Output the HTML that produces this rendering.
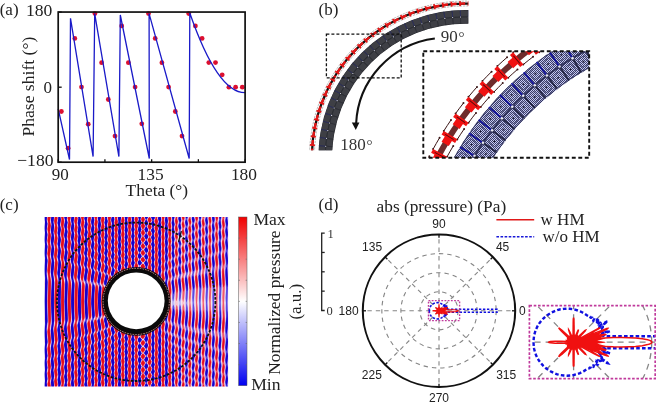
<!DOCTYPE html>
<html><head><meta charset="utf-8"><title>fig</title>
<style>html,body{margin:0;padding:0;background:#fff;overflow:hidden;width:656px;height:403px}svg{display:block;filter:blur(0.35px)}</style>
</head><body>
<svg width="656" height="403" viewBox="0 0 656 403">
<rect width="656" height="403" fill="#fff"/>
<g id="pa">
<circle cx="61.4" cy="111.5" r="2.4" fill="#dc1030"/>
<circle cx="68.1" cy="148.2" r="2.4" fill="#dc1030"/>
<circle cx="74.8" cy="38.4" r="2.4" fill="#dc1030"/>
<circle cx="81.5" cy="87.1" r="2.4" fill="#dc1030"/>
<circle cx="88.2" cy="124.2" r="2.4" fill="#dc1030"/>
<circle cx="94.9" cy="13.6" r="2.4" fill="#dc1030"/>
<circle cx="101.6" cy="62.7" r="2.4" fill="#dc1030"/>
<circle cx="108.3" cy="99.5" r="2.4" fill="#dc1030"/>
<circle cx="115" cy="136.1" r="2.4" fill="#dc1030"/>
<circle cx="121.7" cy="25.9" r="2.4" fill="#dc1030"/>
<circle cx="128.4" cy="62.7" r="2.4" fill="#dc1030"/>
<circle cx="135.1" cy="87.1" r="2.4" fill="#dc1030"/>
<circle cx="141.8" cy="123.8" r="2.4" fill="#dc1030"/>
<circle cx="148.5" cy="13.6" r="2.4" fill="#dc1030"/>
<circle cx="155.2" cy="38.4" r="2.4" fill="#dc1030"/>
<circle cx="161.9" cy="62.7" r="2.4" fill="#dc1030"/>
<circle cx="168.6" cy="87.1" r="2.4" fill="#dc1030"/>
<circle cx="175.3" cy="111.5" r="2.4" fill="#dc1030"/>
<circle cx="182" cy="136.1" r="2.4" fill="#dc1030"/>
<circle cx="188.7" cy="13.6" r="2.4" fill="#dc1030"/>
<circle cx="195.4" cy="25.9" r="2.4" fill="#dc1030"/>
<circle cx="202.1" cy="38.4" r="2.4" fill="#dc1030"/>
<circle cx="208.8" cy="62.6" r="2.4" fill="#dc1030"/>
<circle cx="215.5" cy="62.6" r="2.4" fill="#dc1030"/>
<circle cx="222.2" cy="74.8" r="2.4" fill="#dc1030"/>
<circle cx="228.9" cy="87.2" r="2.4" fill="#dc1030"/>
<circle cx="235.6" cy="87.2" r="2.4" fill="#dc1030"/>
<circle cx="242.3" cy="87.2" r="2.4" fill="#dc1030"/>
<path d="M58.2,108.9 L69.5,159.5 L70.5,18.3 L93.1,156.6 L94.7,13.6 L118.9,156.6 L120.3,15 L149.3,158.5 L149.1,13.6 L189.2,158.5 L189.8,13 Q217.4,92.7 245,92.7" fill="none" stroke="#1a1ac8" stroke-width="1.3" stroke-linejoin="miter"/>
<rect x="58.2" y="12.05" width="186.9" height="150.15" fill="none" stroke="#111" stroke-width="1.7"/>
<line x1="58.2" y1="12.05" x2="61.7" y2="12.05" stroke="#111" stroke-width="1.3"/>
<line x1="58.2" y1="87.2" x2="61.7" y2="87.2" stroke="#111" stroke-width="1.3"/>
<line x1="58.2" y1="162.2" x2="61.7" y2="162.2" stroke="#111" stroke-width="1.3"/>
<line x1="58.2" y1="162.2" x2="58.2" y2="159.2" stroke="#111" stroke-width="1.3"/>
<line x1="104.92" y1="162.2" x2="104.92" y2="159.2" stroke="#111" stroke-width="1.3"/>
<line x1="151.65" y1="162.2" x2="151.65" y2="159.2" stroke="#111" stroke-width="1.3"/>
<line x1="198.38" y1="162.2" x2="198.38" y2="159.2" stroke="#111" stroke-width="1.3"/>
<line x1="245.1" y1="162.2" x2="245.1" y2="159.2" stroke="#111" stroke-width="1.3"/>
<g font-family="Liberation Serif, serif" font-size="17" fill="#222">
<text x="-0.3" y="14.6">(a)</text>
<text x="25.9" y="16.1" font-size="17.6">180</text>
<text x="43.6" y="92.8">0</text>
<text x="17.2" y="165.6" font-size="17.6">&#8722;180</text>
<text x="51.8" y="180.3">90</text>
<text x="137.6" y="180.3" font-size="17.4">135</text>
<text x="230.9" y="180.3" font-size="17.4">180</text>
<text x="125.6" y="196.2" font-size="17.4">Theta (&#176;)</text>
<text transform="translate(34.1,136.6) rotate(-90)" font-size="17.6">Phase shift (&#176;)</text>
</g></g>
<defs>
<clipPath id="clipMainRing"><rect x="300" y="-5" width="168.3" height="155.3"/></clipPath>
<clipPath id="clipInset"><rect x="423.3" y="51.2" width="165.9" height="106.6"/></clipPath>
<pattern id="mesh" width="2" height="2" patternUnits="userSpaceOnUse"><rect width="2" height="2" fill="#c8ccf2"/><rect width="1" height="1" fill="#3c3e6c"/><rect x="1" y="1" width="1" height="1" fill="#3c3e6c"/></pattern>
</defs>
<g clip-path="url(#clipMainRing)">
<path d="M318.49,162.13 A147,147 0 0 1 470.53,10.09 L470.05,23.88 A133.2,133.2 0 0 0 332.28,161.65 Z" fill="#2a2b30"/>
<rect x="-3.43" y="-3.05" width="6.87" height="6.1" fill="#3e3f45" rx="1.2" transform="translate(328.75,157.94) rotate(269.61)"/>
<rect x="-3.63" y="-3.05" width="7.25" height="6.1" fill="#3e3f45" rx="1.2" transform="translate(321.85,157.98) rotate(269.61)"/>
<rect x="-3.43" y="-3.05" width="6.87" height="6.1" fill="#3e3f45" rx="1.2" transform="translate(328.92,150.27) rotate(272.82)"/>
<rect x="-3.63" y="-3.05" width="7.25" height="6.1" fill="#3e3f45" rx="1.2" transform="translate(322.02,149.94) rotate(272.82)"/>
<rect x="-3.43" y="-3.05" width="6.87" height="6.1" fill="#3e3f45" rx="1.2" transform="translate(329.51,142.63) rotate(276.03)"/>
<rect x="-3.63" y="-3.05" width="7.25" height="6.1" fill="#3e3f45" rx="1.2" transform="translate(322.65,141.91) rotate(276.03)"/>
<rect x="-3.43" y="-3.05" width="6.87" height="6.1" fill="#3e3f45" rx="1.2" transform="translate(330.53,135.04) rotate(279.25)"/>
<rect x="-3.63" y="-3.05" width="7.25" height="6.1" fill="#3e3f45" rx="1.2" transform="translate(323.72,133.93) rotate(279.25)"/>
<rect x="-3.43" y="-3.05" width="6.87" height="6.1" fill="#3e3f45" rx="1.2" transform="translate(331.97,127.51) rotate(282.46)"/>
<rect x="-3.63" y="-3.05" width="7.25" height="6.1" fill="#3e3f45" rx="1.2" transform="translate(325.23,126.02) rotate(282.46)"/>
<rect x="-3.43" y="-3.05" width="6.87" height="6.1" fill="#3e3f45" rx="1.2" transform="translate(333.83,120.08) rotate(285.68)"/>
<rect x="-3.63" y="-3.05" width="7.25" height="6.1" fill="#3e3f45" rx="1.2" transform="translate(327.19,118.21) rotate(285.68)"/>
<rect x="-3.43" y="-3.05" width="6.87" height="6.1" fill="#3e3f45" rx="1.2" transform="translate(336.11,112.76) rotate(288.89)"/>
<rect x="-3.63" y="-3.05" width="7.25" height="6.1" fill="#3e3f45" rx="1.2" transform="translate(329.58,110.52) rotate(288.89)"/>
<rect x="-3.43" y="-3.05" width="6.87" height="6.1" fill="#3e3f45" rx="1.2" transform="translate(338.79,105.58) rotate(292.11)"/>
<rect x="-3.63" y="-3.05" width="7.25" height="6.1" fill="#3e3f45" rx="1.2" transform="translate(332.4,102.98) rotate(292.11)"/>
<rect x="-3.43" y="-3.05" width="6.87" height="6.1" fill="#3e3f45" rx="1.2" transform="translate(341.88,98.56) rotate(295.32)"/>
<rect x="-3.63" y="-3.05" width="7.25" height="6.1" fill="#3e3f45" rx="1.2" transform="translate(335.64,95.61) rotate(295.32)"/>
<rect x="-3.43" y="-3.05" width="6.87" height="6.1" fill="#3e3f45" rx="1.2" transform="translate(345.35,91.73) rotate(298.53)"/>
<rect x="-3.63" y="-3.05" width="7.25" height="6.1" fill="#3e3f45" rx="1.2" transform="translate(339.29,88.43) rotate(298.53)"/>
<rect x="-3.43" y="-3.05" width="6.87" height="6.1" fill="#3e3f45" rx="1.2" transform="translate(349.2,85.1) rotate(301.75)"/>
<rect x="-3.63" y="-3.05" width="7.25" height="6.1" fill="#3e3f45" rx="1.2" transform="translate(343.33,81.47) rotate(301.75)"/>
<rect x="-3.43" y="-3.05" width="6.87" height="6.1" fill="#3e3f45" rx="1.2" transform="translate(353.41,78.7) rotate(304.96)"/>
<rect x="-3.63" y="-3.05" width="7.25" height="6.1" fill="#3e3f45" rx="1.2" transform="translate(347.75,74.74) rotate(304.96)"/>
<rect x="-3.43" y="-3.05" width="6.87" height="6.1" fill="#3e3f45" rx="1.2" transform="translate(357.98,72.54) rotate(308.18)"/>
<rect x="-3.63" y="-3.05" width="7.25" height="6.1" fill="#3e3f45" rx="1.2" transform="translate(352.55,68.28) rotate(308.18)"/>
<rect x="-3.43" y="-3.05" width="6.87" height="6.1" fill="#3e3f45" rx="1.2" transform="translate(362.88,66.65) rotate(311.39)"/>
<rect x="-3.63" y="-3.05" width="7.25" height="6.1" fill="#3e3f45" rx="1.2" transform="translate(357.7,62.09) rotate(311.39)"/>
<rect x="-3.43" y="-3.05" width="6.87" height="6.1" fill="#3e3f45" rx="1.2" transform="translate(368.11,61.05) rotate(314.6)"/>
<rect x="-3.63" y="-3.05" width="7.25" height="6.1" fill="#3e3f45" rx="1.2" transform="translate(363.19,56.2) rotate(314.6)"/>
<rect x="-3.43" y="-3.05" width="6.87" height="6.1" fill="#3e3f45" rx="1.2" transform="translate(373.64,55.74) rotate(317.82)"/>
<rect x="-3.63" y="-3.05" width="7.25" height="6.1" fill="#3e3f45" rx="1.2" transform="translate(369.01,50.63) rotate(317.82)"/>
<rect x="-3.43" y="-3.05" width="6.87" height="6.1" fill="#3e3f45" rx="1.2" transform="translate(379.46,50.76) rotate(321.03)"/>
<rect x="-3.63" y="-3.05" width="7.25" height="6.1" fill="#3e3f45" rx="1.2" transform="translate(375.12,45.39) rotate(321.03)"/>
<rect x="-3.43" y="-3.05" width="6.87" height="6.1" fill="#3e3f45" rx="1.2" transform="translate(385.55,46.11) rotate(324.25)"/>
<rect x="-3.63" y="-3.05" width="7.25" height="6.1" fill="#3e3f45" rx="1.2" transform="translate(381.52,40.51) rotate(324.25)"/>
<rect x="-3.43" y="-3.05" width="6.87" height="6.1" fill="#3e3f45" rx="1.2" transform="translate(391.9,41.8) rotate(327.46)"/>
<rect x="-3.63" y="-3.05" width="7.25" height="6.1" fill="#3e3f45" rx="1.2" transform="translate(388.18,35.99) rotate(327.46)"/>
<rect x="-3.43" y="-3.05" width="6.87" height="6.1" fill="#3e3f45" rx="1.2" transform="translate(398.47,37.86) rotate(330.67)"/>
<rect x="-3.63" y="-3.05" width="7.25" height="6.1" fill="#3e3f45" rx="1.2" transform="translate(395.09,31.85) rotate(330.67)"/>
<rect x="-3.43" y="-3.05" width="6.87" height="6.1" fill="#3e3f45" rx="1.2" transform="translate(405.25,34.3) rotate(333.89)"/>
<rect x="-3.63" y="-3.05" width="7.25" height="6.1" fill="#3e3f45" rx="1.2" transform="translate(402.22,28.1) rotate(333.89)"/>
<rect x="-3.43" y="-3.05" width="6.87" height="6.1" fill="#3e3f45" rx="1.2" transform="translate(412.23,31.12) rotate(337.1)"/>
<rect x="-3.63" y="-3.05" width="7.25" height="6.1" fill="#3e3f45" rx="1.2" transform="translate(409.54,24.76) rotate(337.1)"/>
<rect x="-3.43" y="-3.05" width="6.87" height="6.1" fill="#3e3f45" rx="1.2" transform="translate(419.37,28.34) rotate(340.31)"/>
<rect x="-3.63" y="-3.05" width="7.25" height="6.1" fill="#3e3f45" rx="1.2" transform="translate(417.05,21.84) rotate(340.31)"/>
<rect x="-3.43" y="-3.05" width="6.87" height="6.1" fill="#3e3f45" rx="1.2" transform="translate(426.66,25.96) rotate(343.53)"/>
<rect x="-3.63" y="-3.05" width="7.25" height="6.1" fill="#3e3f45" rx="1.2" transform="translate(424.7,19.34) rotate(343.53)"/>
<rect x="-3.43" y="-3.05" width="6.87" height="6.1" fill="#3e3f45" rx="1.2" transform="translate(434.06,23.99) rotate(346.74)"/>
<rect x="-3.63" y="-3.05" width="7.25" height="6.1" fill="#3e3f45" rx="1.2" transform="translate(432.48,17.28) rotate(346.74)"/>
<rect x="-3.43" y="-3.05" width="6.87" height="6.1" fill="#3e3f45" rx="1.2" transform="translate(441.57,22.44) rotate(349.96)"/>
<rect x="-3.63" y="-3.05" width="7.25" height="6.1" fill="#3e3f45" rx="1.2" transform="translate(440.37,15.65) rotate(349.96)"/>
<rect x="-3.43" y="-3.05" width="6.87" height="6.1" fill="#3e3f45" rx="1.2" transform="translate(449.15,21.32) rotate(353.17)"/>
<rect x="-3.63" y="-3.05" width="7.25" height="6.1" fill="#3e3f45" rx="1.2" transform="translate(448.33,14.47) rotate(353.17)"/>
<rect x="-3.43" y="-3.05" width="6.87" height="6.1" fill="#3e3f45" rx="1.2" transform="translate(456.78,20.62) rotate(356.38)"/>
<rect x="-3.63" y="-3.05" width="7.25" height="6.1" fill="#3e3f45" rx="1.2" transform="translate(456.35,13.74) rotate(356.38)"/>
<rect x="-3.43" y="-3.05" width="6.87" height="6.1" fill="#3e3f45" rx="1.2" transform="translate(464.44,20.35) rotate(359.6)"/>
<rect x="-3.63" y="-3.05" width="7.25" height="6.1" fill="#3e3f45" rx="1.2" transform="translate(464.4,13.45) rotate(359.6)"/>
<rect x="-3.43" y="-3.05" width="6.87" height="6.1" fill="#3e3f45" rx="1.2" transform="translate(472.11,20.51) rotate(362.81)"/>
<rect x="-3.63" y="-3.05" width="7.25" height="6.1" fill="#3e3f45" rx="1.2" transform="translate(472.44,13.62) rotate(362.81)"/>
<rect x="-3.43" y="-3.05" width="6.87" height="6.1" fill="#3e3f45" rx="1.2" transform="translate(479.75,21.11) rotate(366.03)"/>
<rect x="-3.63" y="-3.05" width="7.25" height="6.1" fill="#3e3f45" rx="1.2" transform="translate(480.47,14.24) rotate(366.03)"/>
<path d="M325.39,161.89 A140.1,140.1 0 0 1 470.29,16.99" fill="none" stroke="#2e3038" stroke-width="0.6"/>
<line x1="318.49" y1="162.13" x2="325.39" y2="161.89" stroke="#2c3070" stroke-width="0.7"/>
<line x1="325.39" y1="161.89" x2="332.28" y2="161.65" stroke="#30323a" stroke-width="0.6"/>
<circle cx="325.39" cy="161.89" r="0.55" fill="#e8e8f0"/>
<line x1="318.43" y1="153.89" x2="325.33" y2="154.03" stroke="#2c3070" stroke-width="0.7"/>
<line x1="325.33" y1="154.03" x2="332.23" y2="154.18" stroke="#30323a" stroke-width="0.6"/>
<circle cx="325.33" cy="154.03" r="0.55" fill="#e8e8f0"/>
<line x1="318.84" y1="145.65" x2="325.72" y2="146.18" stroke="#2c3070" stroke-width="0.7"/>
<line x1="325.72" y1="146.18" x2="332.6" y2="146.72" stroke="#30323a" stroke-width="0.6"/>
<circle cx="325.72" cy="146.18" r="0.55" fill="#e8e8f0"/>
<line x1="319.71" y1="137.45" x2="326.54" y2="138.37" stroke="#2c3070" stroke-width="0.7"/>
<line x1="326.54" y1="138.37" x2="333.38" y2="139.29" stroke="#30323a" stroke-width="0.6"/>
<circle cx="326.54" cy="138.37" r="0.55" fill="#e8e8f0"/>
<line x1="321.03" y1="129.31" x2="327.81" y2="130.61" stroke="#2c3070" stroke-width="0.7"/>
<line x1="327.81" y1="130.61" x2="334.58" y2="131.91" stroke="#30323a" stroke-width="0.6"/>
<circle cx="327.81" cy="130.61" r="0.55" fill="#e8e8f0"/>
<line x1="322.81" y1="121.26" x2="329.5" y2="122.94" stroke="#2c3070" stroke-width="0.7"/>
<line x1="329.5" y1="122.94" x2="336.2" y2="124.62" stroke="#30323a" stroke-width="0.6"/>
<circle cx="329.5" cy="122.94" r="0.55" fill="#e8e8f0"/>
<line x1="325.04" y1="113.33" x2="331.63" y2="115.38" stroke="#2c3070" stroke-width="0.7"/>
<line x1="331.63" y1="115.38" x2="338.21" y2="117.43" stroke="#30323a" stroke-width="0.6"/>
<circle cx="331.63" cy="115.38" r="0.55" fill="#e8e8f0"/>
<line x1="327.71" y1="105.52" x2="334.17" y2="107.94" stroke="#2c3070" stroke-width="0.7"/>
<line x1="334.17" y1="107.94" x2="340.63" y2="110.36" stroke="#30323a" stroke-width="0.6"/>
<circle cx="334.17" cy="107.94" r="0.55" fill="#e8e8f0"/>
<line x1="330.81" y1="97.89" x2="337.13" y2="100.66" stroke="#2c3070" stroke-width="0.7"/>
<line x1="337.13" y1="100.66" x2="343.44" y2="103.44" stroke="#30323a" stroke-width="0.6"/>
<circle cx="337.13" cy="100.66" r="0.55" fill="#e8e8f0"/>
<line x1="334.34" y1="90.43" x2="340.49" y2="93.56" stroke="#2c3070" stroke-width="0.7"/>
<line x1="340.49" y1="93.56" x2="346.64" y2="96.68" stroke="#30323a" stroke-width="0.6"/>
<circle cx="340.49" cy="93.56" r="0.55" fill="#e8e8f0"/>
<line x1="338.27" y1="83.19" x2="344.24" y2="86.65" stroke="#2c3070" stroke-width="0.7"/>
<line x1="344.24" y1="86.65" x2="350.21" y2="90.12" stroke="#30323a" stroke-width="0.6"/>
<circle cx="344.24" cy="86.65" r="0.55" fill="#e8e8f0"/>
<line x1="342.61" y1="76.18" x2="348.38" y2="79.97" stroke="#2c3070" stroke-width="0.7"/>
<line x1="348.38" y1="79.97" x2="354.14" y2="83.77" stroke="#30323a" stroke-width="0.6"/>
<circle cx="348.38" cy="79.97" r="0.55" fill="#e8e8f0"/>
<line x1="347.34" y1="69.42" x2="352.88" y2="73.53" stroke="#2c3070" stroke-width="0.7"/>
<line x1="352.88" y1="73.53" x2="358.42" y2="77.64" stroke="#30323a" stroke-width="0.6"/>
<circle cx="352.88" cy="73.53" r="0.55" fill="#e8e8f0"/>
<line x1="352.43" y1="62.94" x2="357.74" y2="67.35" stroke="#2c3070" stroke-width="0.7"/>
<line x1="357.74" y1="67.35" x2="363.04" y2="71.77" stroke="#30323a" stroke-width="0.6"/>
<circle cx="357.74" cy="67.35" r="0.55" fill="#e8e8f0"/>
<line x1="357.88" y1="56.75" x2="362.93" y2="61.46" stroke="#2c3070" stroke-width="0.7"/>
<line x1="362.93" y1="61.46" x2="367.98" y2="66.16" stroke="#30323a" stroke-width="0.6"/>
<circle cx="362.93" cy="61.46" r="0.55" fill="#e8e8f0"/>
<line x1="363.67" y1="50.88" x2="368.45" y2="55.86" stroke="#2c3070" stroke-width="0.7"/>
<line x1="368.45" y1="55.86" x2="373.22" y2="60.85" stroke="#30323a" stroke-width="0.6"/>
<circle cx="368.45" cy="55.86" r="0.55" fill="#e8e8f0"/>
<line x1="369.78" y1="45.35" x2="374.27" y2="50.59" stroke="#2c3070" stroke-width="0.7"/>
<line x1="374.27" y1="50.59" x2="378.76" y2="55.83" stroke="#30323a" stroke-width="0.6"/>
<circle cx="374.27" cy="50.59" r="0.55" fill="#e8e8f0"/>
<line x1="376.19" y1="40.16" x2="380.38" y2="45.65" stroke="#2c3070" stroke-width="0.7"/>
<line x1="380.38" y1="45.65" x2="384.57" y2="51.13" stroke="#30323a" stroke-width="0.6"/>
<circle cx="380.38" cy="45.65" r="0.55" fill="#e8e8f0"/>
<line x1="382.88" y1="35.34" x2="386.76" y2="41.05" stroke="#2c3070" stroke-width="0.7"/>
<line x1="386.76" y1="41.05" x2="390.63" y2="46.76" stroke="#30323a" stroke-width="0.6"/>
<circle cx="386.76" cy="41.05" r="0.55" fill="#e8e8f0"/>
<line x1="389.83" y1="30.91" x2="393.38" y2="36.83" stroke="#2c3070" stroke-width="0.7"/>
<line x1="393.38" y1="36.83" x2="396.93" y2="42.75" stroke="#30323a" stroke-width="0.6"/>
<circle cx="393.38" cy="36.83" r="0.55" fill="#e8e8f0"/>
<line x1="397.02" y1="26.87" x2="400.23" y2="32.98" stroke="#2c3070" stroke-width="0.7"/>
<line x1="400.23" y1="32.98" x2="403.44" y2="39.09" stroke="#30323a" stroke-width="0.6"/>
<circle cx="400.23" cy="32.98" r="0.55" fill="#e8e8f0"/>
<line x1="404.43" y1="23.24" x2="407.29" y2="29.52" stroke="#2c3070" stroke-width="0.7"/>
<line x1="407.29" y1="29.52" x2="410.15" y2="35.8" stroke="#30323a" stroke-width="0.6"/>
<circle cx="407.29" cy="29.52" r="0.55" fill="#e8e8f0"/>
<line x1="412.02" y1="20.03" x2="414.53" y2="26.46" stroke="#2c3070" stroke-width="0.7"/>
<line x1="414.53" y1="26.46" x2="417.03" y2="32.89" stroke="#30323a" stroke-width="0.6"/>
<circle cx="414.53" cy="26.46" r="0.55" fill="#e8e8f0"/>
<line x1="419.78" y1="17.26" x2="421.93" y2="23.82" stroke="#2c3070" stroke-width="0.7"/>
<line x1="421.93" y1="23.82" x2="424.07" y2="30.38" stroke="#30323a" stroke-width="0.6"/>
<circle cx="421.93" cy="23.82" r="0.55" fill="#e8e8f0"/>
<line x1="427.69" y1="14.92" x2="429.46" y2="21.59" stroke="#2c3070" stroke-width="0.7"/>
<line x1="429.46" y1="21.59" x2="431.23" y2="28.26" stroke="#30323a" stroke-width="0.6"/>
<circle cx="429.46" cy="21.59" r="0.55" fill="#e8e8f0"/>
<line x1="435.72" y1="13.03" x2="437.11" y2="19.79" stroke="#2c3070" stroke-width="0.7"/>
<line x1="437.11" y1="19.79" x2="438.5" y2="26.54" stroke="#30323a" stroke-width="0.6"/>
<circle cx="437.11" cy="19.79" r="0.55" fill="#e8e8f0"/>
<line x1="443.83" y1="11.59" x2="444.85" y2="18.42" stroke="#2c3070" stroke-width="0.7"/>
<line x1="444.85" y1="18.42" x2="445.86" y2="25.24" stroke="#30323a" stroke-width="0.6"/>
<circle cx="444.85" cy="18.42" r="0.55" fill="#e8e8f0"/>
<line x1="452.02" y1="10.61" x2="452.65" y2="17.48" stroke="#2c3070" stroke-width="0.7"/>
<line x1="452.65" y1="17.48" x2="453.28" y2="24.35" stroke="#30323a" stroke-width="0.6"/>
<circle cx="452.65" cy="17.48" r="0.55" fill="#e8e8f0"/>
<line x1="460.25" y1="10.09" x2="460.49" y2="16.99" stroke="#2c3070" stroke-width="0.7"/>
<line x1="460.49" y1="16.99" x2="460.73" y2="23.88" stroke="#30323a" stroke-width="0.6"/>
<circle cx="460.49" cy="16.99" r="0.55" fill="#e8e8f0"/>
<line x1="468.49" y1="10.03" x2="468.35" y2="16.93" stroke="#2c3070" stroke-width="0.7"/>
<line x1="468.35" y1="16.93" x2="468.2" y2="23.83" stroke="#30323a" stroke-width="0.6"/>
<circle cx="468.35" cy="16.93" r="0.55" fill="#e8e8f0"/>
<line x1="476.73" y1="10.44" x2="476.2" y2="17.32" stroke="#2c3070" stroke-width="0.7"/>
<line x1="476.2" y1="17.32" x2="475.67" y2="24.2" stroke="#30323a" stroke-width="0.6"/>
<circle cx="476.2" cy="17.32" r="0.55" fill="#e8e8f0"/>
<path d="M309.59,162.44 A155.9,155.9 0 0 1 470.84,1.19" fill="none" stroke="#9a9a9a" stroke-width="0.7" stroke-dasharray="2.2 1"/>
<path d="M314.49,162.27 A151,151 0 0 1 470.67,6.09" fill="none" stroke="#9a9a9a" stroke-width="0.7" stroke-dasharray="2.2 1"/>
<path d="M312.04,162.36 A153.45,153.45 0 0 1 470.76,3.64" fill="none" stroke="#141010" stroke-width="2.3"/>
<path d="M312.04,162.36 A153.45,153.45 0 0 1 311.95,157.19" fill="none" stroke="#e41616" stroke-width="2.4"/>
<rect x="-0.9" y="-2.5" width="1.8" height="5" fill="#e41616"  transform="translate(312.04,162.36) rotate(268)"/>
<path d="M311.98,153.75 A153.45,153.45 0 0 1 312.18,148.59" fill="none" stroke="#e41616" stroke-width="2.4"/>
<rect x="-0.9" y="-2.5" width="1.8" height="5" fill="#e41616"  transform="translate(311.98,153.75) rotate(271.21)"/>
<path d="M312.41,145.15 A153.45,153.45 0 0 1 312.89,140.01" fill="none" stroke="#e41616" stroke-width="2.4"/>
<rect x="-0.9" y="-2.5" width="1.8" height="5" fill="#e41616"  transform="translate(312.41,145.15) rotate(274.43)"/>
<path d="M313.31,136.59 A153.45,153.45 0 0 1 314.09,131.49" fill="none" stroke="#e41616" stroke-width="2.4"/>
<rect x="-0.9" y="-2.5" width="1.8" height="5" fill="#e41616"  transform="translate(313.31,136.59) rotate(277.64)"/>
<path d="M314.7,128.1 A153.45,153.45 0 0 1 315.75,123.04" fill="none" stroke="#e41616" stroke-width="2.4"/>
<rect x="-0.9" y="-2.5" width="1.8" height="5" fill="#e41616"  transform="translate(314.7,128.1) rotate(280.86)"/>
<path d="M316.55,119.7 A153.45,153.45 0 0 1 317.89,114.71" fill="none" stroke="#e41616" stroke-width="2.4"/>
<rect x="-0.9" y="-2.5" width="1.8" height="5" fill="#e41616"  transform="translate(316.55,119.7) rotate(284.07)"/>
<path d="M318.88,111.41 A153.45,153.45 0 0 1 320.5,106.5" fill="none" stroke="#e41616" stroke-width="2.4"/>
<rect x="-0.9" y="-2.5" width="1.8" height="5" fill="#e41616"  transform="translate(318.88,111.41) rotate(287.28)"/>
<path d="M321.67,103.27 A153.45,153.45 0 0 1 323.56,98.46" fill="none" stroke="#e41616" stroke-width="2.4"/>
<rect x="-0.9" y="-2.5" width="1.8" height="5" fill="#e41616"  transform="translate(321.67,103.27) rotate(290.5)"/>
<path d="M324.9,95.29 A153.45,153.45 0 0 1 327.06,90.6" fill="none" stroke="#e41616" stroke-width="2.4"/>
<rect x="-0.9" y="-2.5" width="1.8" height="5" fill="#e41616"  transform="translate(324.9,95.29) rotate(293.71)"/>
<path d="M328.59,87.51 A153.45,153.45 0 0 1 331,82.95" fill="none" stroke="#e41616" stroke-width="2.4"/>
<rect x="-0.9" y="-2.5" width="1.8" height="5" fill="#e41616"  transform="translate(328.59,87.51) rotate(296.93)"/>
<path d="M332.7,79.95 A153.45,153.45 0 0 1 335.36,75.53" fill="none" stroke="#e41616" stroke-width="2.4"/>
<rect x="-0.9" y="-2.5" width="1.8" height="5" fill="#e41616"  transform="translate(332.7,79.95) rotate(300.14)"/>
<path d="M337.22,72.63 A153.45,153.45 0 0 1 340.14,68.37" fill="none" stroke="#e41616" stroke-width="2.4"/>
<rect x="-0.9" y="-2.5" width="1.8" height="5" fill="#e41616"  transform="translate(337.22,72.63) rotate(303.35)"/>
<path d="M342.16,65.58 A153.45,153.45 0 0 1 345.3,61.48" fill="none" stroke="#e41616" stroke-width="2.4"/>
<rect x="-0.9" y="-2.5" width="1.8" height="5" fill="#e41616"  transform="translate(342.16,65.58) rotate(306.57)"/>
<path d="M347.48,58.81 A153.45,153.45 0 0 1 350.85,54.9" fill="none" stroke="#e41616" stroke-width="2.4"/>
<rect x="-0.9" y="-2.5" width="1.8" height="5" fill="#e41616"  transform="translate(347.48,58.81) rotate(309.78)"/>
<path d="M353.17,52.36 A153.45,153.45 0 0 1 356.75,48.64" fill="none" stroke="#e41616" stroke-width="2.4"/>
<rect x="-0.9" y="-2.5" width="1.8" height="5" fill="#e41616"  transform="translate(353.17,52.36) rotate(313)"/>
<path d="M359.21,46.23 A153.45,153.45 0 0 1 363,42.72" fill="none" stroke="#e41616" stroke-width="2.4"/>
<rect x="-0.9" y="-2.5" width="1.8" height="5" fill="#e41616"  transform="translate(359.21,46.23) rotate(316.21)"/>
<path d="M365.59,40.45 A153.45,153.45 0 0 1 369.57,37.16" fill="none" stroke="#e41616" stroke-width="2.4"/>
<rect x="-0.9" y="-2.5" width="1.8" height="5" fill="#e41616"  transform="translate(365.59,40.45) rotate(319.42)"/>
<path d="M372.28,35.04 A153.45,153.45 0 0 1 376.44,31.97" fill="none" stroke="#e41616" stroke-width="2.4"/>
<rect x="-0.9" y="-2.5" width="1.8" height="5" fill="#e41616"  transform="translate(372.28,35.04) rotate(322.64)"/>
<path d="M379.26,30.01 A153.45,153.45 0 0 1 383.59,27.18" fill="none" stroke="#e41616" stroke-width="2.4"/>
<rect x="-0.9" y="-2.5" width="1.8" height="5" fill="#e41616"  transform="translate(379.26,30.01) rotate(325.85)"/>
<path d="M386.52,25.38 A153.45,153.45 0 0 1 390.99,22.8" fill="none" stroke="#e41616" stroke-width="2.4"/>
<rect x="-0.9" y="-2.5" width="1.8" height="5" fill="#e41616"  transform="translate(386.52,25.38) rotate(329.07)"/>
<path d="M394.02,21.16 A153.45,153.45 0 0 1 398.63,18.84" fill="none" stroke="#e41616" stroke-width="2.4"/>
<rect x="-0.9" y="-2.5" width="1.8" height="5" fill="#e41616"  transform="translate(394.02,21.16) rotate(332.28)"/>
<path d="M401.75,17.37 A153.45,153.45 0 0 1 406.49,15.31" fill="none" stroke="#e41616" stroke-width="2.4"/>
<rect x="-0.9" y="-2.5" width="1.8" height="5" fill="#e41616"  transform="translate(401.75,17.37) rotate(335.49)"/>
<path d="M409.68,14.02 A153.45,153.45 0 0 1 414.52,12.23" fill="none" stroke="#e41616" stroke-width="2.4"/>
<rect x="-0.9" y="-2.5" width="1.8" height="5" fill="#e41616"  transform="translate(409.68,14.02) rotate(338.71)"/>
<path d="M417.78,11.13 A153.45,153.45 0 0 1 422.72,9.61" fill="none" stroke="#e41616" stroke-width="2.4"/>
<rect x="-0.9" y="-2.5" width="1.8" height="5" fill="#e41616"  transform="translate(417.78,11.13) rotate(341.92)"/>
<path d="M426.04,8.68 A153.45,153.45 0 0 1 431.05,7.44" fill="none" stroke="#e41616" stroke-width="2.4"/>
<rect x="-0.9" y="-2.5" width="1.8" height="5" fill="#e41616"  transform="translate(426.04,8.68) rotate(345.14)"/>
<path d="M434.41,6.71 A153.45,153.45 0 0 1 439.49,5.75" fill="none" stroke="#e41616" stroke-width="2.4"/>
<rect x="-0.9" y="-2.5" width="1.8" height="5" fill="#e41616"  transform="translate(434.41,6.71) rotate(348.35)"/>
<path d="M442.89,5.21 A153.45,153.45 0 0 1 448.01,4.54" fill="none" stroke="#e41616" stroke-width="2.4"/>
<rect x="-0.9" y="-2.5" width="1.8" height="5" fill="#e41616"  transform="translate(442.89,5.21) rotate(351.56)"/>
<path d="M451.43,4.19 A153.45,153.45 0 0 1 456.58,3.8" fill="none" stroke="#e41616" stroke-width="2.4"/>
<rect x="-0.9" y="-2.5" width="1.8" height="5" fill="#e41616"  transform="translate(451.43,4.19) rotate(354.78)"/>
<path d="M460.02,3.64 A153.45,153.45 0 0 1 465.19,3.55" fill="none" stroke="#e41616" stroke-width="2.4"/>
<rect x="-0.9" y="-2.5" width="1.8" height="5" fill="#e41616"  transform="translate(460.02,3.64) rotate(357.99)"/>
<path d="M468.63,3.58 A153.45,153.45 0 0 1 473.79,3.78" fill="none" stroke="#e41616" stroke-width="2.4"/>
<rect x="-0.9" y="-2.5" width="1.8" height="5" fill="#e41616"  transform="translate(468.63,3.58) rotate(361.21)"/>
<path d="M477.23,4.01 A153.45,153.45 0 0 1 482.37,4.49" fill="none" stroke="#e41616" stroke-width="2.4"/>
<rect x="-0.9" y="-2.5" width="1.8" height="5" fill="#e41616"  transform="translate(477.23,4.01) rotate(364.42)"/>
</g>
<rect x="326.4" y="34.2" width="74.8" height="43.7" fill="none" stroke="#111" stroke-width="1.3" stroke-dasharray="3 2"/>
<g clip-path="url(#clipInset)">
<path d="M419.59,253.99 A308.7,308.7 0 0 1 669.99,3.59 L675.92,37.17 A274.6,274.6 0 0 0 453.17,259.92 Z" fill="url(#mesh)"/>
<rect x="-6.94" y="-7.92" width="13.87" height="15.85" fill="none" rx="2.5" stroke="#30325a" stroke-width="0.9" transform="translate(446.18,251.03) rotate(281.52)"/>
<rect x="-4.14" y="-4.69" width="8.29" height="9.38" fill="none" rx="2" stroke="#3a3c66" stroke-width="0.7" transform="translate(446.18,251.03) rotate(281.52)"/>
<rect x="-0.8" y="-0.8" width="1.6" height="1.6" fill="#1a1a30"  transform="translate(446.18,251.03) rotate(281.52)"/>
<rect x="-7.39" y="-7.92" width="14.78" height="15.85" fill="none" rx="2.5" stroke="#30325a" stroke-width="0.9" transform="translate(429.48,247.63) rotate(281.52)"/>
<rect x="-4.39" y="-4.69" width="8.79" height="9.38" fill="none" rx="2" stroke="#3a3c66" stroke-width="0.7" transform="translate(429.48,247.63) rotate(281.52)"/>
<rect x="-0.8" y="-0.8" width="1.6" height="1.6" fill="#1a1a30"  transform="translate(429.48,247.63) rotate(281.52)"/>
<rect x="-6.94" y="-7.92" width="13.87" height="15.85" fill="none" rx="2.5" stroke="#30325a" stroke-width="0.9" transform="translate(449.59,236.35) rotate(284.57)"/>
<rect x="-4.14" y="-4.69" width="8.29" height="9.38" fill="none" rx="2" stroke="#3a3c66" stroke-width="0.7" transform="translate(449.59,236.35) rotate(284.57)"/>
<rect x="-0.8" y="-0.8" width="1.6" height="1.6" fill="#1a1a30"  transform="translate(449.59,236.35) rotate(284.57)"/>
<rect x="-7.39" y="-7.92" width="14.78" height="15.85" fill="none" rx="2.5" stroke="#30325a" stroke-width="0.9" transform="translate(433.08,232.06) rotate(284.57)"/>
<rect x="-4.39" y="-4.69" width="8.79" height="9.38" fill="none" rx="2" stroke="#3a3c66" stroke-width="0.7" transform="translate(433.08,232.06) rotate(284.57)"/>
<rect x="-0.8" y="-0.8" width="1.6" height="1.6" fill="#1a1a30"  transform="translate(433.08,232.06) rotate(284.57)"/>
<rect x="-6.94" y="-7.92" width="13.87" height="15.85" fill="none" rx="2.5" stroke="#30325a" stroke-width="0.9" transform="translate(453.77,221.87) rotate(287.62)"/>
<rect x="-4.14" y="-4.69" width="8.29" height="9.38" fill="none" rx="2" stroke="#3a3c66" stroke-width="0.7" transform="translate(453.77,221.87) rotate(287.62)"/>
<rect x="-0.8" y="-0.8" width="1.6" height="1.6" fill="#1a1a30"  transform="translate(453.77,221.87) rotate(287.62)"/>
<rect x="-7.39" y="-7.92" width="14.78" height="15.85" fill="none" rx="2.5" stroke="#30325a" stroke-width="0.9" transform="translate(437.52,216.71) rotate(287.62)"/>
<rect x="-4.39" y="-4.69" width="8.79" height="9.38" fill="none" rx="2" stroke="#3a3c66" stroke-width="0.7" transform="translate(437.52,216.71) rotate(287.62)"/>
<rect x="-0.8" y="-0.8" width="1.6" height="1.6" fill="#1a1a30"  transform="translate(437.52,216.71) rotate(287.62)"/>
<rect x="-6.94" y="-7.92" width="13.87" height="15.85" fill="none" rx="2.5" stroke="#30325a" stroke-width="0.9" transform="translate(458.71,207.64) rotate(290.68)"/>
<rect x="-4.14" y="-4.69" width="8.29" height="9.38" fill="none" rx="2" stroke="#3a3c66" stroke-width="0.7" transform="translate(458.71,207.64) rotate(290.68)"/>
<rect x="-0.8" y="-0.8" width="1.6" height="1.6" fill="#1a1a30"  transform="translate(458.71,207.64) rotate(290.68)"/>
<rect x="-7.39" y="-7.92" width="14.78" height="15.85" fill="none" rx="2.5" stroke="#30325a" stroke-width="0.9" transform="translate(442.76,201.62) rotate(290.68)"/>
<rect x="-4.39" y="-4.69" width="8.79" height="9.38" fill="none" rx="2" stroke="#3a3c66" stroke-width="0.7" transform="translate(442.76,201.62) rotate(290.68)"/>
<rect x="-0.8" y="-0.8" width="1.6" height="1.6" fill="#1a1a30"  transform="translate(442.76,201.62) rotate(290.68)"/>
<rect x="-6.94" y="-7.92" width="13.87" height="15.85" fill="none" rx="2.5" stroke="#30325a" stroke-width="0.9" transform="translate(464.4,193.69) rotate(293.73)"/>
<rect x="-4.14" y="-4.69" width="8.29" height="9.38" fill="none" rx="2" stroke="#3a3c66" stroke-width="0.7" transform="translate(464.4,193.69) rotate(293.73)"/>
<rect x="-0.8" y="-0.8" width="1.6" height="1.6" fill="#1a1a30"  transform="translate(464.4,193.69) rotate(293.73)"/>
<rect x="-7.39" y="-7.92" width="14.78" height="15.85" fill="none" rx="2.5" stroke="#30325a" stroke-width="0.9" transform="translate(448.79,186.83) rotate(293.73)"/>
<rect x="-4.39" y="-4.69" width="8.79" height="9.38" fill="none" rx="2" stroke="#3a3c66" stroke-width="0.7" transform="translate(448.79,186.83) rotate(293.73)"/>
<rect x="-0.8" y="-0.8" width="1.6" height="1.6" fill="#1a1a30"  transform="translate(448.79,186.83) rotate(293.73)"/>
<rect x="-6.94" y="-7.92" width="13.87" height="15.85" fill="none" rx="2.5" stroke="#30325a" stroke-width="0.9" transform="translate(470.83,180.06) rotate(296.77)"/>
<rect x="-4.14" y="-4.69" width="8.29" height="9.38" fill="none" rx="2" stroke="#3a3c66" stroke-width="0.7" transform="translate(470.83,180.06) rotate(296.77)"/>
<rect x="-0.8" y="-0.8" width="1.6" height="1.6" fill="#1a1a30"  transform="translate(470.83,180.06) rotate(296.77)"/>
<rect x="-7.39" y="-7.92" width="14.78" height="15.85" fill="none" rx="2.5" stroke="#30325a" stroke-width="0.9" transform="translate(455.61,172.37) rotate(296.77)"/>
<rect x="-4.39" y="-4.69" width="8.79" height="9.38" fill="none" rx="2" stroke="#3a3c66" stroke-width="0.7" transform="translate(455.61,172.37) rotate(296.77)"/>
<rect x="-0.8" y="-0.8" width="1.6" height="1.6" fill="#1a1a30"  transform="translate(455.61,172.37) rotate(296.77)"/>
<rect x="-6.94" y="-7.92" width="13.87" height="15.85" fill="none" rx="2.5" stroke="#30325a" stroke-width="0.9" transform="translate(477.98,166.79) rotate(299.82)"/>
<rect x="-4.14" y="-4.69" width="8.29" height="9.38" fill="none" rx="2" stroke="#3a3c66" stroke-width="0.7" transform="translate(477.98,166.79) rotate(299.82)"/>
<rect x="-0.8" y="-0.8" width="1.6" height="1.6" fill="#1a1a30"  transform="translate(477.98,166.79) rotate(299.82)"/>
<rect x="-7.39" y="-7.92" width="14.78" height="15.85" fill="none" rx="2.5" stroke="#30325a" stroke-width="0.9" transform="translate(463.18,158.31) rotate(299.82)"/>
<rect x="-4.39" y="-4.69" width="8.79" height="9.38" fill="none" rx="2" stroke="#3a3c66" stroke-width="0.7" transform="translate(463.18,158.31) rotate(299.82)"/>
<rect x="-0.8" y="-0.8" width="1.6" height="1.6" fill="#1a1a30"  transform="translate(463.18,158.31) rotate(299.82)"/>
<rect x="-6.94" y="-7.92" width="13.87" height="15.85" fill="none" rx="2.5" stroke="#30325a" stroke-width="0.9" transform="translate(485.82,153.92) rotate(302.88)"/>
<rect x="-4.14" y="-4.69" width="8.29" height="9.38" fill="none" rx="2" stroke="#3a3c66" stroke-width="0.7" transform="translate(485.82,153.92) rotate(302.88)"/>
<rect x="-0.8" y="-0.8" width="1.6" height="1.6" fill="#1a1a30"  transform="translate(485.82,153.92) rotate(302.88)"/>
<rect x="-7.39" y="-7.92" width="14.78" height="15.85" fill="none" rx="2.5" stroke="#30325a" stroke-width="0.9" transform="translate(471.5,144.66) rotate(302.88)"/>
<rect x="-4.39" y="-4.69" width="8.79" height="9.38" fill="none" rx="2" stroke="#3a3c66" stroke-width="0.7" transform="translate(471.5,144.66) rotate(302.88)"/>
<rect x="-0.8" y="-0.8" width="1.6" height="1.6" fill="#1a1a30"  transform="translate(471.5,144.66) rotate(302.88)"/>
<rect x="-6.94" y="-7.92" width="13.87" height="15.85" fill="none" rx="2.5" stroke="#30325a" stroke-width="0.9" transform="translate(494.33,141.48) rotate(305.93)"/>
<rect x="-4.14" y="-4.69" width="8.29" height="9.38" fill="none" rx="2" stroke="#3a3c66" stroke-width="0.7" transform="translate(494.33,141.48) rotate(305.93)"/>
<rect x="-0.8" y="-0.8" width="1.6" height="1.6" fill="#1a1a30"  transform="translate(494.33,141.48) rotate(305.93)"/>
<rect x="-7.39" y="-7.92" width="14.78" height="15.85" fill="none" rx="2.5" stroke="#30325a" stroke-width="0.9" transform="translate(480.52,131.48) rotate(305.93)"/>
<rect x="-4.39" y="-4.69" width="8.79" height="9.38" fill="none" rx="2" stroke="#3a3c66" stroke-width="0.7" transform="translate(480.52,131.48) rotate(305.93)"/>
<rect x="-0.8" y="-0.8" width="1.6" height="1.6" fill="#1a1a30"  transform="translate(480.52,131.48) rotate(305.93)"/>
<rect x="-6.94" y="-7.92" width="13.87" height="15.85" fill="none" rx="2.5" stroke="#30325a" stroke-width="0.9" transform="translate(503.49,129.52) rotate(308.98)"/>
<rect x="-4.14" y="-4.69" width="8.29" height="9.38" fill="none" rx="2" stroke="#3a3c66" stroke-width="0.7" transform="translate(503.49,129.52) rotate(308.98)"/>
<rect x="-0.8" y="-0.8" width="1.6" height="1.6" fill="#1a1a30"  transform="translate(503.49,129.52) rotate(308.98)"/>
<rect x="-7.39" y="-7.92" width="14.78" height="15.85" fill="none" rx="2.5" stroke="#30325a" stroke-width="0.9" transform="translate(490.24,118.8) rotate(308.98)"/>
<rect x="-4.39" y="-4.69" width="8.79" height="9.38" fill="none" rx="2" stroke="#3a3c66" stroke-width="0.7" transform="translate(490.24,118.8) rotate(308.98)"/>
<rect x="-0.8" y="-0.8" width="1.6" height="1.6" fill="#1a1a30"  transform="translate(490.24,118.8) rotate(308.98)"/>
<rect x="-6.94" y="-7.92" width="13.87" height="15.85" fill="none" rx="2.5" stroke="#30325a" stroke-width="0.9" transform="translate(513.28,118.06) rotate(312.02)"/>
<rect x="-4.14" y="-4.69" width="8.29" height="9.38" fill="none" rx="2" stroke="#3a3c66" stroke-width="0.7" transform="translate(513.28,118.06) rotate(312.02)"/>
<rect x="-0.8" y="-0.8" width="1.6" height="1.6" fill="#1a1a30"  transform="translate(513.28,118.06) rotate(312.02)"/>
<rect x="-7.39" y="-7.92" width="14.78" height="15.85" fill="none" rx="2.5" stroke="#30325a" stroke-width="0.9" transform="translate(500.61,106.65) rotate(312.02)"/>
<rect x="-4.39" y="-4.69" width="8.79" height="9.38" fill="none" rx="2" stroke="#3a3c66" stroke-width="0.7" transform="translate(500.61,106.65) rotate(312.02)"/>
<rect x="-0.8" y="-0.8" width="1.6" height="1.6" fill="#1a1a30"  transform="translate(500.61,106.65) rotate(312.02)"/>
<rect x="-6.94" y="-7.92" width="13.87" height="15.85" fill="none" rx="2.5" stroke="#30325a" stroke-width="0.9" transform="translate(523.66,107.14) rotate(315.07)"/>
<rect x="-4.14" y="-4.69" width="8.29" height="9.38" fill="none" rx="2" stroke="#3a3c66" stroke-width="0.7" transform="translate(523.66,107.14) rotate(315.07)"/>
<rect x="-0.8" y="-0.8" width="1.6" height="1.6" fill="#1a1a30"  transform="translate(523.66,107.14) rotate(315.07)"/>
<rect x="-7.39" y="-7.92" width="14.78" height="15.85" fill="none" rx="2.5" stroke="#30325a" stroke-width="0.9" transform="translate(511.62,95.07) rotate(315.07)"/>
<rect x="-4.39" y="-4.69" width="8.79" height="9.38" fill="none" rx="2" stroke="#3a3c66" stroke-width="0.7" transform="translate(511.62,95.07) rotate(315.07)"/>
<rect x="-0.8" y="-0.8" width="1.6" height="1.6" fill="#1a1a30"  transform="translate(511.62,95.07) rotate(315.07)"/>
<rect x="-6.94" y="-7.92" width="13.87" height="15.85" fill="none" rx="2.5" stroke="#30325a" stroke-width="0.9" transform="translate(534.61,96.78) rotate(318.12)"/>
<rect x="-4.14" y="-4.69" width="8.29" height="9.38" fill="none" rx="2" stroke="#3a3c66" stroke-width="0.7" transform="translate(534.61,96.78) rotate(318.12)"/>
<rect x="-0.8" y="-0.8" width="1.6" height="1.6" fill="#1a1a30"  transform="translate(534.61,96.78) rotate(318.12)"/>
<rect x="-7.39" y="-7.92" width="14.78" height="15.85" fill="none" rx="2.5" stroke="#30325a" stroke-width="0.9" transform="translate(523.23,84.09) rotate(318.12)"/>
<rect x="-4.39" y="-4.69" width="8.79" height="9.38" fill="none" rx="2" stroke="#3a3c66" stroke-width="0.7" transform="translate(523.23,84.09) rotate(318.12)"/>
<rect x="-0.8" y="-0.8" width="1.6" height="1.6" fill="#1a1a30"  transform="translate(523.23,84.09) rotate(318.12)"/>
<rect x="-6.94" y="-7.92" width="13.87" height="15.85" fill="none" rx="2.5" stroke="#30325a" stroke-width="0.9" transform="translate(546.1,87.03) rotate(321.18)"/>
<rect x="-4.14" y="-4.69" width="8.29" height="9.38" fill="none" rx="2" stroke="#3a3c66" stroke-width="0.7" transform="translate(546.1,87.03) rotate(321.18)"/>
<rect x="-0.8" y="-0.8" width="1.6" height="1.6" fill="#1a1a30"  transform="translate(546.1,87.03) rotate(321.18)"/>
<rect x="-7.39" y="-7.92" width="14.78" height="15.85" fill="none" rx="2.5" stroke="#30325a" stroke-width="0.9" transform="translate(535.41,73.74) rotate(321.18)"/>
<rect x="-4.39" y="-4.69" width="8.79" height="9.38" fill="none" rx="2" stroke="#3a3c66" stroke-width="0.7" transform="translate(535.41,73.74) rotate(321.18)"/>
<rect x="-0.8" y="-0.8" width="1.6" height="1.6" fill="#1a1a30"  transform="translate(535.41,73.74) rotate(321.18)"/>
<rect x="-6.94" y="-7.92" width="13.87" height="15.85" fill="none" rx="2.5" stroke="#30325a" stroke-width="0.9" transform="translate(558.08,77.9) rotate(324.23)"/>
<rect x="-4.14" y="-4.69" width="8.29" height="9.38" fill="none" rx="2" stroke="#3a3c66" stroke-width="0.7" transform="translate(558.08,77.9) rotate(324.23)"/>
<rect x="-0.8" y="-0.8" width="1.6" height="1.6" fill="#1a1a30"  transform="translate(558.08,77.9) rotate(324.23)"/>
<rect x="-7.39" y="-7.92" width="14.78" height="15.85" fill="none" rx="2.5" stroke="#30325a" stroke-width="0.9" transform="translate(548.12,64.06) rotate(324.23)"/>
<rect x="-4.39" y="-4.69" width="8.79" height="9.38" fill="none" rx="2" stroke="#3a3c66" stroke-width="0.7" transform="translate(548.12,64.06) rotate(324.23)"/>
<rect x="-0.8" y="-0.8" width="1.6" height="1.6" fill="#1a1a30"  transform="translate(548.12,64.06) rotate(324.23)"/>
<rect x="-6.94" y="-7.92" width="13.87" height="15.85" fill="none" rx="2.5" stroke="#30325a" stroke-width="0.9" transform="translate(570.54,69.41) rotate(327.27)"/>
<rect x="-4.14" y="-4.69" width="8.29" height="9.38" fill="none" rx="2" stroke="#3a3c66" stroke-width="0.7" transform="translate(570.54,69.41) rotate(327.27)"/>
<rect x="-0.8" y="-0.8" width="1.6" height="1.6" fill="#1a1a30"  transform="translate(570.54,69.41) rotate(327.27)"/>
<rect x="-7.39" y="-7.92" width="14.78" height="15.85" fill="none" rx="2.5" stroke="#30325a" stroke-width="0.9" transform="translate(561.32,55.07) rotate(327.27)"/>
<rect x="-4.39" y="-4.69" width="8.79" height="9.38" fill="none" rx="2" stroke="#3a3c66" stroke-width="0.7" transform="translate(561.32,55.07) rotate(327.27)"/>
<rect x="-0.8" y="-0.8" width="1.6" height="1.6" fill="#1a1a30"  transform="translate(561.32,55.07) rotate(327.27)"/>
<rect x="-6.94" y="-7.92" width="13.87" height="15.85" fill="none" rx="2.5" stroke="#30325a" stroke-width="0.9" transform="translate(583.43,61.61) rotate(330.32)"/>
<rect x="-4.14" y="-4.69" width="8.29" height="9.38" fill="none" rx="2" stroke="#3a3c66" stroke-width="0.7" transform="translate(583.43,61.61) rotate(330.32)"/>
<rect x="-0.8" y="-0.8" width="1.6" height="1.6" fill="#1a1a30"  transform="translate(583.43,61.61) rotate(330.32)"/>
<rect x="-7.39" y="-7.92" width="14.78" height="15.85" fill="none" rx="2.5" stroke="#30325a" stroke-width="0.9" transform="translate(574.99,46.79) rotate(330.32)"/>
<rect x="-4.39" y="-4.69" width="8.79" height="9.38" fill="none" rx="2" stroke="#3a3c66" stroke-width="0.7" transform="translate(574.99,46.79) rotate(330.32)"/>
<rect x="-0.8" y="-0.8" width="1.6" height="1.6" fill="#1a1a30"  transform="translate(574.99,46.79) rotate(330.32)"/>
<rect x="-6.94" y="-7.92" width="13.87" height="15.85" fill="none" rx="2.5" stroke="#30325a" stroke-width="0.9" transform="translate(596.72,54.5) rotate(333.38)"/>
<rect x="-4.14" y="-4.69" width="8.29" height="9.38" fill="none" rx="2" stroke="#3a3c66" stroke-width="0.7" transform="translate(596.72,54.5) rotate(333.38)"/>
<rect x="-0.8" y="-0.8" width="1.6" height="1.6" fill="#1a1a30"  transform="translate(596.72,54.5) rotate(333.38)"/>
<rect x="-7.39" y="-7.92" width="14.78" height="15.85" fill="none" rx="2.5" stroke="#30325a" stroke-width="0.9" transform="translate(589.08,39.26) rotate(333.38)"/>
<rect x="-4.39" y="-4.69" width="8.79" height="9.38" fill="none" rx="2" stroke="#3a3c66" stroke-width="0.7" transform="translate(589.08,39.26) rotate(333.38)"/>
<rect x="-0.8" y="-0.8" width="1.6" height="1.6" fill="#1a1a30"  transform="translate(589.08,39.26) rotate(333.38)"/>
<rect x="-6.94" y="-7.92" width="13.87" height="15.85" fill="none" rx="2.5" stroke="#30325a" stroke-width="0.9" transform="translate(610.36,48.11) rotate(336.43)"/>
<rect x="-4.14" y="-4.69" width="8.29" height="9.38" fill="none" rx="2" stroke="#3a3c66" stroke-width="0.7" transform="translate(610.36,48.11) rotate(336.43)"/>
<rect x="-0.8" y="-0.8" width="1.6" height="1.6" fill="#1a1a30"  transform="translate(610.36,48.11) rotate(336.43)"/>
<rect x="-7.39" y="-7.92" width="14.78" height="15.85" fill="none" rx="2.5" stroke="#30325a" stroke-width="0.9" transform="translate(603.55,32.48) rotate(336.43)"/>
<rect x="-4.39" y="-4.69" width="8.79" height="9.38" fill="none" rx="2" stroke="#3a3c66" stroke-width="0.7" transform="translate(603.55,32.48) rotate(336.43)"/>
<rect x="-0.8" y="-0.8" width="1.6" height="1.6" fill="#1a1a30"  transform="translate(603.55,32.48) rotate(336.43)"/>
<rect x="-6.94" y="-7.92" width="13.87" height="15.85" fill="none" rx="2.5" stroke="#30325a" stroke-width="0.9" transform="translate(624.33,42.45) rotate(339.48)"/>
<rect x="-4.14" y="-4.69" width="8.29" height="9.38" fill="none" rx="2" stroke="#3a3c66" stroke-width="0.7" transform="translate(624.33,42.45) rotate(339.48)"/>
<rect x="-0.8" y="-0.8" width="1.6" height="1.6" fill="#1a1a30"  transform="translate(624.33,42.45) rotate(339.48)"/>
<rect x="-7.39" y="-7.92" width="14.78" height="15.85" fill="none" rx="2.5" stroke="#30325a" stroke-width="0.9" transform="translate(618.35,26.48) rotate(339.48)"/>
<rect x="-4.39" y="-4.69" width="8.79" height="9.38" fill="none" rx="2" stroke="#3a3c66" stroke-width="0.7" transform="translate(618.35,26.48) rotate(339.48)"/>
<rect x="-0.8" y="-0.8" width="1.6" height="1.6" fill="#1a1a30"  transform="translate(618.35,26.48) rotate(339.48)"/>
<rect x="-6.94" y="-7.92" width="13.87" height="15.85" fill="none" rx="2.5" stroke="#30325a" stroke-width="0.9" transform="translate(638.58,37.54) rotate(342.52)"/>
<rect x="-4.14" y="-4.69" width="8.29" height="9.38" fill="none" rx="2" stroke="#3a3c66" stroke-width="0.7" transform="translate(638.58,37.54) rotate(342.52)"/>
<rect x="-0.8" y="-0.8" width="1.6" height="1.6" fill="#1a1a30"  transform="translate(638.58,37.54) rotate(342.52)"/>
<rect x="-7.39" y="-7.92" width="14.78" height="15.85" fill="none" rx="2.5" stroke="#30325a" stroke-width="0.9" transform="translate(633.46,21.28) rotate(342.52)"/>
<rect x="-4.39" y="-4.69" width="8.79" height="9.38" fill="none" rx="2" stroke="#3a3c66" stroke-width="0.7" transform="translate(633.46,21.28) rotate(342.52)"/>
<rect x="-0.8" y="-0.8" width="1.6" height="1.6" fill="#1a1a30"  transform="translate(633.46,21.28) rotate(342.52)"/>
<rect x="-6.94" y="-7.92" width="13.87" height="15.85" fill="none" rx="2.5" stroke="#30325a" stroke-width="0.9" transform="translate(653.07,33.4) rotate(345.57)"/>
<rect x="-4.14" y="-4.69" width="8.29" height="9.38" fill="none" rx="2" stroke="#3a3c66" stroke-width="0.7" transform="translate(653.07,33.4) rotate(345.57)"/>
<rect x="-0.8" y="-0.8" width="1.6" height="1.6" fill="#1a1a30"  transform="translate(653.07,33.4) rotate(345.57)"/>
<rect x="-7.39" y="-7.92" width="14.78" height="15.85" fill="none" rx="2.5" stroke="#30325a" stroke-width="0.9" transform="translate(648.82,16.89) rotate(345.57)"/>
<rect x="-4.39" y="-4.69" width="8.79" height="9.38" fill="none" rx="2" stroke="#3a3c66" stroke-width="0.7" transform="translate(648.82,16.89) rotate(345.57)"/>
<rect x="-0.8" y="-0.8" width="1.6" height="1.6" fill="#1a1a30"  transform="translate(648.82,16.89) rotate(345.57)"/>
<rect x="-6.94" y="-7.92" width="13.87" height="15.85" fill="none" rx="2.5" stroke="#30325a" stroke-width="0.9" transform="translate(667.76,30.04) rotate(348.62)"/>
<rect x="-4.14" y="-4.69" width="8.29" height="9.38" fill="none" rx="2" stroke="#3a3c66" stroke-width="0.7" transform="translate(667.76,30.04) rotate(348.62)"/>
<rect x="-0.8" y="-0.8" width="1.6" height="1.6" fill="#1a1a30"  transform="translate(667.76,30.04) rotate(348.62)"/>
<rect x="-7.39" y="-7.92" width="14.78" height="15.85" fill="none" rx="2.5" stroke="#30325a" stroke-width="0.9" transform="translate(664.4,13.32) rotate(348.62)"/>
<rect x="-4.39" y="-4.69" width="8.79" height="9.38" fill="none" rx="2" stroke="#3a3c66" stroke-width="0.7" transform="translate(664.4,13.32) rotate(348.62)"/>
<rect x="-0.8" y="-0.8" width="1.6" height="1.6" fill="#1a1a30"  transform="translate(664.4,13.32) rotate(348.62)"/>
<rect x="-6.94" y="-7.92" width="13.87" height="15.85" fill="none" rx="2.5" stroke="#30325a" stroke-width="0.9" transform="translate(682.61,27.46) rotate(351.68)"/>
<rect x="-4.14" y="-4.69" width="8.29" height="9.38" fill="none" rx="2" stroke="#3a3c66" stroke-width="0.7" transform="translate(682.61,27.46) rotate(351.68)"/>
<rect x="-0.8" y="-0.8" width="1.6" height="1.6" fill="#1a1a30"  transform="translate(682.61,27.46) rotate(351.68)"/>
<rect x="-7.39" y="-7.92" width="14.78" height="15.85" fill="none" rx="2.5" stroke="#30325a" stroke-width="0.9" transform="translate(680.14,10.59) rotate(351.68)"/>
<rect x="-4.39" y="-4.69" width="8.79" height="9.38" fill="none" rx="2" stroke="#3a3c66" stroke-width="0.7" transform="translate(680.14,10.59) rotate(351.68)"/>
<rect x="-0.8" y="-0.8" width="1.6" height="1.6" fill="#1a1a30"  transform="translate(680.14,10.59) rotate(351.68)"/>
<path d="M436.38,256.96 A291.65,291.65 0 0 1 672.96,20.38" fill="none" stroke="#30325a" stroke-width="1.38"/>
<line x1="419.59" y1="253.99" x2="436.38" y2="256.96" stroke="#1212a0" stroke-width="1.6"/>
<line x1="436.38" y1="256.96" x2="453.17" y2="259.92" stroke="#222440" stroke-width="1.38"/>
<circle cx="436.38" cy="256.96" r="1.26" fill="#e8e8f0"/>
<line x1="422.87" y1="237.9" x2="439.48" y2="241.75" stroke="#1212a0" stroke-width="1.6"/>
<line x1="439.48" y1="241.75" x2="456.09" y2="245.59" stroke="#222440" stroke-width="1.38"/>
<circle cx="439.48" cy="241.75" r="1.26" fill="#e8e8f0"/>
<line x1="427.01" y1="221.99" x2="443.39" y2="226.72" stroke="#1212a0" stroke-width="1.6"/>
<line x1="443.39" y1="226.72" x2="459.77" y2="231.45" stroke="#222440" stroke-width="1.38"/>
<circle cx="443.39" cy="226.72" r="1.26" fill="#e8e8f0"/>
<line x1="431.98" y1="206.33" x2="448.09" y2="211.93" stroke="#1212a0" stroke-width="1.6"/>
<line x1="448.09" y1="211.93" x2="464.2" y2="217.52" stroke="#222440" stroke-width="1.38"/>
<circle cx="448.09" cy="211.93" r="1.26" fill="#e8e8f0"/>
<line x1="437.78" y1="190.96" x2="453.57" y2="197.4" stroke="#1212a0" stroke-width="1.6"/>
<line x1="453.57" y1="197.4" x2="469.36" y2="203.84" stroke="#222440" stroke-width="1.38"/>
<circle cx="453.57" cy="197.4" r="1.26" fill="#e8e8f0"/>
<line x1="444.39" y1="175.92" x2="459.82" y2="183.19" stroke="#1212a0" stroke-width="1.6"/>
<line x1="459.82" y1="183.19" x2="475.24" y2="190.46" stroke="#222440" stroke-width="1.38"/>
<circle cx="459.82" cy="183.19" r="1.26" fill="#e8e8f0"/>
<line x1="451.8" y1="161.25" x2="466.81" y2="169.33" stroke="#1212a0" stroke-width="1.6"/>
<line x1="466.81" y1="169.33" x2="481.82" y2="177.42" stroke="#222440" stroke-width="1.38"/>
<circle cx="466.81" cy="169.33" r="1.26" fill="#e8e8f0"/>
<line x1="459.97" y1="146.99" x2="474.53" y2="155.86" stroke="#1212a0" stroke-width="1.6"/>
<line x1="474.53" y1="155.86" x2="489.09" y2="164.74" stroke="#222440" stroke-width="1.38"/>
<circle cx="474.53" cy="155.86" r="1.26" fill="#e8e8f0"/>
<line x1="468.89" y1="133.19" x2="482.96" y2="142.83" stroke="#1212a0" stroke-width="1.6"/>
<line x1="482.96" y1="142.83" x2="497.02" y2="152.46" stroke="#222440" stroke-width="1.38"/>
<circle cx="482.96" cy="142.83" r="1.26" fill="#e8e8f0"/>
<line x1="478.53" y1="119.89" x2="492.06" y2="130.26" stroke="#1212a0" stroke-width="1.6"/>
<line x1="492.06" y1="130.26" x2="505.6" y2="140.62" stroke="#222440" stroke-width="1.38"/>
<circle cx="492.06" cy="130.26" r="1.26" fill="#e8e8f0"/>
<line x1="488.86" y1="107.12" x2="501.83" y2="118.19" stroke="#1212a0" stroke-width="1.6"/>
<line x1="501.83" y1="118.19" x2="514.79" y2="129.26" stroke="#222440" stroke-width="1.38"/>
<circle cx="501.83" cy="118.19" r="1.26" fill="#e8e8f0"/>
<line x1="499.86" y1="94.91" x2="512.22" y2="106.66" stroke="#1212a0" stroke-width="1.6"/>
<line x1="512.22" y1="106.66" x2="524.58" y2="118.4" stroke="#222440" stroke-width="1.38"/>
<circle cx="512.22" cy="106.66" r="1.26" fill="#e8e8f0"/>
<line x1="511.5" y1="83.31" x2="523.21" y2="95.69" stroke="#1212a0" stroke-width="1.6"/>
<line x1="523.21" y1="95.69" x2="534.93" y2="108.08" stroke="#222440" stroke-width="1.38"/>
<circle cx="523.21" cy="95.69" r="1.26" fill="#e8e8f0"/>
<line x1="523.73" y1="72.34" x2="534.77" y2="85.33" stroke="#1212a0" stroke-width="1.6"/>
<line x1="534.77" y1="85.33" x2="545.81" y2="98.33" stroke="#222440" stroke-width="1.38"/>
<circle cx="534.77" cy="85.33" r="1.26" fill="#e8e8f0"/>
<line x1="536.53" y1="62.04" x2="546.86" y2="75.6" stroke="#1212a0" stroke-width="1.6"/>
<line x1="546.86" y1="75.6" x2="557.2" y2="89.16" stroke="#222440" stroke-width="1.38"/>
<circle cx="546.86" cy="75.6" r="1.26" fill="#e8e8f0"/>
<line x1="549.86" y1="52.43" x2="559.46" y2="66.53" stroke="#1212a0" stroke-width="1.6"/>
<line x1="559.46" y1="66.53" x2="569.05" y2="80.62" stroke="#222440" stroke-width="1.38"/>
<circle cx="559.46" cy="66.53" r="1.26" fill="#e8e8f0"/>
<line x1="563.69" y1="43.55" x2="572.52" y2="58.13" stroke="#1212a0" stroke-width="1.6"/>
<line x1="572.52" y1="58.13" x2="581.35" y2="72.72" stroke="#222440" stroke-width="1.38"/>
<circle cx="572.52" cy="58.13" r="1.26" fill="#e8e8f0"/>
<line x1="577.96" y1="35.41" x2="586" y2="50.45" stroke="#1212a0" stroke-width="1.6"/>
<line x1="586" y1="50.45" x2="594.05" y2="65.48" stroke="#222440" stroke-width="1.38"/>
<circle cx="586" cy="50.45" r="1.26" fill="#e8e8f0"/>
<line x1="592.65" y1="28.05" x2="599.88" y2="43.49" stroke="#1212a0" stroke-width="1.6"/>
<line x1="599.88" y1="43.49" x2="607.11" y2="58.93" stroke="#222440" stroke-width="1.38"/>
<circle cx="599.88" cy="43.49" r="1.26" fill="#e8e8f0"/>
<line x1="607.71" y1="21.48" x2="614.11" y2="37.28" stroke="#1212a0" stroke-width="1.6"/>
<line x1="614.11" y1="37.28" x2="620.51" y2="53.09" stroke="#222440" stroke-width="1.38"/>
<circle cx="614.11" cy="37.28" r="1.26" fill="#e8e8f0"/>
<line x1="623.1" y1="15.72" x2="628.65" y2="31.84" stroke="#1212a0" stroke-width="1.6"/>
<line x1="628.65" y1="31.84" x2="634.2" y2="47.96" stroke="#222440" stroke-width="1.38"/>
<circle cx="628.65" cy="31.84" r="1.26" fill="#e8e8f0"/>
<line x1="638.77" y1="10.78" x2="643.46" y2="27.18" stroke="#1212a0" stroke-width="1.6"/>
<line x1="643.46" y1="27.18" x2="648.14" y2="43.57" stroke="#222440" stroke-width="1.38"/>
<circle cx="643.46" cy="27.18" r="1.26" fill="#e8e8f0"/>
<line x1="654.68" y1="6.69" x2="658.49" y2="23.31" stroke="#1212a0" stroke-width="1.6"/>
<line x1="658.49" y1="23.31" x2="662.3" y2="39.93" stroke="#222440" stroke-width="1.38"/>
<circle cx="658.49" cy="23.31" r="1.26" fill="#e8e8f0"/>
<line x1="670.79" y1="3.45" x2="673.71" y2="20.25" stroke="#1212a0" stroke-width="1.6"/>
<line x1="673.71" y1="20.25" x2="676.62" y2="37.05" stroke="#222440" stroke-width="1.38"/>
<circle cx="673.71" cy="20.25" r="1.26" fill="#e8e8f0"/>
<path d="M398.09,248.06 A330.91,330.91 0 0 1 400.69,235.26" fill="none" stroke="#3a1414" stroke-width="1"/>
<circle cx="398.09" cy="248.06" r="1" fill="#3a1414"/>
<circle cx="400.69" cy="235.26" r="1" fill="#3a1414"/>
<path d="M413.75,250.93 A314.99,314.99 0 0 1 416.23,238.74" fill="none" stroke="#3a1414" stroke-width="1"/>
<circle cx="413.75" cy="250.93" r="1" fill="#3a1414"/>
<circle cx="416.23" cy="238.74" r="1" fill="#3a1414"/>
<path d="M404.23,259.64 A322.95,322.95 0 0 1 405.56,251.52" fill="none" stroke="#f01212" stroke-width="8.36"/>
<path d="M405.56,251.52 A322.95,322.95 0 0 1 408.37,237.4" fill="none" stroke="#6e2c2c" stroke-width="5.97"/>
<rect x="-2.1" y="-7.96" width="4.2" height="15.92" fill="#f01212"  transform="translate(405.56,251.52) rotate(280)"/>
<rect x="-0.45" y="-4.97" width="0.9" height="9.95" fill="#5a0a0a"  transform="translate(405.56,251.52) rotate(280)"/>
<path d="M402.54,227.46 A330.91,330.91 0 0 1 405.96,214.85" fill="none" stroke="#3a1414" stroke-width="1"/>
<circle cx="402.54" cy="227.46" r="1" fill="#3a1414"/>
<circle cx="405.96" cy="214.85" r="1" fill="#3a1414"/>
<path d="M417.99,231.32 A314.99,314.99 0 0 1 421.24,219.31" fill="none" stroke="#3a1414" stroke-width="1"/>
<circle cx="417.99" cy="231.32" r="1" fill="#3a1414"/>
<circle cx="421.24" cy="219.31" r="1" fill="#3a1414"/>
<path d="M407.93,239.41 A322.95,322.95 0 0 1 409.77,231.39" fill="none" stroke="#f01212" stroke-width="8.36"/>
<path d="M409.77,231.39 A322.95,322.95 0 0 1 413.48,217.47" fill="none" stroke="#6e2c2c" stroke-width="5.97"/>
<rect x="-2.1" y="-7.96" width="4.2" height="15.92" fill="#f01212"  transform="translate(409.77,231.39) rotate(283.65)"/>
<rect x="-0.45" y="-4.97" width="0.9" height="9.95" fill="#5a0a0a"  transform="translate(409.77,231.39) rotate(283.65)"/>
<path d="M408.29,207.19 A330.91,330.91 0 0 1 412.5,194.81" fill="none" stroke="#3a1414" stroke-width="1"/>
<circle cx="408.29" cy="207.19" r="1" fill="#3a1414"/>
<circle cx="412.5" cy="194.81" r="1" fill="#3a1414"/>
<path d="M423.46,212.02 A314.99,314.99 0 0 1 427.47,200.24" fill="none" stroke="#3a1414" stroke-width="1"/>
<circle cx="423.46" cy="212.02" r="1" fill="#3a1414"/>
<circle cx="427.47" cy="200.24" r="1" fill="#3a1414"/>
<path d="M412.91,219.45 A322.95,322.95 0 0 1 415.26,211.56" fill="none" stroke="#f01212" stroke-width="8.36"/>
<path d="M415.26,211.56 A322.95,322.95 0 0 1 419.85,197.91" fill="none" stroke="#6e2c2c" stroke-width="5.97"/>
<rect x="-2.1" y="-7.96" width="4.2" height="15.92" fill="#f01212"  transform="translate(415.26,211.56) rotate(287.3)"/>
<rect x="-0.45" y="-4.97" width="0.9" height="9.95" fill="#5a0a0a"  transform="translate(415.26,211.56) rotate(287.3)"/>
<path d="M415.33,187.32 A330.91,330.91 0 0 1 420.32,175.24" fill="none" stroke="#3a1414" stroke-width="1"/>
<circle cx="415.33" cy="187.32" r="1" fill="#3a1414"/>
<circle cx="420.32" cy="175.24" r="1" fill="#3a1414"/>
<path d="M430.16,193.1 A314.99,314.99 0 0 1 434.91,181.6" fill="none" stroke="#3a1414" stroke-width="1"/>
<circle cx="430.16" cy="193.1" r="1" fill="#3a1414"/>
<circle cx="434.91" cy="181.6" r="1" fill="#3a1414"/>
<path d="M419.16,199.85 A322.95,322.95 0 0 1 422,192.13" fill="none" stroke="#f01212" stroke-width="8.36"/>
<path d="M422,192.13 A322.95,322.95 0 0 1 427.45,178.8" fill="none" stroke="#6e2c2c" stroke-width="5.97"/>
<rect x="-2.1" y="-7.96" width="4.2" height="15.92" fill="#f01212"  transform="translate(422,192.13) rotate(290.95)"/>
<rect x="-0.45" y="-4.97" width="0.9" height="9.95" fill="#5a0a0a"  transform="translate(422,192.13) rotate(290.95)"/>
<path d="M423.61,167.93 A330.91,330.91 0 0 1 429.36,156.2" fill="none" stroke="#3a1414" stroke-width="1"/>
<circle cx="423.61" cy="167.93" r="1" fill="#3a1414"/>
<circle cx="429.36" cy="156.2" r="1" fill="#3a1414"/>
<path d="M438.04,174.65 A314.99,314.99 0 0 1 443.51,163.48" fill="none" stroke="#3a1414" stroke-width="1"/>
<circle cx="438.04" cy="174.65" r="1" fill="#3a1414"/>
<circle cx="443.51" cy="163.48" r="1" fill="#3a1414"/>
<path d="M426.63,180.69 A322.95,322.95 0 0 1 429.96,173.16" fill="none" stroke="#f01212" stroke-width="8.36"/>
<path d="M429.96,173.16 A322.95,322.95 0 0 1 436.25,160.21" fill="none" stroke="#6e2c2c" stroke-width="5.97"/>
<rect x="-2.1" y="-7.96" width="4.2" height="15.92" fill="#f01212"  transform="translate(429.96,173.16) rotate(294.6)"/>
<rect x="-0.45" y="-4.97" width="0.9" height="9.95" fill="#5a0a0a"  transform="translate(429.96,173.16) rotate(294.6)"/>
<path d="M433.11,149.12 A330.91,330.91 0 0 1 439.59,137.77" fill="none" stroke="#3a1414" stroke-width="1"/>
<circle cx="433.11" cy="149.12" r="1" fill="#3a1414"/>
<circle cx="439.59" cy="137.77" r="1" fill="#3a1414"/>
<path d="M447.08,156.74 A314.99,314.99 0 0 1 453.26,145.94" fill="none" stroke="#3a1414" stroke-width="1"/>
<circle cx="447.08" cy="156.74" r="1" fill="#3a1414"/>
<circle cx="453.26" cy="145.94" r="1" fill="#3a1414"/>
<path d="M435.31,162.04 A322.95,322.95 0 0 1 439.12,154.74" fill="none" stroke="#f01212" stroke-width="8.36"/>
<path d="M439.12,154.74 A322.95,322.95 0 0 1 446.21,142.21" fill="none" stroke="#6e2c2c" stroke-width="5.97"/>
<rect x="-2.1" y="-7.96" width="4.2" height="15.92" fill="#f01212"  transform="translate(439.12,154.74) rotate(298.25)"/>
<rect x="-0.45" y="-4.97" width="0.9" height="9.95" fill="#5a0a0a"  transform="translate(439.12,154.74) rotate(298.25)"/>
<path d="M443.79,130.95 A330.91,330.91 0 0 1 450.98,120.04" fill="none" stroke="#3a1414" stroke-width="1"/>
<circle cx="443.79" cy="130.95" r="1" fill="#3a1414"/>
<circle cx="450.98" cy="120.04" r="1" fill="#3a1414"/>
<path d="M457.25,139.45 A314.99,314.99 0 0 1 464.1,129.06" fill="none" stroke="#3a1414" stroke-width="1"/>
<circle cx="457.25" cy="139.45" r="1" fill="#3a1414"/>
<circle cx="464.1" cy="129.06" r="1" fill="#3a1414"/>
<path d="M445.17,143.98 A322.95,322.95 0 0 1 449.42,136.94" fill="none" stroke="#f01212" stroke-width="8.36"/>
<path d="M449.42,136.94 A322.95,322.95 0 0 1 457.3,124.89" fill="none" stroke="#6e2c2c" stroke-width="5.97"/>
<rect x="-2.1" y="-7.96" width="4.2" height="15.92" fill="#f01212"  transform="translate(449.42,136.94) rotate(301.9)"/>
<rect x="-0.45" y="-4.97" width="0.9" height="9.95" fill="#5a0a0a"  transform="translate(449.42,136.94) rotate(301.9)"/>
<path d="M455.6,113.49 A330.91,330.91 0 0 1 463.47,103.06" fill="none" stroke="#3a1414" stroke-width="1"/>
<circle cx="455.6" cy="113.49" r="1" fill="#3a1414"/>
<circle cx="463.47" cy="103.06" r="1" fill="#3a1414"/>
<path d="M468.49,122.83 A314.99,314.99 0 0 1 475.99,112.9" fill="none" stroke="#3a1414" stroke-width="1"/>
<circle cx="468.49" cy="122.83" r="1" fill="#3a1414"/>
<circle cx="475.99" cy="112.9" r="1" fill="#3a1414"/>
<path d="M456.15,126.59 A322.95,322.95 0 0 1 460.85,119.83" fill="none" stroke="#f01212" stroke-width="8.36"/>
<path d="M460.85,119.83 A322.95,322.95 0 0 1 469.48,108.31" fill="none" stroke="#6e2c2c" stroke-width="5.97"/>
<rect x="-2.1" y="-7.96" width="4.2" height="15.92" fill="#f01212"  transform="translate(460.85,119.83) rotate(305.55)"/>
<rect x="-0.45" y="-4.97" width="0.9" height="9.95" fill="#5a0a0a"  transform="translate(460.85,119.83) rotate(305.55)"/>
<path d="M468.5,96.83 A330.91,330.91 0 0 1 477.02,86.92" fill="none" stroke="#3a1414" stroke-width="1"/>
<circle cx="468.5" cy="96.83" r="1" fill="#3a1414"/>
<circle cx="477.02" cy="86.92" r="1" fill="#3a1414"/>
<path d="M480.77,106.97 A314.99,314.99 0 0 1 488.89,97.53" fill="none" stroke="#3a1414" stroke-width="1"/>
<circle cx="480.77" cy="106.97" r="1" fill="#3a1414"/>
<circle cx="488.89" cy="97.53" r="1" fill="#3a1414"/>
<path d="M468.21,109.93 A322.95,322.95 0 0 1 473.33,103.49" fill="none" stroke="#f01212" stroke-width="8.36"/>
<path d="M473.33,103.49 A322.95,322.95 0 0 1 482.68,92.53" fill="none" stroke="#6e2c2c" stroke-width="5.97"/>
<rect x="-2.1" y="-7.96" width="4.2" height="15.92" fill="#f01212"  transform="translate(473.33,103.49) rotate(309.2)"/>
<rect x="-0.45" y="-4.97" width="0.9" height="9.95" fill="#5a0a0a"  transform="translate(473.33,103.49) rotate(309.2)"/>
<path d="M482.44,81.01 A330.91,330.91 0 0 1 491.57,71.67" fill="none" stroke="#3a1414" stroke-width="1"/>
<circle cx="482.44" cy="81.01" r="1" fill="#3a1414"/>
<circle cx="491.57" cy="71.67" r="1" fill="#3a1414"/>
<path d="M494.04,91.91 A314.99,314.99 0 0 1 502.73,83.02" fill="none" stroke="#3a1414" stroke-width="1"/>
<circle cx="494.04" cy="91.91" r="1" fill="#3a1414"/>
<circle cx="502.73" cy="83.02" r="1" fill="#3a1414"/>
<path d="M481.31,94.07 A322.95,322.95 0 0 1 486.83,87.97" fill="none" stroke="#f01212" stroke-width="8.36"/>
<path d="M486.83,87.97 A322.95,322.95 0 0 1 496.86,77.63" fill="none" stroke="#6e2c2c" stroke-width="5.97"/>
<rect x="-2.1" y="-7.96" width="4.2" height="15.92" fill="#f01212"  transform="translate(486.83,87.97) rotate(312.85)"/>
<rect x="-0.45" y="-4.97" width="0.9" height="9.95" fill="#5a0a0a"  transform="translate(486.83,87.97) rotate(312.85)"/>
<path d="M497.35,66.12 A330.91,330.91 0 0 1 507.06,57.37" fill="none" stroke="#3a1414" stroke-width="1"/>
<circle cx="497.35" cy="66.12" r="1" fill="#3a1414"/>
<circle cx="507.06" cy="57.37" r="1" fill="#3a1414"/>
<path d="M508.24,77.74 A314.99,314.99 0 0 1 517.48,69.41" fill="none" stroke="#3a1414" stroke-width="1"/>
<circle cx="508.24" cy="77.74" r="1" fill="#3a1414"/>
<circle cx="517.48" cy="69.41" r="1" fill="#3a1414"/>
<path d="M495.4,79.08 A322.95,322.95 0 0 1 501.3,73.34" fill="none" stroke="#f01212" stroke-width="8.36"/>
<path d="M501.3,73.34 A322.95,322.95 0 0 1 511.96,63.66" fill="none" stroke="#6e2c2c" stroke-width="5.97"/>
<rect x="-2.1" y="-7.96" width="4.2" height="15.92" fill="#f01212"  transform="translate(501.3,73.34) rotate(316.5)"/>
<rect x="-0.45" y="-4.97" width="0.9" height="9.95" fill="#5a0a0a"  transform="translate(501.3,73.34) rotate(316.5)"/>
<path d="M513.18,52.21 A330.91,330.91 0 0 1 523.43,44.1" fill="none" stroke="#3a1414" stroke-width="1"/>
<circle cx="513.18" cy="52.21" r="1" fill="#3a1414"/>
<circle cx="523.43" cy="44.1" r="1" fill="#3a1414"/>
<path d="M523.31,64.49 A314.99,314.99 0 0 1 533.06,56.77" fill="none" stroke="#3a1414" stroke-width="1"/>
<circle cx="523.31" cy="64.49" r="1" fill="#3a1414"/>
<circle cx="533.06" cy="56.77" r="1" fill="#3a1414"/>
<path d="M510.41,65.02 A322.95,322.95 0 0 1 516.66,59.66" fill="none" stroke="#f01212" stroke-width="8.36"/>
<path d="M516.66,59.66 A322.95,322.95 0 0 1 527.92,50.68" fill="none" stroke="#6e2c2c" stroke-width="5.97"/>
<rect x="-2.1" y="-7.96" width="4.2" height="15.92" fill="#f01212"  transform="translate(516.66,59.66) rotate(320.15)"/>
<rect x="-0.45" y="-4.97" width="0.9" height="9.95" fill="#5a0a0a"  transform="translate(516.66,59.66) rotate(320.15)"/>
<path d="M529.87,39.33 A330.91,330.91 0 0 1 540.61,31.89" fill="none" stroke="#3a1414" stroke-width="1"/>
<circle cx="529.87" cy="39.33" r="1" fill="#3a1414"/>
<circle cx="540.61" cy="31.89" r="1" fill="#3a1414"/>
<path d="M539.19,52.24 A314.99,314.99 0 0 1 549.42,45.15" fill="none" stroke="#3a1414" stroke-width="1"/>
<circle cx="539.19" cy="52.24" r="1" fill="#3a1414"/>
<circle cx="549.42" cy="45.15" r="1" fill="#3a1414"/>
<path d="M526.29,51.94 A322.95,322.95 0 0 1 532.86,46.99" fill="none" stroke="#f01212" stroke-width="8.36"/>
<path d="M532.86,46.99 A322.95,322.95 0 0 1 544.67,38.75" fill="none" stroke="#6e2c2c" stroke-width="5.97"/>
<rect x="-2.1" y="-7.96" width="4.2" height="15.92" fill="#f01212"  transform="translate(532.86,46.99) rotate(323.8)"/>
<rect x="-0.45" y="-4.97" width="0.9" height="9.95" fill="#5a0a0a"  transform="translate(532.86,46.99) rotate(323.8)"/>
<path d="M547.34,27.54 A330.91,330.91 0 0 1 558.54,20.8" fill="none" stroke="#3a1414" stroke-width="1"/>
<circle cx="547.34" cy="27.54" r="1" fill="#3a1414"/>
<circle cx="558.54" cy="20.8" r="1" fill="#3a1414"/>
<path d="M555.82,41.01 A314.99,314.99 0 0 1 566.48,34.6" fill="none" stroke="#3a1414" stroke-width="1"/>
<circle cx="555.82" cy="41.01" r="1" fill="#3a1414"/>
<circle cx="566.48" cy="34.6" r="1" fill="#3a1414"/>
<path d="M542.96,39.89 A322.95,322.95 0 0 1 549.84,35.38" fill="none" stroke="#f01212" stroke-width="8.36"/>
<path d="M549.84,35.38 A322.95,322.95 0 0 1 562.15,27.9" fill="none" stroke="#6e2c2c" stroke-width="5.97"/>
<rect x="-2.1" y="-7.96" width="4.2" height="15.92" fill="#f01212"  transform="translate(549.84,35.38) rotate(327.45)"/>
<rect x="-0.45" y="-4.97" width="0.9" height="9.95" fill="#5a0a0a"  transform="translate(549.84,35.38) rotate(327.45)"/>
<path d="M565.53,16.89 A330.91,330.91 0 0 1 577.13,10.87" fill="none" stroke="#3a1414" stroke-width="1"/>
<circle cx="565.53" cy="16.89" r="1" fill="#3a1414"/>
<circle cx="577.13" cy="10.87" r="1" fill="#3a1414"/>
<path d="M573.13,30.87 A314.99,314.99 0 0 1 584.18,25.15" fill="none" stroke="#3a1414" stroke-width="1"/>
<circle cx="573.13" cy="30.87" r="1" fill="#3a1414"/>
<circle cx="584.18" cy="25.15" r="1" fill="#3a1414"/>
<path d="M560.37,28.94 A322.95,322.95 0 0 1 567.52,24.87" fill="none" stroke="#f01212" stroke-width="8.36"/>
<path d="M567.52,24.87 A322.95,322.95 0 0 1 580.28,18.19" fill="none" stroke="#6e2c2c" stroke-width="5.97"/>
<rect x="-2.1" y="-7.96" width="4.2" height="15.92" fill="#f01212"  transform="translate(567.52,24.87) rotate(331.1)"/>
<rect x="-0.45" y="-4.97" width="0.9" height="9.95" fill="#5a0a0a"  transform="translate(567.52,24.87) rotate(331.1)"/>
<path d="M584.35,7.41 A330.91,330.91 0 0 1 596.32,2.15" fill="none" stroke="#3a1414" stroke-width="1"/>
<circle cx="584.35" cy="7.41" r="1" fill="#3a1414"/>
<circle cx="596.32" cy="2.15" r="1" fill="#3a1414"/>
<path d="M591.05,21.86 A314.99,314.99 0 0 1 602.44,16.84" fill="none" stroke="#3a1414" stroke-width="1"/>
<circle cx="591.05" cy="21.86" r="1" fill="#3a1414"/>
<circle cx="602.44" cy="16.84" r="1" fill="#3a1414"/>
<path d="M578.44,19.11 A322.95,322.95 0 0 1 585.84,15.51" fill="none" stroke="#f01212" stroke-width="8.36"/>
<path d="M585.84,15.51 A322.95,322.95 0 0 1 599,9.66" fill="none" stroke="#6e2c2c" stroke-width="5.97"/>
<rect x="-2.1" y="-7.96" width="4.2" height="15.92" fill="#f01212"  transform="translate(585.84,15.51) rotate(334.75)"/>
<rect x="-0.45" y="-4.97" width="0.9" height="9.95" fill="#5a0a0a"  transform="translate(585.84,15.51) rotate(334.75)"/>
<path d="M603.75,-0.84 A330.91,330.91 0 0 1 616.02,-5.33" fill="none" stroke="#3a1414" stroke-width="1"/>
<circle cx="603.75" cy="-0.84" r="1" fill="#3a1414"/>
<circle cx="616.02" cy="-5.33" r="1" fill="#3a1414"/>
<path d="M609.51,14 A314.99,314.99 0 0 1 621.19,9.72" fill="none" stroke="#3a1414" stroke-width="1"/>
<circle cx="609.51" cy="14" r="1" fill="#3a1414"/>
<circle cx="621.19" cy="9.72" r="1" fill="#3a1414"/>
<path d="M597.1,10.46 A322.95,322.95 0 0 1 604.71,7.33" fill="none" stroke="#f01212" stroke-width="8.36"/>
<path d="M604.71,7.33 A322.95,322.95 0 0 1 618.22,2.33" fill="none" stroke="#6e2c2c" stroke-width="5.97"/>
<rect x="-2.1" y="-7.96" width="4.2" height="15.92" fill="#f01212"  transform="translate(604.71,7.33) rotate(338.4)"/>
<rect x="-0.45" y="-4.97" width="0.9" height="9.95" fill="#5a0a0a"  transform="translate(604.71,7.33) rotate(338.4)"/>
<path d="M623.63,-7.85 A330.91,330.91 0 0 1 636.16,-11.55" fill="none" stroke="#3a1414" stroke-width="1"/>
<circle cx="623.63" cy="-7.85" r="1" fill="#3a1414"/>
<circle cx="636.16" cy="-11.55" r="1" fill="#3a1414"/>
<path d="M628.44,7.33 A314.99,314.99 0 0 1 640.37,3.81" fill="none" stroke="#3a1414" stroke-width="1"/>
<circle cx="628.44" cy="7.33" r="1" fill="#3a1414"/>
<circle cx="640.37" cy="3.81" r="1" fill="#3a1414"/>
<path d="M616.28,3 A322.95,322.95 0 0 1 624.07,0.37" fill="none" stroke="#f01212" stroke-width="8.36"/>
<path d="M624.07,0.37 A322.95,322.95 0 0 1 637.87,-3.76" fill="none" stroke="#6e2c2c" stroke-width="5.97"/>
<rect x="-2.1" y="-7.96" width="4.2" height="15.92" fill="#f01212"  transform="translate(624.07,0.37) rotate(342.05)"/>
<rect x="-0.45" y="-4.97" width="0.9" height="9.95" fill="#5a0a0a"  transform="translate(624.07,0.37) rotate(342.05)"/>
<path d="M643.91,-13.57 A330.91,330.91 0 0 1 656.65,-16.47" fill="none" stroke="#3a1414" stroke-width="1"/>
<circle cx="643.91" cy="-13.57" r="1" fill="#3a1414"/>
<circle cx="656.65" cy="-16.47" r="1" fill="#3a1414"/>
<path d="M647.74,1.88 A314.99,314.99 0 0 1 659.87,-0.88" fill="none" stroke="#3a1414" stroke-width="1"/>
<circle cx="647.74" cy="1.88" r="1" fill="#3a1414"/>
<circle cx="659.87" cy="-0.88" r="1" fill="#3a1414"/>
<path d="M635.88,-3.21 A322.95,322.95 0 0 1 643.83,-5.34" fill="none" stroke="#f01212" stroke-width="8.36"/>
<path d="M643.83,-5.34 A322.95,322.95 0 0 1 657.86,-8.59" fill="none" stroke="#6e2c2c" stroke-width="5.97"/>
<rect x="-2.1" y="-7.96" width="4.2" height="15.92" fill="#f01212"  transform="translate(643.83,-5.34) rotate(345.7)"/>
<rect x="-0.45" y="-4.97" width="0.9" height="9.95" fill="#5a0a0a"  transform="translate(643.83,-5.34) rotate(345.7)"/>
<path d="M664.52,-17.99 A330.91,330.91 0 0 1 677.42,-20.07" fill="none" stroke="#3a1414" stroke-width="1"/>
<circle cx="664.52" cy="-17.99" r="1" fill="#3a1414"/>
<circle cx="677.42" cy="-20.07" r="1" fill="#3a1414"/>
<path d="M667.36,-2.33 A314.99,314.99 0 0 1 679.64,-4.31" fill="none" stroke="#3a1414" stroke-width="1"/>
<circle cx="667.36" cy="-2.33" r="1" fill="#3a1414"/>
<circle cx="679.64" cy="-4.31" r="1" fill="#3a1414"/>
<path d="M655.85,-8.16 A322.95,322.95 0 0 1 663.92,-9.79" fill="none" stroke="#f01212" stroke-width="8.36"/>
<path d="M663.92,-9.79 A322.95,322.95 0 0 1 678.12,-12.13" fill="none" stroke="#6e2c2c" stroke-width="5.97"/>
<rect x="-2.1" y="-7.96" width="4.2" height="15.92" fill="#f01212"  transform="translate(663.92,-9.79) rotate(349.35)"/>
<rect x="-0.45" y="-4.97" width="0.9" height="9.95" fill="#5a0a0a"  transform="translate(663.92,-9.79) rotate(349.35)"/>
<path d="M685.37,-21.09 A330.91,330.91 0 0 1 698.37,-22.35" fill="none" stroke="#3a1414" stroke-width="1"/>
<circle cx="685.37" cy="-21.09" r="1" fill="#3a1414"/>
<circle cx="698.37" cy="-22.35" r="1" fill="#3a1414"/>
<path d="M687.2,-5.28 A314.99,314.99 0 0 1 699.59,-6.47" fill="none" stroke="#3a1414" stroke-width="1"/>
<circle cx="687.2" cy="-5.28" r="1" fill="#3a1414"/>
<circle cx="699.59" cy="-6.47" r="1" fill="#3a1414"/>
<path d="M676.09,-11.84 A322.95,322.95 0 0 1 684.24,-12.94" fill="none" stroke="#f01212" stroke-width="8.36"/>
<path d="M684.24,-12.94 A322.95,322.95 0 0 1 698.57,-14.38" fill="none" stroke="#6e2c2c" stroke-width="5.97"/>
<rect x="-2.1" y="-7.96" width="4.2" height="15.92" fill="#f01212"  transform="translate(684.24,-12.94) rotate(353)"/>
<rect x="-0.45" y="-4.97" width="0.9" height="9.95" fill="#5a0a0a"  transform="translate(684.24,-12.94) rotate(353)"/>
</g>
<rect x="423.3" y="51.2" width="165.9" height="106.6" fill="none" stroke="#111" stroke-width="1.9" stroke-dasharray="3.9 2.6"/>
<path d="M434.83,38.43 A90.3,90.3 0 0 0 356.1,123.75" fill="none" stroke="#111" stroke-width="2.1"/>
<path d="M351.8,122.6 L359.4,122.6 L355.8,130 Z" fill="#111"/>
<g font-family="Liberation Serif, serif" font-size="17" fill="#333">
<text x="440.8" y="41.8">90</text><text x="458.6" y="41.8" font-size="15">&#176;</text>
<text x="340.3" y="150.3">180</text><text x="366.4" y="150.3" font-size="15">&#176;</text>
</g>
<g font-family="Liberation Serif, serif" font-size="17" fill="#222">
<text x="318.6" y="14.6">(b)</text>
</g>
<defs><clipPath id="clipField"><rect x="44.6" y="216.9" width="183.6" height="169.7"/></clipPath><filter id="fblur" x="-5%" y="-5%" width="110%" height="110%"><feGaussianBlur stdDeviation="0.45"/></filter><linearGradient id="cbar" x1="0" y1="0" x2="0" y2="1"><stop offset="0" stop-color="#f00000"/><stop offset="0.5" stop-color="#ffffff"/><stop offset="1" stop-color="#0000f0"/></linearGradient></defs>
<g clip-path="url(#clipField)"><rect x="44.6" y="216.9" width="183.6" height="169.7" fill="#fff"/><g filter="url(#fblur)"><path fill="#c4bcf6" fill-rule="evenodd" d="M44.3,215.9 47.5,215.9 47.0,219.5 47.8,223.5 47.0,229.8 47.8,234.7 47.0,241.3 47.8,246.6 47.0,254.5 47.9,260.8 46.9,272.0 47.9,280.9 47.4,301.4 47.9,322.2 46.9,330.4 47.9,342.0 47.0,347.9 47.8,356.2 47.0,361.4 47.8,368.0 47.0,372.7 47.8,378.6 47.0,383.2 47.6,387.5 44.2,387.5 43.8,384.9 44.6,380.6 43.8,374.3 44.6,369.4 43.8,362.4 44.6,357.5 43.8,349.2 44.7,343.3 43.7,331.4 44.7,322.5 44.1,301.4 44.7,279.6 43.7,271.3 44.7,259.5 43.8,253.5 44.6,245.3 43.8,240.0 44.6,233.1 43.8,228.4 44.6,222.5 43.8,218.2ZM51.2,215.9 54.4,215.9 54.5,216.2 53.7,222.2 54.5,226.5 53.7,232.1 54.5,236.7 53.7,243.3 54.5,248.2 53.6,256.2 54.6,262.1 53.6,273.3 54.6,281.9 54.1,301.4 54.6,321.5 53.6,329.4 54.6,340.6 53.6,346.3 54.5,354.5 53.7,359.1 54.5,366.1 53.7,370.3 54.5,376.3 53.7,380.6 54.4,385.5 54.3,387.5 51.3,387.5 50.5,382.2 51.3,377.9 50.5,371.7 51.3,367.0 50.5,360.4 51.3,355.5 50.4,347.6 51.4,341.6 50.4,330.4 51.4,321.8 50.8,301.4 51.4,280.3 50.4,272.3 51.4,261.1 50.4,255.2 51.3,246.9 50.5,242.0 51.3,235.4 50.5,230.8 51.3,225.1 50.5,220.5ZM57.8,215.9 60.5,215.9 61.2,219.2 60.4,224.8 61.2,228.8 60.4,235.0 61.2,239.0 60.4,245.6 61.3,250.2 60.3,258.1 61.3,263.4 60.3,274.6 61.3,282.6 60.8,301.4 61.3,320.5 60.3,328.1 61.3,339.0 60.3,344.6 61.2,352.2 60.4,357.1 61.2,363.4 60.4,368.0 61.2,373.6 60.4,377.9 61.2,383.2 60.5,387.5 57.4,387.5 58.0,384.9 57.2,379.6 58.0,375.3 57.2,369.4 58.0,364.7 57.2,358.5 58.0,353.5 57.1,345.6 58.1,340.0 57.1,329.1 58.1,321.2 57.5,301.4 58.1,281.2 57.1,273.3 58.1,262.4 57.1,256.8 58.0,248.9 57.2,244.3 58.0,237.7 57.2,233.4 58.0,227.5 57.2,223.2 57.9,218.2ZM64.1,215.9 67.5,215.9 67.2,218.9 67.9,222.2 67.1,227.5 67.9,231.7 67.1,237.0 67.9,241.6 67.1,247.6 68.0,252.2 67.0,259.8 68.0,265.1 67.0,275.6 68.1,283.2 67.5,301.4 68.1,319.9 67.0,326.8 68.0,337.7 67.0,342.6 68.0,350.2 67.1,354.8 67.9,361.1 67.1,365.4 67.9,371.0 67.1,375.0 67.9,380.2 67.1,383.9 67.7,387.5 64.1,387.5 63.9,385.9 64.7,381.9 63.9,376.3 64.7,372.7 63.9,366.7 64.7,362.8 63.9,356.2 64.8,351.9 63.8,343.9 64.8,338.7 63.8,327.8 64.9,320.2 64.2,301.4 64.9,281.9 63.8,274.6 64.8,263.8 63.8,258.8 64.8,250.9 63.9,246.6 64.7,240.0 63.9,236.0 64.7,230.1 63.9,226.1 64.7,220.9 64.0,217.6ZM71.3,215.9 74.5,215.9 74.6,216.9 73.8,221.5 74.6,225.8 73.8,230.4 74.6,234.4 73.8,240.0 74.6,244.0 73.7,249.9 74.7,254.5 73.7,261.8 74.7,266.7 73.6,277.0 74.8,283.9 74.2,301.4 74.8,319.2 73.6,325.5 74.7,336.0 73.7,341.0 74.7,348.2 73.7,352.5 74.6,358.8 73.8,362.8 74.6,368.4 73.8,372.0 74.6,377.3 73.8,380.9 74.6,385.5 74.2,387.5 71.4,387.5 70.6,382.9 71.4,378.9 70.6,373.6 71.4,369.7 70.6,364.4 71.4,360.1 70.5,353.8 71.5,349.6 70.5,342.0 71.5,337.0 70.4,326.8 71.6,319.5 70.9,301.4 71.6,282.6 70.4,276.0 71.5,265.7 70.5,260.5 71.5,253.2 70.5,248.6 71.4,242.6 70.6,238.3 71.4,232.7 70.6,228.8 71.4,223.8 70.6,219.9ZM77.6,215.9 80.6,215.9 80.6,217.2 81.3,220.2 80.5,224.8 81.3,228.8 80.5,233.4 81.3,237.4 80.5,242.6 81.4,246.6 80.4,252.5 81.4,256.5 80.4,263.8 81.5,268.4 80.3,278.3 81.5,284.9 80.9,301.4 81.5,318.2 80.3,324.1 81.5,334.4 80.4,339.0 81.4,345.9 80.4,350.2 81.4,356.2 80.5,359.8 81.3,365.4 80.5,369.0 81.3,374.0 80.5,377.6 81.3,382.2 80.6,385.5 80.7,387.5 77.3,387.5 78.1,384.2 77.3,379.3 78.1,376.0 77.3,370.7 78.1,367.0 77.3,361.4 78.1,357.8 77.2,351.5 78.2,347.2 77.2,340.0 78.2,335.4 77.1,325.1 78.3,318.5 77.6,301.4 78.3,283.6 77.1,277.3 78.2,267.1 77.2,262.4 78.2,255.2 77.2,251.2 78.1,244.9 77.3,241.0 78.1,235.7 77.3,232.1 78.1,226.8 77.3,223.5 78.1,218.5ZM84.5,215.9 88.0,215.9 87.2,220.2 88.0,224.2 87.2,228.4 88.0,232.1 87.2,236.7 88.0,240.3 87.2,245.6 88.1,249.2 87.1,254.8 88.1,259.1 87.0,265.7 88.2,270.4 87.0,279.6 88.3,285.5 87.6,301.4 88.3,317.2 87.0,322.8 88.2,332.4 87.0,336.7 88.1,343.6 87.1,347.6 88.1,353.2 87.1,357.1 88.0,362.1 87.2,366.1 88.0,370.7 87.2,374.3 88.0,378.6 87.2,382.2 87.9,386.2 87.9,387.5 84.6,387.5 84.0,384.2 84.8,380.6 84.0,376.0 84.8,372.7 84.0,367.4 84.8,364.1 84.0,358.5 84.9,354.8 83.9,348.9 84.9,344.9 83.9,338.0 85.0,333.7 83.8,323.8 85.1,317.9 84.3,301.4 85.1,284.5 83.8,278.6 85.0,269.0 83.9,264.4 84.9,257.5 83.9,253.5 84.9,247.6 84.0,244.0 84.8,238.7 84.0,235.0 84.8,230.1 84.0,226.5 84.8,222.2 84.0,218.5ZM91.1,215.9 94.0,215.9 94.7,219.9 93.9,224.2 94.7,227.8 93.9,232.1 94.7,235.7 93.9,240.0 94.7,243.6 93.8,248.6 94.8,252.2 93.8,257.8 94.8,261.4 93.7,268.0 94.9,272.0 93.6,281.2 95.0,286.5 94.3,301.4 95.0,316.2 93.6,321.2 94.9,330.4 93.7,334.7 94.8,341.3 93.8,344.9 94.8,350.5 93.8,353.8 94.7,359.1 93.9,362.4 94.7,367.0 93.9,370.7 94.7,375.0 93.9,378.3 94.7,382.6 94.0,385.9 94.1,387.5 90.8,387.5 91.4,384.9 90.7,380.2 91.5,376.9 90.7,372.3 91.5,369.0 90.7,364.4 91.5,360.8 90.6,355.5 91.6,352.2 90.6,346.3 91.6,342.6 90.5,336.0 91.7,331.7 90.4,322.5 91.8,316.9 91.0,301.4 91.8,285.5 90.4,280.3 91.7,271.0 90.5,266.7 91.6,260.1 90.6,256.2 91.6,250.6 90.6,246.9 91.5,242.0 90.7,238.3 91.5,233.7 90.7,230.1 91.5,225.8 90.7,222.2 91.4,218.2ZM98.0,215.9 101.3,215.9 101.3,216.6 100.7,220.5 101.4,224.2 100.6,228.1 101.4,231.7 100.6,235.7 101.4,239.3 100.6,243.6 101.4,247.3 100.5,251.9 101.5,255.2 100.5,260.5 101.6,264.1 100.4,270.4 101.6,274.3 100.2,282.9 100.5,284.2 101.6,286.2 101.8,287.5 101.0,301.4 101.8,315.2 101.5,316.6 100.4,318.5 100.2,319.9 101.7,328.4 100.4,332.1 101.6,338.3 100.5,342.0 101.5,347.2 100.5,350.9 101.5,355.5 100.6,359.1 101.4,363.4 100.6,366.7 101.4,371.0 100.6,374.3 101.4,378.6 100.7,381.9 101.3,385.5 101.0,387.5 98.1,387.5 97.4,384.2 98.2,380.9 97.4,376.3 98.2,373.3 97.4,368.7 98.2,365.4 97.4,360.8 98.2,357.5 97.3,352.5 98.3,348.9 97.3,343.6 98.4,340.0 97.2,333.7 98.4,329.8 97.1,320.8 97.3,319.5 98.4,317.2 98.6,315.9 97.7,301.4 98.6,286.5 98.4,285.2 97.2,282.9 97.1,281.6 98.4,273.0 97.2,269.0 98.4,262.8 97.3,259.1 98.3,253.5 97.3,249.9 98.2,245.3 97.4,241.6 98.2,237.4 97.4,233.7 98.2,229.4 97.4,226.1 98.1,222.2 97.4,218.5ZM104.3,215.9 107.7,215.9 107.4,218.2 108.0,221.2 107.3,225.1 108.0,228.8 107.3,232.4 108.1,235.7 107.3,239.7 108.1,243.3 107.3,247.3 108.2,250.9 107.2,255.2 108.2,258.8 107.1,263.8 108.3,267.1 107.0,273.0 108.3,275.6 108.4,276.6 106.9,284.5 107.0,285.5 107.9,286.9 107.8,315.9 107.1,316.9 106.9,318.2 108.4,326.1 107.0,329.8 108.3,335.4 107.1,339.0 108.2,343.9 107.2,347.2 108.2,351.9 107.3,355.2 108.1,359.5 107.3,362.8 108.1,366.7 107.3,370.3 108.1,374.0 107.3,377.6 108.0,381.2 107.4,384.5 107.9,387.5 104.2,387.5 104.2,387.2 104.8,383.9 104.2,379.6 104.9,376.6 104.1,372.3 104.9,369.0 104.1,364.7 104.9,361.8 104.1,357.1 105.0,353.8 104.0,349.2 105.0,345.9 104.0,340.6 105.1,337.3 103.9,331.1 105.2,327.4 103.7,319.2 104.0,317.9 105.1,316.2 105.4,314.9 104.5,305.3 104.5,298.1 105.4,287.5 105.2,286.5 104.0,284.8 103.7,283.6 105.2,275.0 103.9,271.3 105.1,265.4 104.0,262.1 105.0,256.8 104.0,253.5 105.0,248.9 104.1,245.3 104.9,241.0 104.1,237.7 104.9,233.4 104.1,230.1 104.9,226.1 104.1,222.8 104.8,218.9ZM111.6,215.9 114.1,215.9 114.7,218.9 114.1,222.8 114.7,226.1 114.0,229.8 114.8,233.1 114.0,236.7 114.8,240.3 114.0,244.0 114.8,247.3 113.9,251.5 114.9,254.8 113.9,259.1 114.9,262.4 113.8,267.1 115.0,270.4 113.7,275.6 114.7,277.6 114.4,278.6 114.4,324.1 114.8,324.8 113.9,326.1 113.7,327.1 115.0,332.4 113.8,335.7 114.9,340.3 113.9,343.6 114.9,347.9 113.9,351.2 114.8,355.2 114.0,358.5 114.8,362.4 114.0,365.7 114.8,369.7 114.1,372.7 114.8,376.6 114.1,379.6 114.7,383.5 114.1,387.5 111.3,387.5 111.5,385.9 110.9,382.6 111.5,379.3 110.9,375.0 111.6,372.0 110.8,368.0 111.6,364.7 110.8,360.8 111.6,357.5 110.8,353.2 111.7,349.9 110.7,345.6 111.7,342.3 110.6,337.3 111.8,334.0 110.5,328.4 111.9,325.1 110.9,320.5 111.2,320.2 111.0,281.6 111.9,277.3 110.7,275.0 110.5,274.0 111.8,268.4 110.6,265.1 111.7,260.5 110.7,257.2 111.7,252.5 110.7,249.2 111.6,245.3 110.8,241.6 111.6,238.0 110.8,234.4 111.6,230.8 110.8,227.5 111.5,223.5 110.9,219.9ZM118.2,215.9 121.1,215.9 121.4,217.2 120.8,220.9 121.4,224.5 120.8,227.8 121.4,231.4 120.7,234.7 121.5,238.0 120.7,241.6 121.5,244.9 120.7,248.6 121.5,251.9 120.6,255.8 121.6,259.1 120.6,263.1 121.6,266.4 120.5,270.7 121.6,273.0 121.1,273.7 121.1,328.8 121.5,329.4 120.5,332.1 121.6,336.4 120.6,339.3 121.6,343.6 120.6,346.6 121.5,350.5 120.7,353.8 121.5,357.8 120.7,360.8 121.5,364.7 120.7,367.7 121.4,371.3 120.8,374.6 121.4,378.3 120.8,381.6 121.4,385.2 120.9,387.5 118.2,387.5 117.6,384.5 118.2,380.9 117.6,377.3 118.2,374.0 117.5,370.3 118.3,367.0 117.5,363.4 118.3,360.1 117.5,356.2 118.3,353.2 117.4,348.9 118.4,345.9 117.4,341.6 118.4,338.3 117.3,334.0 118.5,330.7 117.5,327.1 117.9,327.1 117.9,275.6 117.5,275.6 118.5,271.7 117.3,268.7 118.4,264.1 117.4,260.8 118.4,256.8 117.4,253.5 118.3,249.6 117.5,246.3 118.3,242.6 117.5,239.3 118.3,235.4 117.5,232.1 118.2,228.4 117.6,225.1 118.2,221.5 117.6,217.9ZM124.4,215.9 128.1,215.9 128.1,216.2 127.5,219.9 128.1,223.5 127.5,226.5 128.1,230.1 127.5,233.4 128.2,236.7 127.4,240.0 128.2,243.6 127.4,246.9 128.2,250.2 127.4,253.9 128.2,257.2 127.3,260.8 128.3,264.1 127.3,267.7 128.3,270.4 127.8,271.0 127.8,331.7 128.3,332.1 127.3,335.0 128.3,338.7 127.3,342.0 128.2,345.6 127.4,348.9 128.2,352.2 127.4,355.5 128.2,359.1 127.4,362.4 128.2,366.1 127.5,369.4 128.1,372.7 127.5,376.0 128.1,379.3 127.5,382.6 128.1,385.9 127.9,387.5 124.6,387.5 124.3,385.9 124.9,382.6 124.3,378.6 124.9,375.6 124.3,372.0 124.9,368.7 124.2,365.1 125.0,362.1 124.2,358.5 125.0,355.2 124.2,351.5 125.0,348.2 124.1,344.3 125.1,341.3 124.1,337.3 125.1,334.0 124.1,330.7 124.6,330.7 124.6,272.0 124.2,271.7 125.1,268.4 124.1,265.4 125.1,261.4 124.1,258.1 125.0,254.5 124.2,251.2 125.0,247.6 124.2,244.3 125.0,240.7 124.2,237.4 124.9,233.7 124.3,230.8 124.9,227.1 124.3,223.8 124.9,220.2 124.3,217.2ZM131.0,215.9 134.8,215.9 134.2,219.2 134.8,222.8 134.2,225.8 134.9,229.4 134.1,232.7 134.9,236.0 134.1,239.3 134.9,242.6 134.1,245.9 134.9,249.6 134.1,252.9 135.0,256.2 134.0,259.5 135.0,262.8 134.0,266.4 135.0,269.4 134.5,269.7 134.5,332.7 135.0,333.1 134.0,336.4 135.0,339.7 134.1,343.0 135.0,346.6 134.1,349.9 134.9,353.2 134.1,356.5 134.9,359.8 134.1,363.1 134.9,366.7 134.1,370.0 134.9,373.3 134.2,376.6 134.9,379.9 134.2,383.2 134.8,386.2 134.8,387.5 131.1,387.5 131.0,386.5 131.6,383.2 131.0,379.6 131.6,376.6 131.0,373.0 131.6,369.7 130.9,366.4 131.7,363.1 130.9,359.5 131.7,356.2 130.9,352.9 131.7,349.6 130.9,345.9 131.7,343.0 130.8,339.3 131.8,336.0 130.8,332.7 131.3,332.4 131.3,270.4 130.8,270.0 131.8,266.7 130.8,263.4 131.7,259.8 130.9,256.5 131.7,253.2 130.9,249.9 131.7,246.3 130.9,243.0 131.7,239.7 130.9,236.4 131.6,232.7 131.0,229.8 131.6,226.1 131.0,223.2 131.6,219.5ZM137.6,215.9 141.7,215.9 140.7,219.2 141.7,222.8 140.7,225.8 141.8,229.4 140.6,232.7 141.9,236.0 140.6,239.3 141.9,243.0 140.5,245.9 142.0,249.6 140.4,252.9 142.2,256.2 140.3,259.5 142.3,263.1 140.0,266.1 142.3,269.7 141.6,270.2 141.2,270.0 141.2,332.4 142.2,332.7 142.3,333.1 140.0,336.4 142.3,339.7 140.3,343.3 142.1,346.3 140.4,349.9 142.0,353.2 140.5,356.5 141.9,359.8 140.6,363.4 141.8,366.4 140.6,370.0 141.8,373.3 140.7,376.6 141.7,379.9 140.7,383.2 141.6,386.2 141.6,387.5 137.7,387.5 137.6,386.8 138.4,383.5 137.6,379.9 138.4,376.6 137.6,373.3 138.5,370.0 137.5,366.7 138.5,363.4 137.5,359.8 138.6,356.5 137.5,353.2 138.6,349.9 137.4,346.6 138.8,343.3 137.4,340.0 137.6,339.0 138.9,336.7 137.3,333.4 137.3,333.1 138.0,332.7 138.0,269.7 137.3,269.4 139.0,266.1 137.4,262.8 138.8,259.5 137.4,256.2 138.6,252.5 137.5,249.2 138.6,245.9 137.5,242.6 138.5,239.3 137.5,236.0 138.5,232.7 137.6,229.4 138.4,225.8 137.6,222.8 138.4,219.2ZM144.2,215.9 148.5,215.9 148.6,216.6 147.2,219.9 148.6,223.5 147.2,226.5 148.6,230.1 147.1,233.1 148.6,237.0 147.1,240.0 148.6,243.6 147.1,246.6 148.5,250.2 147.2,253.5 148.4,257.2 147.3,260.5 148.4,264.1 147.4,267.4 148.3,271.0 147.9,272.0 147.9,330.4 148.3,331.4 147.4,335.4 148.3,338.7 147.3,342.3 148.4,345.3 147.2,349.2 148.5,352.2 147.1,355.8 148.6,359.1 147.1,362.8 148.6,365.7 147.1,369.4 148.6,372.7 147.2,376.3 148.6,379.3 147.2,382.9 148.5,385.9 148.1,387.5 144.3,387.5 144.1,386.5 145.4,383.2 144.1,379.6 145.4,376.3 144.0,373.0 145.5,369.7 144.0,366.4 145.5,362.8 143.9,359.8 145.6,356.2 143.8,352.9 145.6,349.2 143.7,346.3 145.5,342.6 143.8,339.3 145.4,335.7 143.9,332.7 144.1,332.1 144.7,331.7 144.7,271.0 143.9,270.0 145.4,266.7 143.7,263.1 145.5,260.1 143.7,256.5 145.6,253.2 143.8,249.6 145.6,246.6 143.9,243.0 145.5,239.7 144.0,236.4 145.5,233.1 144.0,229.4 145.4,226.1 144.1,222.8 145.4,219.5 144.2,216.6ZM151.0,215.9 154.7,215.9 155.1,217.6 154.0,220.9 155.1,224.5 154.1,227.5 155.0,231.4 154.1,234.4 155.0,238.0 154.2,241.3 155.0,244.9 154.3,248.2 154.9,251.9 154.3,255.5 154.9,259.5 154.3,262.8 154.9,266.7 154.3,270.0 155.0,274.3 154.6,276.0 154.6,326.8 155.0,328.4 154.3,332.4 154.9,336.0 154.3,340.0 154.9,343.0 154.3,347.2 154.9,350.5 154.2,354.2 155.0,357.5 154.2,361.1 155.0,364.4 154.1,368.0 155.1,371.3 154.1,375.0 155.1,378.3 154.0,381.9 155.1,385.2 154.3,387.5 151.4,387.5 150.7,385.9 152.0,382.2 150.7,378.9 152.0,375.3 150.8,372.3 152.0,368.7 150.8,365.4 151.9,361.8 150.9,358.5 151.8,354.8 150.9,351.5 151.8,347.9 151.0,344.6 151.7,341.3 151.0,337.7 151.8,333.7 151.0,330.4 151.4,328.8 151.4,273.7 151.0,272.3 151.8,269.0 151.0,265.1 151.7,261.8 151.0,257.8 151.8,254.5 150.9,250.9 151.8,247.6 150.9,244.0 151.9,241.0 150.8,237.0 152.0,234.1 150.8,230.4 152.0,227.1 150.7,223.5 152.0,220.5 150.8,217.2ZM158.4,215.9 160.9,215.9 161.7,219.2 160.9,222.5 161.6,226.1 161.0,229.4 161.6,233.1 161.0,236.7 161.6,240.0 161.0,243.6 161.6,247.9 161.0,250.9 161.6,255.2 161.0,258.5 161.6,262.8 161.0,266.4 161.7,271.0 160.9,274.6 161.7,279.9 161.3,282.2 161.3,317.5 161.3,320.5 161.7,322.5 160.9,328.1 161.7,331.7 160.9,336.4 161.6,340.0 161.0,344.3 161.6,347.6 161.0,351.5 161.6,354.8 161.0,358.8 161.6,362.4 161.0,366.1 161.6,369.4 161.0,373.0 161.6,376.6 160.9,380.2 161.6,383.5 160.9,387.5 158.5,387.5 157.6,384.5 158.5,380.9 157.7,377.6 158.5,374.0 157.7,370.7 158.4,367.0 157.8,363.7 158.4,360.1 157.8,356.5 158.4,352.5 157.8,349.2 158.4,345.3 157.8,342.0 158.4,337.7 157.7,334.4 158.5,329.8 157.7,326.5 158.1,324.1 158.1,287.8 158.1,278.6 157.7,276.3 158.5,272.7 157.8,268.4 158.4,264.7 157.8,260.5 158.4,257.2 157.8,253.2 158.4,250.2 157.8,245.9 158.4,242.6 157.8,239.0 158.4,235.7 157.7,232.1 158.5,228.8 157.7,225.1 158.5,221.8 157.6,218.2ZM168.0,215.9 167.7,217.9 168.3,221.2 167.7,224.8 168.3,228.8 167.7,232.1 168.3,236.0 167.7,239.3 168.3,243.6 167.7,246.9 168.3,251.2 167.7,254.8 168.4,259.1 167.6,262.8 168.4,268.0 167.5,271.7 168.4,277.6 167.5,282.2 168.4,291.1 167.9,301.4 168.4,310.6 167.5,320.2 168.4,324.8 167.5,331.1 168.4,334.7 167.6,339.7 168.4,343.3 167.6,347.9 168.3,351.5 167.7,355.8 168.3,359.1 167.7,363.1 168.3,366.7 167.7,370.7 168.3,374.0 167.7,377.9 168.3,380.9 167.7,384.9 168.2,387.5 164.9,387.5 165.1,385.5 164.5,382.6 165.1,378.9 164.5,375.6 165.1,371.7 164.5,368.0 165.1,364.4 164.5,361.1 165.1,357.1 164.5,353.5 165.1,349.6 164.5,345.9 165.2,341.6 164.5,338.0 165.2,333.1 164.4,329.4 165.2,323.5 164.4,319.2 164.8,314.2 164.8,288.2 164.4,283.6 165.2,278.9 164.4,273.3 165.2,269.7 164.5,264.7 165.2,261.1 164.5,256.8 165.1,253.2 164.5,249.2 165.1,245.6 164.5,241.6 165.1,238.3 164.5,234.4 165.1,230.8 164.5,227.1 165.1,223.8 164.5,220.2 165.0,215.9ZM171.3,215.9 174.9,215.9 175.0,216.9 174.4,220.2 175.0,224.5 174.4,227.8 175.0,232.1 174.3,235.4 175.1,239.3 174.3,243.0 175.0,247.3 174.3,251.2 175.0,255.8 174.2,259.5 175.1,265.1 174.3,269.7 175.2,275.6 174.2,280.3 175.2,290.8 174.5,301.7 175.1,312.9 174.2,321.8 175.1,327.1 174.1,333.4 175.1,337.3 174.3,343.0 175.1,346.6 174.3,351.5 175.0,355.2 174.3,359.5 175.0,363.1 174.3,367.4 175.0,370.7 174.4,375.0 175.0,378.3 174.4,382.2 175.0,385.5 174.7,387.5 171.2,387.5 171.8,383.5 171.2,379.9 171.8,376.0 171.2,372.7 171.8,368.7 171.2,365.1 171.8,361.1 171.2,357.5 171.9,353.2 171.2,349.6 171.9,344.9 171.1,341.3 172.0,335.7 171.1,332.1 172.0,325.8 171.0,320.8 172.0,311.6 171.7,300.4 172.1,291.8 171.1,281.9 172.0,277.0 171.1,270.7 171.9,266.7 171.1,261.4 171.9,257.8 171.2,253.2 171.9,249.6 171.2,245.3 171.8,241.6 171.2,237.4 171.8,234.1 171.2,230.1 171.8,226.5 171.2,222.8 171.8,219.2ZM178.6,215.9 181.0,215.9 181.7,220.2 181.0,223.5 181.7,228.1 180.9,231.4 181.9,236.0 180.6,239.0 181.8,244.0 181.0,247.6 181.7,252.5 181.0,256.8 181.8,262.4 181.0,266.7 181.8,273.7 180.9,278.6 181.9,290.2 181.2,302.0 181.8,313.9 180.9,323.8 181.8,329.1 180.9,335.7 181.8,340.3 181.0,345.9 181.7,349.9 181.0,354.8 181.7,358.5 181.0,363.1 181.7,366.7 181.0,371.0 181.7,374.6 181.0,378.9 181.7,382.2 181.0,386.2 181.2,387.5 178.5,387.5 177.9,384.5 178.6,380.2 177.9,376.6 178.6,372.7 177.9,369.0 178.6,364.7 177.9,361.1 178.6,356.8 177.9,352.9 178.6,348.2 177.8,344.3 178.6,338.7 177.8,334.4 178.7,327.8 177.8,322.5 178.7,313.3 178.4,299.7 178.8,290.8 177.8,279.9 178.8,275.0 177.8,268.4 178.6,263.8 177.9,258.8 178.6,254.5 177.9,249.6 178.7,245.9 177.8,241.3 178.9,238.0 177.8,233.4 178.6,230.1 177.9,225.8 178.6,222.5 177.9,217.9ZM188.4,215.9 188.4,216.2 187.7,219.9 188.4,224.5 187.7,227.8 188.4,232.4 187.7,236.0 188.4,241.0 187.7,244.6 188.4,249.9 187.7,253.9 188.4,260.1 187.7,264.4 188.5,272.0 187.6,276.6 188.5,289.2 187.9,302.0 188.5,314.9 187.6,325.5 188.5,331.1 187.7,338.3 188.4,342.6 187.7,348.6 188.4,352.5 187.7,357.8 188.4,361.8 187.7,366.7 188.4,370.0 187.7,375.0 188.4,378.3 187.7,382.9 188.4,385.9 188.3,387.5 184.7,387.5 185.3,384.2 184.6,380.6 185.3,376.3 184.6,372.7 185.3,368.4 184.6,364.7 185.3,359.8 184.6,356.2 185.3,350.9 184.6,346.9 185.3,341.3 184.5,336.7 185.4,329.8 184.5,324.1 185.4,314.2 185.1,299.4 185.5,290.2 184.5,278.3 185.4,273.3 184.5,265.7 185.3,261.4 184.6,255.5 185.3,251.2 184.6,246.3 185.4,242.6 184.5,237.7 185.4,234.4 184.6,229.8 185.3,226.5 184.6,221.8 185.2,218.9 184.9,215.9ZM191.8,215.9 194.4,215.9 195.1,220.5 194.4,224.2 195.1,229.1 194.4,233.1 195.1,237.7 194.4,242.0 195.1,247.3 194.4,251.5 195.1,257.5 194.4,262.4 195.1,269.7 194.3,275.3 195.2,288.8 194.6,302.0 195.2,315.6 194.4,326.8 195.2,332.7 194.4,340.3 195.1,344.9 194.4,351.2 195.1,355.5 194.4,360.8 195.1,364.7 194.4,369.7 195.1,373.6 194.4,377.9 195.1,381.9 194.5,385.9 194.6,387.5 191.9,387.5 191.3,384.5 192.0,380.2 191.3,376.3 192.0,371.7 191.3,367.7 192.0,363.1 191.3,359.1 192.0,353.8 191.3,349.6 192.0,343.6 191.3,339.0 192.1,331.4 191.2,325.8 192.1,314.2 191.7,299.4 192.2,289.2 191.2,276.6 192.1,271.7 191.3,263.8 192.0,259.1 191.3,252.9 192.0,248.9 191.3,243.3 192.0,239.7 191.3,234.7 192.0,231.1 191.3,226.1 192.0,222.8 191.3,218.2ZM198.4,215.9 201.6,215.9 201.8,217.2 201.1,220.9 201.8,226.1 201.1,229.8 201.8,235.0 201.1,239.0 201.8,244.6 201.1,248.9 201.8,255.5 201.1,260.1 201.8,268.4 201.0,274.0 201.9,288.2 201.3,302.0 201.9,316.2 201.1,328.8 201.8,334.4 201.1,342.3 201.8,347.2 201.1,353.5 201.8,358.1 201.1,363.7 201.8,367.7 201.1,372.7 201.8,376.6 201.1,381.6 201.8,384.9 201.5,387.5 198.1,387.5 198.7,383.5 198.0,379.6 198.7,375.0 198.0,371.0 198.7,366.1 198.0,361.8 198.7,356.5 198.0,352.2 198.7,345.9 198.0,341.0 198.8,333.1 198.0,327.1 198.8,314.9 198.4,299.1 198.8,288.5 197.9,275.3 198.7,269.4 198.0,261.4 198.7,256.8 198.0,250.6 198.7,246.3 198.0,240.7 198.7,236.7 198.0,231.4 198.7,227.8 198.0,222.8 198.7,219.2ZM208.2,215.9 207.9,218.2 208.5,222.8 207.9,226.5 208.5,232.1 207.8,236.4 208.5,242.3 207.8,246.6 208.5,253.2 207.8,258.1 208.5,266.7 207.7,273.0 208.6,287.5 208.1,302.0 208.6,316.9 207.7,330.1 208.5,336.0 207.8,344.3 208.5,349.2 207.8,356.2 208.5,360.4 207.8,366.4 208.5,370.3 207.8,376.0 208.5,379.6 207.9,384.9 208.4,387.5 205.3,387.5 204.7,383.2 205.4,378.3 204.7,374.3 205.4,368.7 204.7,364.7 205.4,358.8 204.7,354.5 205.4,347.9 204.7,343.0 205.4,334.4 204.7,328.8 205.5,316.2 205.1,299.1 205.5,288.8 204.6,274.3 205.4,267.7 204.7,259.8 205.4,254.5 204.7,248.2 205.4,243.6 204.7,238.0 205.4,233.7 204.7,228.8 205.4,224.5 204.7,219.5 205.3,215.9ZM211.6,215.9 214.6,215.9 215.2,219.9 214.6,223.8 215.2,229.4 214.6,233.7 215.2,240.0 214.5,244.3 215.2,251.2 214.5,256.5 215.2,265.1 214.5,272.3 215.2,286.2 214.8,302.4 215.3,316.6 214.4,331.1 215.2,337.7 214.5,345.9 215.2,351.5 214.5,358.1 215.2,363.1 214.6,368.7 215.2,373.3 214.6,378.6 215.1,383.2 214.6,387.5 211.6,387.5 211.4,386.2 212.0,381.2 211.4,376.9 212.0,371.3 211.4,367.4 212.1,361.4 211.4,356.8 212.1,349.9 211.4,344.9 212.1,336.4 211.4,329.8 212.2,316.6 211.8,298.7 212.2,288.5 211.4,273.3 212.1,266.1 211.4,257.8 212.1,252.5 211.4,245.9 212.1,241.3 211.4,235.4 212.0,231.1 211.4,225.8 212.0,221.5ZM218.5,215.9 221.8,215.9 221.8,216.9 221.3,221.2 221.8,227.1 221.3,231.1 221.9,237.7 221.3,242.3 221.9,249.2 221.2,254.8 221.9,263.8 221.2,271.3 221.9,286.5 221.5,302.4 221.9,317.9 221.2,332.1 221.9,339.0 221.2,347.9 221.9,353.2 221.3,360.4 221.9,365.1 221.3,371.3 221.9,375.6 221.3,381.2 221.8,385.2 221.7,387.5 218.3,387.5 218.7,383.9 218.1,379.9 218.7,374.6 218.1,370.0 218.7,363.7 218.1,358.8 218.8,352.2 218.1,346.6 218.8,338.0 218.1,330.7 218.9,316.6 218.5,298.7 218.9,287.5 218.1,272.3 218.8,264.7 218.1,256.2 218.8,250.6 218.1,243.6 218.7,239.0 218.1,232.7 218.7,228.4 218.1,222.8 218.7,218.9ZM225.4,215.9 228.4,215.9 228.0,218.9 228.5,224.2 228.0,228.8 228.5,235.4 228.0,240.0 228.6,247.6 228.0,252.9 228.6,262.1 228.0,269.7 228.6,284.9 228.2,302.4 228.6,317.9 227.9,332.7 228.6,340.3 228.0,349.6 228.6,355.2 228.0,362.4 228.6,367.4 228.0,373.6 228.5,377.9 228.0,383.9 228.5,387.5 225.4,387.5 224.9,382.6 225.4,376.9 224.8,372.3 225.4,365.7 224.8,361.1 225.4,353.8 224.8,348.2 225.4,339.3 224.8,332.1 225.6,317.2 225.2,298.7 225.6,288.2 224.8,271.3 225.4,263.1 224.8,254.5 225.4,248.6 224.8,241.3 225.4,237.0 224.8,230.4 225.4,225.5 224.9,220.2Z"/>
<path fill="#5a48e4" fill-rule="evenodd" d="M44.3,215.9 47.3,215.9 46.8,219.9 47.6,223.8 46.8,230.1 47.6,235.0 46.7,241.6 47.6,246.9 46.7,255.2 47.7,261.1 46.7,273.0 47.7,281.9 47.3,301.4 47.7,321.2 46.7,329.8 47.7,341.6 46.7,347.6 47.6,355.8 46.7,360.8 47.6,367.7 46.8,372.3 47.6,378.3 46.8,382.9 47.5,387.5 44.3,387.5 44.0,385.2 44.8,380.6 44.0,374.0 44.8,370.0 44.0,362.8 44.9,357.8 44.0,349.2 44.9,343.6 43.9,331.7 44.9,323.5 44.3,301.4 44.9,278.6 43.9,270.7 44.9,258.8 44.0,253.2 44.9,244.6 44.0,240.0 44.8,232.7 44.0,228.4 44.8,222.2 44.1,218.2ZM51.5,215.9 54.2,215.9 54.3,216.6 53.5,222.2 54.3,226.8 53.5,232.4 54.3,237.0 53.4,243.6 54.3,248.6 53.4,256.8 54.4,262.4 53.3,274.0 54.4,282.6 54.0,301.4 54.4,320.5 53.3,328.4 54.4,340.0 53.4,345.9 54.3,354.2 53.4,358.8 54.3,365.7 53.5,370.0 54.3,376.0 53.5,380.2 54.3,385.5 54.0,387.5 51.5,387.5 50.7,382.6 51.5,378.3 50.7,372.0 51.5,367.4 50.7,360.8 51.6,355.8 50.7,347.9 51.6,342.3 50.6,331.1 51.7,323.2 51.0,301.4 51.7,279.9 50.6,272.0 51.6,260.5 50.7,254.8 51.6,246.6 50.7,242.0 51.5,235.0 50.7,230.8 51.5,224.5 50.7,220.2ZM58.1,215.9 60.2,215.9 61.0,219.5 60.2,224.8 61.0,229.1 60.2,235.0 61.0,239.0 60.1,245.9 61.0,250.6 60.1,258.5 61.1,263.8 60.0,275.3 61.0,280.6 61.1,283.6 60.7,301.4 61.1,319.9 60.0,327.1 61.1,338.7 60.1,343.9 61.0,352.2 60.1,356.8 61.0,363.4 60.2,367.4 61.0,373.6 60.2,377.3 61.0,383.2 60.2,387.5 57.7,387.5 58.2,384.9 57.4,379.6 58.2,375.6 57.4,369.7 58.2,365.1 57.4,358.8 58.3,353.8 57.3,346.3 58.3,340.6 57.3,329.8 58.4,322.2 57.7,301.4 58.4,280.3 57.3,273.0 58.3,261.8 57.3,256.5 58.3,248.6 57.4,244.0 58.3,237.4 57.4,233.1 58.2,227.1 57.4,223.2 58.2,217.9ZM64.4,215.9 67.4,215.9 66.9,218.9 67.7,222.5 66.9,227.8 67.7,232.1 66.8,237.4 67.7,241.6 66.8,247.9 67.8,252.5 66.8,260.1 67.8,265.4 66.7,276.3 67.8,283.9 67.4,301.4 67.8,319.2 66.7,326.1 67.8,337.0 66.8,342.3 67.8,349.9 66.8,354.5 67.7,361.1 66.8,365.1 67.7,370.7 66.9,375.0 67.7,379.9 66.9,383.9 67.5,387.5 64.3,387.5 64.1,386.2 64.9,382.2 64.1,376.6 64.9,373.0 64.1,367.0 65.0,363.1 64.1,356.5 65.0,352.2 64.0,344.3 65.1,339.3 64.0,328.4 65.1,321.2 64.4,301.4 65.1,280.9 64.0,274.3 65.1,263.4 64.0,258.5 65.0,250.6 64.1,246.3 65.0,239.7 64.1,235.7 64.9,229.8 64.1,226.1 64.9,220.5 64.2,217.2ZM71.6,215.9 74.2,215.9 74.4,216.9 73.6,221.8 74.4,225.8 73.6,230.8 74.4,234.7 73.5,240.0 74.4,244.3 73.5,250.2 74.5,254.8 73.4,262.1 74.5,267.1 73.3,277.6 74.4,282.6 74.6,284.9 74.1,301.4 74.6,318.2 73.4,324.8 74.5,335.7 73.4,340.3 74.5,347.9 73.5,352.2 74.4,358.5 73.5,362.4 74.4,368.0 73.6,372.0 74.4,376.9 73.6,380.6 74.3,385.2 74.0,387.5 71.6,387.5 70.8,382.9 71.6,379.3 70.8,373.6 71.6,370.0 70.8,364.4 71.7,360.4 70.8,354.2 71.7,349.9 70.7,342.3 71.8,337.7 70.7,327.1 71.9,320.8 71.1,301.4 71.9,282.2 70.7,275.6 71.8,265.1 70.7,260.5 71.7,252.5 70.8,248.6 71.7,242.0 70.8,238.3 71.6,232.4 70.8,229.1 71.6,223.5 70.8,219.9ZM77.9,215.9 80.4,215.9 80.3,217.2 81.1,220.2 80.3,225.1 81.1,229.1 80.3,233.7 81.1,237.7 80.2,243.0 81.1,246.9 80.2,252.9 81.2,256.8 80.1,264.1 81.2,268.7 80.0,278.9 80.2,280.6 81.1,283.2 81.3,285.5 80.8,301.4 81.3,317.5 80.0,323.5 81.2,333.7 81.1,335.4 80.1,338.3 81.2,345.6 80.2,349.9 81.1,355.8 80.2,359.8 81.1,365.1 80.3,368.7 81.1,374.0 80.3,377.3 81.1,382.2 80.3,385.5 80.6,387.5 77.6,387.5 78.3,384.2 77.5,379.3 78.3,376.0 77.5,370.7 78.4,367.4 77.5,361.8 78.4,357.8 77.4,351.5 78.4,347.6 77.4,340.3 78.5,336.0 77.3,325.8 78.6,319.5 77.8,301.4 78.6,282.9 77.3,276.6 78.5,266.7 77.4,262.1 78.4,254.8 77.4,250.9 78.4,244.6 77.5,241.0 78.4,235.4 77.5,231.7 78.3,226.8 77.5,223.2 78.3,218.5ZM84.8,215.9 87.7,215.9 87.0,220.5 87.8,224.2 87.0,228.4 87.8,232.1 86.9,237.0 87.8,240.7 86.9,245.6 87.9,249.6 86.8,255.2 87.9,259.1 86.8,266.1 87.8,269.2 88.0,270.7 86.7,280.6 87.8,284.2 88.1,286.5 87.5,301.4 88.0,316.6 87.8,318.4 86.6,322.2 88.0,332.1 86.8,336.4 87.9,343.3 86.8,347.2 87.9,353.2 86.9,356.8 87.8,362.1 86.9,365.7 87.8,370.3 87.0,374.0 87.8,378.6 87.0,382.2 87.7,385.9 87.6,387.5 84.8,387.5 84.2,384.5 85.0,380.9 84.2,376.0 85.0,372.7 84.2,367.7 85.1,364.1 84.2,358.8 85.1,355.2 84.1,349.2 85.2,345.3 84.1,338.3 85.2,334.0 84.0,324.5 84.2,322.7 85.4,318.9 84.5,301.4 85.4,283.6 84.2,279.9 84.0,278.3 85.2,268.7 84.1,264.1 85.2,257.2 84.1,253.2 85.1,247.6 84.2,243.6 85.1,238.3 84.2,234.7 85.0,230.1 84.2,226.5 85.0,221.8 84.2,218.2ZM91.4,215.9 93.8,215.9 94.5,219.9 93.7,224.2 94.5,227.8 93.7,232.1 94.5,235.7 93.6,240.3 94.5,244.0 93.6,248.9 94.6,252.5 93.5,257.8 94.6,261.8 93.4,268.4 94.6,271.3 94.7,272.7 93.3,281.9 93.5,283.2 94.5,285.2 94.8,287.2 94.2,301.4 94.8,315.9 93.3,320.5 94.7,330.1 94.5,331.4 93.4,334.0 94.6,341.0 93.5,344.6 94.6,350.2 93.6,353.8 94.5,358.8 93.6,362.4 94.5,367.0 93.7,370.3 94.5,375.0 93.7,378.3 94.5,382.6 93.7,385.9 93.9,387.5 91.0,387.5 91.7,384.9 90.9,380.6 91.7,377.3 90.9,372.3 91.7,369.4 90.9,364.4 91.8,361.1 90.9,355.8 91.8,352.2 90.8,346.6 91.9,343.0 90.8,336.0 92.0,332.1 90.7,322.8 90.9,321.2 91.9,319.2 92.1,317.9 91.2,301.4 92.1,284.5 90.9,281.2 90.7,279.6 92.0,270.4 90.7,266.4 91.9,259.8 90.8,255.8 91.8,250.2 90.8,246.6 91.8,241.6 90.9,238.0 91.7,233.4 90.9,230.1 91.7,225.5 90.9,222.2 91.7,217.9ZM98.0,216.1 101.0,215.9 101.1,216.6 100.4,220.9 101.1,224.5 100.4,228.1 101.2,231.7 100.4,236.0 101.2,239.3 100.3,243.6 101.2,247.3 100.3,251.9 101.3,255.5 100.2,260.8 101.3,264.4 100.1,270.7 101.3,273.3 101.4,274.6 99.9,283.6 100.1,284.5 101.3,286.5 101.6,288.2 100.9,301.4 101.5,314.9 101.3,316.2 99.9,318.9 101.4,328.1 101.2,329.4 100.1,331.7 101.3,338.3 100.2,341.6 101.3,347.2 100.3,350.5 101.2,355.5 100.3,358.8 101.2,363.4 100.4,366.7 101.2,371.0 100.4,374.3 101.2,378.3 100.4,381.9 101.1,385.5 100.8,387.5 98.3,387.5 97.6,384.2 98.4,380.9 97.6,376.6 98.4,373.3 97.6,368.7 98.4,365.7 97.6,361.1 98.5,357.5 97.5,352.5 98.5,349.2 97.5,343.6 98.6,340.3 97.4,333.7 98.7,330.1 97.3,321.2 97.5,319.9 98.9,316.9 98.0,307.7 97.8,301.4 98.0,294.9 98.9,285.5 97.6,282.9 97.3,281.2 98.7,272.7 97.4,268.7 98.6,262.4 97.5,258.8 98.5,253.5 97.5,249.9 98.5,244.9 97.6,241.6 98.4,237.0 97.6,233.7 98.4,229.4 97.6,226.1 98.4,221.8 97.7,218.5ZM107.5,215.9 107.1,218.2 107.8,221.2 107.1,225.1 107.9,228.8 107.1,232.4 107.9,236.0 107.1,240.0 107.9,243.3 107.0,247.6 108.0,250.9 107.0,255.5 108.0,258.8 106.9,263.8 108.1,267.4 106.7,273.3 108.0,275.6 108.2,277.0 106.4,285.5 107.7,287.5 107.7,315.2 106.4,317.2 108.2,325.8 107.9,327.0 106.7,329.4 108.1,335.4 106.9,338.7 108.0,343.9 107.0,347.2 108.0,351.9 107.0,355.2 107.9,359.5 107.1,362.8 107.9,366.7 107.1,370.0 107.9,374.0 107.1,377.3 107.8,381.2 107.1,384.5 107.7,387.5 104.4,387.5 104.4,387.2 105.1,383.9 104.4,379.6 105.1,376.6 104.3,372.3 105.1,369.4 104.3,365.1 105.2,361.8 104.3,357.1 105.2,354.2 104.2,349.2 105.3,345.9 104.2,340.6 105.3,337.3 104.1,331.4 105.5,327.8 104.0,319.5 104.3,318.0 105.8,315.9 104.7,307.0 104.6,298.1 105.8,286.5 104.3,284.5 104.0,282.9 105.5,274.6 104.1,271.3 105.3,265.1 104.2,261.8 105.3,256.5 104.2,253.2 105.2,248.6 104.3,245.3 105.2,241.0 104.3,237.7 105.1,233.4 104.3,230.1 105.1,226.1 104.4,222.8 105.1,218.9 104.4,215.9ZM111.9,215.9 113.9,215.9 114.5,218.9 113.8,222.8 114.5,226.5 113.8,229.8 114.6,233.4 113.8,237.0 114.6,240.3 113.7,244.3 114.6,247.6 113.7,251.5 114.7,254.8 113.6,259.1 114.7,262.4 113.5,267.1 114.8,270.4 113.4,276.0 114.5,277.9 114.2,278.9 114.2,323.8 114.6,324.5 113.4,326.5 114.8,332.1 114.7,333.1 113.5,335.4 114.7,340.3 113.6,343.3 114.7,347.9 113.7,350.9 114.6,355.2 113.7,358.5 114.6,362.4 113.8,365.7 114.6,369.4 113.8,372.7 114.5,376.6 113.8,379.6 114.5,383.5 113.9,387.5 111.5,387.5 111.7,385.9 111.1,382.6 111.8,379.3 111.0,375.3 111.8,372.0 111.0,368.0 111.8,365.1 111.0,360.8 111.9,357.5 111.0,353.5 111.9,350.2 110.9,345.6 112.0,342.3 110.9,337.7 112.1,334.4 110.8,328.8 110.9,327.8 112.3,325.5 111.2,321.2 111.4,281.9 111.2,281.6 112.2,277.0 111.0,275.0 110.8,274.0 112.1,268.4 110.9,265.1 112.0,260.1 110.9,256.8 111.9,252.5 111.0,249.2 111.9,244.9 111.0,241.6 111.8,237.7 111.0,234.7 111.8,230.4 111.1,227.5 111.8,223.5 111.1,219.9ZM118.2,216.1 120.9,215.9 121.2,217.6 120.6,221.2 121.2,224.5 120.5,227.8 121.2,231.4 120.5,234.7 121.3,238.0 120.5,241.6 121.3,244.9 120.4,248.9 121.3,252.2 120.4,255.8 121.4,259.1 120.3,263.1 121.4,266.4 120.2,270.7 121.3,273.0 120.9,273.7 120.9,328.8 121.4,329.4 120.2,331.7 121.4,336.0 120.3,339.3 121.4,343.6 120.4,346.6 121.3,350.5 120.4,353.8 121.3,357.5 120.5,360.8 121.3,364.4 120.5,367.7 121.2,371.3 120.5,374.6 121.2,378.3 120.6,381.6 121.2,385.2 120.7,387.5 118.4,387.5 117.8,384.5 118.4,381.2 117.8,377.3 118.5,374.3 117.7,370.3 118.5,367.4 117.7,363.4 118.5,360.1 117.7,356.5 118.6,353.2 117.7,349.2 118.6,345.9 117.6,341.6 118.7,338.7 117.5,334.0 118.8,331.1 117.8,327.4 118.1,327.1 118.1,275.6 117.7,275.3 118.8,271.7 117.5,268.7 118.7,264.1 117.6,260.8 118.6,256.8 117.7,253.5 118.6,249.6 117.7,246.3 118.5,242.3 117.7,239.0 118.5,235.4 117.7,232.1 118.5,228.4 117.8,225.1 118.4,221.5 117.8,218.5ZM124.8,215.9 127.9,215.9 127.9,216.2 127.3,219.9 127.9,223.5 127.3,226.5 127.9,230.1 127.2,233.4 128.0,236.7 127.2,240.3 128.0,243.6 127.2,246.9 128.0,250.2 127.1,253.9 128.0,257.2 127.1,260.8 128.1,264.1 127.0,267.7 128.1,270.4 127.6,271.0 127.6,331.7 128.1,332.1 127.0,334.7 128.1,338.7 127.1,342.0 128.0,345.6 127.1,348.6 128.0,352.2 127.2,355.5 128.0,359.1 127.2,362.4 127.9,365.7 127.2,369.0 127.9,372.7 127.2,376.0 127.9,379.3 127.3,382.6 127.9,385.9 127.7,387.5 124.8,387.5 124.5,385.9 125.1,382.6 124.5,378.6 125.2,375.6 124.5,372.0 125.2,368.7 124.4,365.1 125.2,362.1 124.4,358.5 125.2,355.2 124.4,351.5 125.3,348.2 124.3,344.6 125.3,341.3 124.3,337.3 125.4,334.4 124.4,331.1 124.8,330.7 124.8,272.0 124.3,271.7 125.4,268.4 124.3,265.1 125.3,261.4 124.3,258.1 125.3,254.2 124.4,251.2 125.2,247.6 124.4,244.3 125.2,240.7 124.4,237.4 125.2,233.7 124.5,230.4 125.1,227.1 124.5,223.8 125.1,220.2 124.5,217.2ZM131.4,215.9 134.6,215.9 133.9,219.2 134.6,222.8 133.9,226.1 134.7,229.4 133.9,232.7 134.7,236.0 133.9,239.3 134.7,242.6 133.9,246.3 134.7,249.6 133.8,252.9 134.7,256.2 133.8,259.5 134.8,262.8 133.8,266.4 134.8,269.4 134.3,269.7 134.3,332.7 134.8,333.1 133.8,336.4 134.8,339.7 133.8,343.0 134.7,346.6 133.8,349.9 134.7,353.2 133.9,356.5 134.7,359.8 133.9,363.1 134.7,366.4 133.9,370.0 134.7,373.3 133.9,376.6 134.6,379.9 133.9,383.2 134.6,386.2 134.6,387.5 131.3,387.5 131.2,386.5 131.8,383.2 131.2,379.6 131.9,376.6 131.2,373.0 131.9,369.7 131.2,366.4 131.9,363.1 131.1,359.5 131.9,356.5 131.1,352.9 131.9,349.6 131.1,345.9 132.0,343.0 131.0,339.3 132.0,336.0 131.0,332.7 131.5,332.4 131.5,270.0 131.0,270.0 132.0,266.4 131.0,263.4 132.0,259.8 131.1,256.5 131.9,253.2 131.1,249.9 131.9,246.3 131.1,243.0 131.9,239.7 131.2,236.4 131.9,232.7 131.2,229.8 131.9,226.1 131.2,222.8 131.8,219.5 131.2,216.6ZM138.0,215.9 141.5,215.9 140.5,219.2 141.5,222.8 140.4,225.8 141.6,229.4 140.4,232.7 141.6,236.0 140.3,239.3 141.7,243.0 140.2,245.9 141.8,249.6 140.1,252.9 141.9,256.2 139.8,259.5 141.7,262.1 142.0,263.1 141.4,264.1 139.6,265.7 138.3,264.5 137.6,262.8 137.9,261.4 139.2,259.5 137.6,256.2 139.0,252.5 137.7,249.2 138.9,245.9 137.7,242.6 138.8,239.3 137.7,236.0 138.7,232.7 137.8,229.4 138.7,225.8 137.8,222.8 138.7,219.2ZM148.3,215.9 148.3,216.6 146.9,219.5 148.2,222.5 148.3,223.5 146.8,226.5 148.4,230.1 146.8,233.1 148.3,236.0 148.4,237.0 146.7,240.0 148.0,242.3 148.4,243.6 146.7,246.6 148.3,250.2 148.1,251.2 146.8,253.5 148.2,257.2 147.0,260.5 148.2,264.1 147.2,267.4 148.1,271.0 147.7,272.0 147.7,330.7 148.1,331.4 147.2,335.4 148.2,338.7 147.0,342.3 148.2,345.6 146.8,349.2 148.3,352.2 148.0,353.5 146.7,355.8 148.1,358.1 148.4,359.1 146.7,362.8 148.4,365.7 148.2,366.7 146.8,369.4 148.4,372.7 146.8,376.3 148.4,379.3 146.9,382.9 148.3,385.9 147.9,387.5 144.5,387.5 144.3,386.5 145.7,383.2 144.4,380.6 144.3,379.6 145.7,376.3 144.4,374.0 144.2,373.0 145.8,369.7 144.2,366.4 145.9,362.8 144.3,360.4 144.1,359.5 146.0,356.2 144.4,353.8 144.1,352.9 146.0,349.2 144.0,346.3 145.8,342.6 144.0,339.3 145.6,335.7 144.2,332.7 144.3,332.1 144.9,331.7 144.9,271.0 144.2,270.0 145.6,266.7 144.0,263.1 145.8,260.1 144.0,256.5 145.9,253.2 144.3,250.6 144.1,249.6 146.0,246.6 144.1,243.0 145.9,239.7 144.2,236.4 144.4,235.4 145.8,233.1 144.3,229.8 144.4,228.8 145.7,226.5 144.3,222.8 145.7,219.5 144.5,216.9 144.3,215.9ZM151.2,216.0 154.5,215.9 154.9,217.6 153.8,220.9 154.9,224.5 153.8,227.5 154.8,231.1 153.9,234.4 154.8,238.0 153.9,241.3 154.8,244.9 154.0,248.2 154.7,252.2 154.0,255.5 154.7,259.5 154.0,262.4 154.7,266.7 154.0,270.0 154.8,274.3 154.4,275.6 154.4,317.5 154.4,327.1 154.8,328.4 154.0,332.4 154.7,336.0 154.0,340.0 154.7,343.3 154.0,347.2 154.7,350.5 154.0,354.2 154.8,357.5 154.0,361.4 154.8,364.4 153.9,368.0 154.8,371.3 153.8,375.0 154.9,378.3 153.8,381.9 154.9,385.2 154.1,387.5 151.7,387.5 151.0,385.9 152.3,382.2 151.0,378.9 152.3,375.3 151.0,372.3 152.2,368.7 151.0,365.4 152.2,361.8 151.1,358.5 152.1,354.8 151.2,351.5 152.0,347.9 151.2,344.6 152.0,341.0 151.2,337.7 152.0,333.7 151.2,330.4 151.6,328.8 151.6,274.0 151.2,272.3 152.0,269.0 151.2,265.1 152.0,261.4 151.2,257.8 152.0,254.8 151.2,250.9 152.1,247.9 151.1,244.0 152.1,241.0 151.0,237.4 152.2,234.1 151.0,230.4 152.3,227.1 151.0,223.5 152.3,220.5 151.0,217.2ZM158.8,215.9 160.7,215.9 161.4,219.2 160.7,222.5 161.4,226.1 160.7,229.4 161.4,233.1 160.8,236.4 161.4,240.0 160.8,243.6 161.4,247.6 160.8,250.9 161.4,255.2 160.7,258.5 161.4,262.8 160.7,266.1 161.4,270.7 160.6,274.3 161.4,279.6 161.1,281.9 161.0,317.5 161.1,320.8 161.4,322.8 160.6,328.1 161.4,331.7 160.7,336.4 161.4,340.0 160.7,344.3 161.4,347.6 160.8,351.5 161.4,354.8 160.8,359.1 161.4,362.4 160.8,366.1 161.4,369.7 160.7,373.3 161.4,376.6 160.7,380.2 161.4,383.5 160.7,387.5 158.8,387.5 157.9,384.5 158.7,380.9 157.9,377.6 158.7,374.0 158.0,370.7 158.7,367.0 158.0,363.4 158.6,359.8 158.0,356.8 158.6,352.5 158.0,349.2 158.7,345.3 158.0,342.0 158.7,337.7 158.0,334.0 158.7,329.8 158.0,326.1 158.3,323.8 158.3,303.0 158.3,278.9 158.0,276.6 158.7,273.0 158.0,268.4 158.7,264.7 158.0,260.8 158.7,257.5 158.0,253.5 158.6,249.9 158.0,245.9 158.6,242.6 158.0,239.0 158.7,235.7 158.0,232.1 158.7,228.8 157.9,225.1 158.7,221.8 157.9,218.2ZM165.4,215.9 167.7,215.9 167.4,217.9 168.0,221.2 167.4,224.8 168.0,228.8 167.4,231.7 168.0,236.0 167.4,239.3 168.1,243.3 167.4,246.6 168.1,251.2 167.4,254.5 168.1,259.1 167.3,262.4 168.1,267.7 167.2,271.3 168.1,277.3 167.2,281.9 168.1,290.5 167.6,297.4 167.6,305.3 168.1,311.6 167.1,320.8 168.1,325.5 167.1,331.4 168.1,335.0 167.3,340.0 168.1,343.6 167.3,348.2 168.1,351.5 167.4,355.8 168.1,359.1 167.4,363.4 168.0,366.7 167.4,370.7 168.0,374.0 167.4,377.9 168.0,380.9 167.4,385.2 167.9,387.5 165.1,387.5 165.4,385.5 164.7,382.6 165.4,378.9 164.7,375.3 165.4,371.7 164.7,368.4 165.4,364.1 164.7,360.8 165.4,356.8 164.7,353.5 165.4,349.2 164.7,345.6 165.5,341.3 164.7,337.7 165.6,332.7 164.7,329.4 165.6,322.8 164.7,318.5 165.1,314.2 165.1,303.0 165.1,288.8 164.7,283.9 165.6,279.6 164.7,273.7 165.5,270.0 164.7,264.7 165.5,261.4 164.7,256.8 165.4,253.2 164.7,249.2 165.4,245.6 164.7,241.6 165.4,238.3 164.8,234.7 165.4,231.1 164.7,227.1 165.4,223.8 164.7,220.2ZM171.6,215.9 174.6,215.9 174.7,216.6 174.0,220.2 174.7,224.5 174.0,227.5 174.7,231.7 174.0,235.0 174.7,239.3 174.0,242.6 174.7,247.3 174.0,250.9 174.7,255.8 173.8,259.5 174.8,264.4 173.9,268.7 174.8,275.3 173.8,279.3 174.8,290.8 173.9,298.5 173.3,301.2 173.0,301.4 172.4,298.4 172.4,290.8 171.4,282.2 172.5,277.3 171.4,271.0 172.3,267.1 171.4,261.8 172.3,258.1 171.4,253.2 172.2,249.6 171.5,245.3 172.2,241.6 171.5,237.7 172.2,234.1 171.5,230.1 172.1,226.8 171.5,222.8 172.1,219.5ZM178.9,215.9 180.7,215.9 181.4,219.9 180.6,223.5 181.4,228.1 180.4,231.4 181.4,235.7 180.9,237.0 179.9,237.6 178.9,236.2 178.2,233.7 179.1,230.4 178.2,226.1 178.9,222.5 178.2,218.2ZM185.2,215.9 188.1,215.9 187.3,219.5 188.1,224.2 187.3,227.5 188.1,232.4 187.3,235.7 188.1,240.7 187.3,244.3 188.1,249.6 187.3,253.5 188.1,259.5 187.2,263.8 188.1,271.0 187.0,275.6 187.9,283.2 188.1,288.8 187.5,298.1 186.7,303.0 187.7,308.0 188.1,313.6 187.2,326.5 188.1,331.4 187.2,339.0 188.1,343.0 187.3,349.2 188.1,352.9 187.3,358.1 188.1,361.8 187.3,367.0 188.1,370.3 187.3,375.0 188.1,378.3 187.3,382.9 188.0,385.9 188.0,387.5 185.0,387.5 185.7,383.9 184.9,380.2 185.7,376.3 184.9,372.7 185.7,368.0 184.9,364.4 185.7,359.5 184.9,355.8 185.7,350.5 184.9,346.6 185.8,340.6 184.9,336.4 185.9,329.1 185.0,325.5 184.8,323.2 186.4,303.0 185.7,298.7 185.9,289.8 184.8,279.3 185.1,277.0 186.1,274.3 184.9,266.4 185.8,261.8 184.9,255.8 185.7,251.9 184.9,246.6 185.8,243.0 184.9,238.3 185.8,234.7 184.9,230.1 185.7,226.5 184.9,222.2 185.7,218.9ZM192.1,216.1 194.0,215.9 194.8,220.2 194.0,224.2 194.8,229.1 194.0,232.4 194.8,237.7 194.0,241.3 194.8,246.9 194.0,250.9 194.8,257.2 194.0,261.4 194.8,269.4 193.7,274.3 194.8,286.9 193.6,302.7 194.4,308.2 194.8,314.9 193.9,328.4 194.8,333.4 194.0,341.0 194.8,345.6 194.0,351.5 194.8,355.8 194.0,361.1 194.8,365.1 194.0,370.0 194.8,373.6 194.0,378.3 194.8,382.2 194.1,387.5 192.3,387.5 191.6,384.2 192.4,379.9 191.6,376.3 192.4,371.3 191.6,367.7 192.4,362.8 191.6,358.8 192.4,353.5 191.6,349.2 192.4,343.0 191.6,338.3 192.7,330.7 191.7,327.1 191.6,324.8 192.4,315.9 192.8,303.0 192.3,298.1 192.6,289.2 191.6,277.9 191.8,275.6 192.6,272.7 191.6,264.1 192.4,259.5 191.6,253.2 192.4,249.2 191.6,243.6 192.4,240.0 191.6,235.0 192.4,231.4 191.6,226.5 192.4,223.2 191.6,218.5ZM201.4,215.9 201.4,216.9 200.8,220.9 201.5,225.8 200.7,229.4 201.5,234.7 200.7,238.7 201.5,244.3 200.7,248.6 201.5,254.8 200.7,259.5 201.5,267.7 200.5,273.3 201.3,280.9 201.5,286.5 200.4,302.7 201.5,315.6 200.5,330.1 201.5,335.0 200.7,343.0 201.5,347.6 200.7,354.2 201.5,358.5 200.7,364.1 201.5,368.0 200.7,373.3 201.5,376.9 200.8,381.9 201.4,385.2 201.2,387.5 198.4,387.5 199.0,383.5 198.3,379.6 199.1,374.6 198.3,370.7 199.1,365.7 198.3,361.4 199.1,356.2 198.3,351.5 199.1,345.3 198.3,340.3 199.3,332.1 198.5,328.4 198.3,326.1 199.1,315.9 199.4,303.4 199.0,298.1 199.3,289.2 198.3,276.6 199.1,271.0 198.3,262.1 199.1,257.2 198.3,250.9 199.1,246.6 198.3,241.0 199.1,237.0 198.3,231.7 199.1,228.1 198.3,223.2 199.0,219.5 198.5,215.9ZM206.0,215.9 207.7,215.9 207.5,217.9 208.1,222.5 207.5,226.5 208.1,232.1 207.4,235.7 208.2,242.0 207.4,245.9 208.2,252.9 207.4,257.5 208.2,266.1 207.3,272.3 208.2,285.9 207.2,302.7 208.2,316.6 208.0,322.5 207.2,331.1 208.2,336.7 207.4,344.9 208.2,349.9 207.4,356.5 208.2,360.8 207.4,366.7 208.1,370.7 207.5,376.3 208.1,379.9 207.5,384.9 208.0,387.5 205.6,387.5 205.7,386.2 205.1,382.9 205.7,377.9 205.0,374.0 205.8,368.4 205.0,364.1 205.8,358.5 205.0,353.8 205.8,347.6 205.0,342.3 205.9,333.4 205.1,329.4 205.0,327.1 205.8,316.6 206.1,303.4 205.7,297.7 206.0,288.8 205.0,275.3 205.8,268.4 205.0,260.5 205.8,255.2 205.0,248.6 205.8,244.0 205.0,238.3 205.8,234.1 205.1,229.1 205.7,224.8 205.1,219.9ZM211.9,215.9 214.3,215.9 214.8,219.5 214.2,223.5 214.8,228.8 214.2,233.4 214.8,239.3 214.2,244.0 214.9,250.6 214.1,255.8 214.9,264.1 214.1,272.0 214.9,284.2 213.9,302.7 214.9,317.9 213.9,332.1 214.9,338.3 214.1,346.6 214.9,351.9 214.2,358.8 214.8,363.4 214.2,369.4 214.8,373.6 214.2,378.9 214.8,382.9 214.2,387.5 212.0,387.5 211.8,385.9 212.4,380.6 211.8,376.3 212.4,371.3 211.8,366.7 212.4,361.1 211.7,356.2 212.5,349.6 211.7,344.3 212.5,334.7 211.7,328.1 212.6,316.2 212.4,308.0 212.7,303.0 212.4,297.7 212.7,289.5 211.7,274.3 212.5,267.1 211.7,258.5 212.5,253.2 211.7,246.3 212.4,241.6 211.8,235.7 212.4,231.4 211.8,226.1 212.4,221.8 211.8,217.6ZM218.8,215.9 221.5,215.9 221.5,216.6 220.9,220.9 221.5,226.8 220.9,230.8 221.5,237.0 220.9,241.6 221.5,248.9 220.9,253.9 221.6,262.8 220.8,270.7 221.6,284.2 220.7,302.7 221.5,318.5 220.7,332.7 221.5,339.7 220.9,348.6 221.5,353.8 220.9,361.1 221.5,365.4 220.9,371.7 221.5,376.0 220.9,381.6 221.5,385.2 221.4,387.5 218.6,387.5 219.1,383.5 218.5,379.3 219.1,374.0 218.5,369.4 219.1,363.4 218.5,358.5 219.1,351.5 218.4,345.9 219.2,337.0 218.4,329.4 219.3,316.6 219.1,308.0 219.4,303.0 219.0,297.7 219.4,289.2 218.5,273.0 219.1,265.7 218.4,256.5 219.1,251.2 218.5,244.0 219.1,239.3 218.5,233.1 219.1,228.8 218.5,223.2 219.1,219.2ZM228.0,215.9 227.6,218.2 228.2,223.8 227.6,228.1 228.2,234.7 227.6,239.7 228.2,246.9 227.6,252.2 228.2,261.4 227.6,268.4 228.2,283.6 227.4,302.7 228.2,319.5 227.5,333.4 228.2,341.3 227.6,350.2 228.2,355.8 227.6,363.1 228.2,367.7 227.6,374.3 228.2,378.3 227.6,384.5 228.1,387.5 225.7,387.5 225.8,385.9 225.2,382.2 225.8,376.6 225.2,372.0 225.8,365.7 225.2,361.1 225.8,353.5 225.2,347.9 225.8,338.7 225.2,330.7 226.0,316.9 225.8,308.0 226.0,303.0 225.7,297.7 226.1,289.2 225.2,272.0 225.8,264.1 225.2,254.8 225.8,249.6 225.2,242.0 225.8,237.0 225.2,230.4 225.8,226.1 225.2,220.5 225.8,215.9ZM179.2,239.6 179.9,239.7 180.5,240.7 181.4,244.0 180.6,246.9 181.4,252.5 180.6,256.5 181.4,262.1 180.6,266.1 181.4,273.3 180.4,277.3 181.5,289.8 180.8,297.4 179.9,301.6 179.6,301.2 179.1,298.7 179.2,290.5 178.1,280.6 178.3,278.6 179.4,275.6 178.1,268.4 179.0,264.4 178.2,259.1 179.0,254.8 178.2,249.6 179.1,245.9 178.2,241.3 178.6,240.2ZM139.3,266.5 140.0,266.8 140.9,267.8 142.0,269.7 141.6,270.1 141.0,270.0 141.0,332.4 142.0,332.7 142.0,333.1 141.3,334.4 139.6,336.1 138.3,335.0 137.5,333.4 137.5,333.1 138.2,332.7 138.2,269.7 137.5,269.4 138.0,268.0ZM179.9,304.2 180.9,306.8 181.5,312.9 180.5,324.5 181.5,329.4 180.6,336.4 181.4,340.6 180.6,346.3 181.4,349.9 180.6,355.2 181.4,358.5 180.6,363.4 181.4,366.7 180.6,371.3 181.4,374.6 180.6,379.3 181.4,382.6 180.7,386.2 180.7,387.5 178.9,387.5 178.2,384.2 178.9,379.9 178.2,376.6 178.9,372.3 178.2,369.0 179.0,364.4 178.2,361.1 179.0,356.5 178.2,352.9 179.0,347.6 178.2,343.9 179.0,338.3 178.1,334.0 179.1,327.4 178.1,321.8 178.9,314.2 179.2,307.2ZM173.3,304.4 174.3,307.0 174.8,311.9 173.8,322.5 174.7,326.5 174.8,328.1 173.7,334.0 174.8,337.7 173.9,343.3 174.8,346.9 174.0,351.9 174.7,355.2 174.0,359.8 174.7,363.1 174.0,367.4 174.7,370.7 174.0,375.0 174.7,378.3 174.0,382.6 174.7,385.9 174.5,387.5 171.5,387.5 172.1,383.2 171.5,379.6 172.1,376.0 171.5,372.3 172.1,368.4 171.5,365.1 172.2,360.8 171.5,357.5 172.2,352.9 171.4,349.2 172.3,344.6 171.4,341.0 172.4,335.4 171.4,332.1 172.4,325.1 171.4,320.2 172.6,306.4ZM139.6,336.9 140.6,337.7 142.0,339.7 139.8,343.3 141.9,346.3 140.1,349.9 141.8,353.2 140.2,356.5 141.7,359.8 140.3,363.4 141.6,366.4 140.4,370.0 141.6,373.3 140.4,376.6 141.5,379.9 140.5,383.2 141.4,386.2 141.4,387.5 137.9,387.5 137.8,386.8 138.7,383.5 137.8,379.9 138.7,376.6 137.8,373.3 138.7,370.0 137.7,366.7 138.8,363.4 137.7,359.8 138.9,356.5 137.7,353.2 139.0,349.9 137.6,346.6 137.9,345.6 139.2,343.3 137.6,340.0 137.9,338.7Z"/>
<path fill="#1200cc" fill-rule="evenodd" d="M44.6,215.9 47.1,215.9 46.5,220.2 47.4,223.8 46.5,230.4 47.3,233.7 47.4,235.4 46.4,242.3 47.2,245.3 47.4,247.3 46.4,255.8 47.3,259.5 47.4,261.8 46.3,274.0 47.5,282.2 47.1,301.4 47.4,320.8 46.3,328.4 47.4,341.0 47.3,343.3 46.4,346.9 47.4,355.5 46.4,360.4 47.4,367.4 46.5,372.0 47.3,377.9 47.3,379.6 46.5,382.6 47.3,387.5 44.5,387.5 44.3,385.2 45.1,380.9 44.2,374.3 45.1,370.3 44.2,362.8 45.2,358.5 44.2,349.6 45.2,344.6 44.2,332.4 45.3,324.8 44.4,301.4 45.3,277.6 44.2,270.0 45.2,258.1 44.2,252.9 45.2,244.3 44.2,239.7 45.1,232.4 44.2,228.1 45.1,221.8 44.3,217.9ZM51.8,215.9 54.0,215.9 54.0,216.6 53.2,222.5 54.0,225.5 54.0,227.1 53.2,232.7 54.1,237.4 53.1,244.3 54.1,248.9 53.0,257.5 54.2,262.8 53.0,275.3 54.0,280.3 54.2,283.6 53.8,301.4 54.2,319.9 53.0,327.4 54.1,339.7 54.0,341.6 53.0,345.3 54.1,353.8 53.1,358.5 54.1,365.4 53.2,369.7 54.1,376.0 53.2,379.9 54.0,384.9 53.7,387.5 51.7,387.5 51.0,382.6 51.8,378.6 51.0,371.7 51.8,368.0 50.9,360.8 51.9,356.5 50.9,347.9 52.0,343.0 50.8,331.1 52.0,324.1 51.1,301.4 52.0,278.3 51.1,273.7 50.8,271.0 52.0,259.8 50.9,254.5 51.9,246.3 50.9,241.6 51.8,234.7 50.9,230.4 51.8,224.2 51.0,220.2 51.5,216.3ZM58.4,215.9 59.9,215.9 60.8,219.5 59.9,225.1 60.8,229.4 59.8,235.4 60.8,239.7 59.8,246.3 60.8,250.9 59.7,259.1 60.7,262.4 60.9,264.4 59.6,276.3 60.7,281.2 60.9,284.5 60.5,301.0 60.9,319.2 60.7,321.5 59.6,326.1 60.9,338.3 60.7,340.3 59.7,343.3 60.8,351.9 59.8,356.2 60.8,363.1 59.8,367.0 60.8,373.3 59.9,377.3 60.8,382.9 59.9,386.2 60.0,387.5 57.9,387.5 58.5,385.2 57.6,379.9 58.5,376.0 57.6,370.0 58.6,365.7 57.6,358.8 58.6,354.5 57.6,346.3 58.7,341.3 57.5,330.4 57.8,327.8 58.8,323.5 58.0,311.3 57.8,301.4 58.0,291.8 58.8,278.9 57.7,274.6 57.5,272.3 58.7,261.1 57.6,256.5 58.6,247.9 57.6,243.6 58.6,237.0 57.6,232.7 58.5,226.8 57.6,222.8 58.4,217.9ZM64.4,215.9 67.2,215.9 66.6,219.2 67.5,222.5 66.6,228.1 67.4,230.8 67.5,232.4 66.5,237.7 67.5,242.0 66.5,248.6 67.4,251.2 67.5,252.9 66.4,260.8 67.4,264.1 67.6,266.1 66.3,277.6 67.4,281.7 67.6,284.5 67.2,301.0 67.6,318.9 67.4,320.9 66.3,324.8 67.6,336.7 67.4,338.7 66.4,341.6 67.5,349.6 67.4,351.2 66.5,354.2 67.5,360.8 66.5,364.7 67.5,370.7 66.6,374.6 67.4,379.6 66.6,383.5 67.3,387.5 64.5,387.5 64.4,386.2 65.2,382.6 64.3,376.6 65.2,373.3 64.3,367.0 65.3,363.4 64.3,356.5 65.3,352.5 64.2,344.6 65.4,340.0 64.2,328.8 64.4,326.8 65.6,322.8 64.7,310.6 64.6,301.4 64.7,292.0 65.6,279.6 64.4,275.7 64.2,273.7 65.4,262.8 64.2,258.1 65.3,249.9 64.3,245.9 65.3,239.3 64.3,235.4 65.2,229.4 64.3,225.8 65.2,220.2 64.5,217.6ZM71.7,215.9 74.0,215.9 74.1,217.2 73.3,222.2 74.1,226.1 73.3,231.1 74.1,233.7 74.2,235.0 73.2,240.3 74.2,244.3 73.1,250.9 74.2,254.8 73.0,262.8 74.1,265.7 74.3,267.7 72.9,278.9 74.1,282.6 74.4,285.5 73.9,301.4 74.3,317.9 74.0,320.5 72.9,323.5 74.3,335.0 74.1,337.0 73.0,339.7 74.2,347.6 74.1,348.9 73.1,351.9 74.2,358.5 73.2,362.1 74.2,368.0 73.2,371.7 74.2,376.9 73.3,380.6 74.1,385.2 73.7,387.5 71.9,387.5 71.1,383.2 71.9,379.3 71.1,373.6 72.0,370.3 71.0,364.7 72.0,360.8 71.0,354.2 72.1,350.5 70.9,342.6 72.2,338.3 70.9,327.4 71.1,325.5 72.3,321.8 71.5,311.9 71.2,301.4 71.5,290.5 72.3,280.6 71.2,277.3 70.9,275.0 72.2,264.4 71.1,261.4 70.9,259.8 72.1,252.2 71.0,248.2 72.0,241.6 71.0,238.0 71.9,232.4 71.0,228.4 71.9,223.5 71.1,219.9ZM80.2,215.9 80.1,217.6 80.8,220.5 80.0,225.5 80.9,229.1 79.9,234.1 80.9,237.7 79.9,243.3 80.9,246.9 79.8,253.2 80.8,255.8 81.0,257.2 79.7,264.7 80.9,267.7 81.0,269.4 79.4,280.6 80.8,283.6 81.1,286.2 80.6,301.0 81.1,317.2 80.6,319.8 79.4,321.8 81.0,333.4 80.9,335.0 79.7,337.7 81.0,345.6 79.8,349.6 80.9,355.5 79.9,359.5 80.9,365.1 79.9,368.7 80.9,373.6 80.0,377.3 80.8,381.9 80.0,385.2 80.4,387.5 77.8,387.5 78.6,384.5 77.7,379.6 78.6,376.3 77.7,371.0 78.7,367.4 77.7,361.8 78.7,358.1 77.7,351.9 78.8,348.2 77.6,340.6 77.8,339.3 78.9,336.7 77.6,326.1 77.9,323.9 79.2,321.2 78.2,311.6 77.9,301.4 78.2,291.1 79.2,281.2 77.9,278.7 77.6,276.3 78.9,266.1 77.9,263.4 77.6,261.8 78.8,254.5 77.7,250.6 78.7,244.3 77.7,241.0 78.7,235.0 77.7,231.7 78.6,226.5 77.7,222.8 78.6,218.2 78.0,215.9ZM84.8,215.9 87.5,215.9 87.5,216.2 86.7,220.5 87.5,224.5 86.7,228.8 87.6,232.4 86.6,237.0 87.6,240.7 86.6,245.9 87.5,248.6 87.6,249.9 86.5,255.8 87.5,258.1 87.7,259.5 86.3,266.7 87.6,269.4 87.7,271.0 85.8,281.5 84.7,280.3 84.2,277.9 84.5,274.3 85.7,267.7 84.5,265.4 84.3,264.1 85.5,256.8 84.3,253.2 85.4,247.3 84.4,243.6 85.4,238.3 84.4,234.7 85.3,229.8 84.4,226.5 85.3,221.5 84.5,218.5ZM93.5,215.9 93.5,217.2 94.2,220.2 93.4,224.5 94.3,228.1 93.4,232.4 94.3,236.0 93.3,240.3 94.3,244.0 93.2,248.9 94.3,252.5 93.1,258.5 94.2,260.8 94.4,262.1 92.9,269.0 94.3,271.3 94.5,273.0 93.1,280.7 92.4,282.5 91.4,281.6 90.9,279.3 91.1,276.5 92.5,269.7 91.2,267.4 91.0,266.1 92.3,259.1 91.0,255.8 92.2,249.9 91.1,246.6 92.1,241.3 91.1,238.0 92.0,233.4 91.1,229.8 92.0,225.5 91.2,221.8 92.0,217.9 91.6,215.9ZM98.4,215.9 100.8,215.9 100.9,216.6 100.1,220.9 100.9,224.5 100.1,228.4 101.0,231.7 100.0,236.0 101.0,239.3 100.0,244.0 101.0,247.3 99.9,252.2 100.9,254.5 101.1,255.8 99.8,261.1 100.9,263.4 101.1,264.7 99.4,271.5 98.0,270.1 97.6,268.4 99.0,262.1 97.9,259.8 97.7,258.5 98.9,253.2 97.8,249.9 98.8,244.9 97.8,241.6 98.8,236.7 97.8,233.7 98.7,229.1 97.9,225.8 98.7,221.8 97.9,218.5ZM104.6,215.9 107.3,215.9 106.8,218.2 107.6,221.2 106.8,225.1 107.6,228.8 106.8,232.7 107.7,236.0 106.7,240.0 107.7,243.3 106.7,247.6 107.7,251.2 106.6,255.8 107.6,257.9 107.8,259.1 106.4,264.1 107.6,266.3 107.8,267.4 107.3,270.2 106.0,273.5 104.7,272.3 104.3,271.0 105.8,264.7 104.4,261.8 105.6,256.5 104.4,253.2 105.5,248.2 104.5,245.3 105.5,240.7 104.5,237.7 105.4,233.1 104.5,230.1 105.4,225.8 104.6,222.8 105.4,218.5ZM113.6,215.9 114.3,219.2 113.6,222.8 114.3,226.5 113.5,229.8 114.3,233.4 113.5,237.0 114.4,240.3 113.4,244.3 114.4,247.6 113.4,251.5 114.4,254.8 113.3,259.5 114.5,262.4 113.0,267.4 114.3,269.4 114.6,270.7 113.6,274.3 112.6,276.0 111.3,275.0 111.0,273.7 112.6,268.0 111.2,265.8 111.1,264.7 112.4,259.8 111.1,256.8 112.2,252.2 111.2,248.9 112.2,244.9 111.2,241.6 112.1,237.7 111.2,234.4 112.1,230.4 111.3,227.5 112.1,223.5 111.3,219.9 112.0,215.9ZM118.5,215.9 120.7,215.9 121.0,217.6 120.3,221.2 121.0,224.5 120.2,228.1 121.0,231.4 120.2,234.7 121.0,238.3 120.2,242.0 121.1,245.3 120.1,248.9 121.1,252.2 120.0,256.2 121.2,259.1 119.9,263.4 121.0,265.4 121.2,266.7 119.6,271.3 121.2,273.3 120.7,274.0 120.7,328.8 121.1,329.4 119.6,331.4 121.2,336.0 119.9,339.3 121.2,343.3 120.0,346.6 121.1,350.5 120.1,353.8 121.1,357.5 120.2,360.8 121.0,364.4 120.2,367.7 121.0,371.3 120.2,374.6 121.0,378.3 120.3,381.2 121.0,384.9 120.4,387.5 118.7,387.5 118.0,384.5 118.7,381.2 118.0,377.3 118.8,374.3 118.0,370.3 118.8,367.4 118.0,363.4 118.8,360.4 117.9,356.5 118.9,353.2 117.9,349.2 119.0,346.3 117.8,342.0 119.1,338.7 117.8,334.0 118.2,332.8 119.4,331.4 118.0,327.4 118.3,327.1 118.3,275.3 118.0,275.0 119.4,271.3 118.1,269.7 117.8,268.4 119.1,263.8 117.8,260.8 119.0,256.5 117.9,253.2 118.9,249.2 117.9,246.3 118.8,242.3 118.0,239.0 118.8,235.4 118.0,232.1 118.8,228.4 118.0,225.1 118.7,221.5 118.0,218.2ZM124.8,216.1 127.6,215.9 127.7,216.2 127.0,219.9 127.7,223.5 127.0,226.8 127.7,230.1 126.9,233.4 127.7,236.7 126.9,240.3 127.8,243.6 126.9,246.9 127.8,250.2 126.8,253.9 127.8,257.2 126.7,260.8 127.9,264.1 126.6,268.0 127.8,270.4 127.4,271.0 127.4,331.7 127.9,332.1 126.6,334.7 127.9,338.7 126.7,341.6 127.8,345.3 126.8,348.6 127.8,352.2 126.9,355.5 127.8,359.1 126.9,362.4 127.7,365.7 126.9,369.0 127.7,372.7 127.0,376.0 127.7,379.3 127.0,382.6 127.6,385.5 127.5,387.5 125.0,387.5 124.7,385.9 125.4,382.6 124.7,378.6 125.4,375.6 124.7,372.0 125.5,369.0 124.7,365.4 125.5,362.1 124.6,358.5 125.5,355.2 124.6,351.5 125.6,348.2 124.6,344.6 125.7,341.3 124.5,337.3 125.8,334.4 124.6,331.1 125.0,330.7 125.0,272.0 124.6,271.7 125.8,268.0 124.7,266.1 124.5,265.1 125.7,261.1 124.6,258.1 125.6,254.2 124.6,251.2 125.5,247.3 124.6,244.3 125.5,240.7 124.7,237.4 125.5,233.7 124.7,230.4 125.4,226.8 124.7,223.8 125.4,220.2 124.8,217.6ZM134.4,215.9 133.7,219.2 134.4,222.8 133.6,226.1 134.4,229.4 133.6,232.7 134.5,236.0 133.6,239.3 134.5,242.6 133.6,246.3 134.5,249.6 133.5,252.9 134.5,256.2 133.5,259.5 134.6,262.8 133.4,266.4 134.6,269.4 134.1,269.7 134.1,332.7 134.6,333.1 133.4,336.4 134.5,339.7 133.5,343.0 134.5,346.6 133.5,349.9 134.5,353.2 133.6,356.5 134.5,359.8 133.6,363.1 134.5,366.4 133.6,370.0 134.4,373.3 133.6,376.6 134.4,379.9 133.7,383.2 134.4,386.2 134.3,387.5 131.5,387.5 131.4,386.5 132.1,383.2 131.4,379.6 132.1,376.6 131.4,373.0 132.2,369.7 131.4,366.4 132.2,363.1 131.4,359.5 132.2,356.5 131.3,352.9 132.3,349.6 131.3,345.9 132.3,343.0 131.3,339.3 132.4,336.0 131.2,332.7 131.7,332.4 131.7,270.0 131.3,269.7 132.4,266.4 131.3,263.4 132.3,259.8 131.3,256.5 132.3,252.9 131.3,249.9 132.2,246.3 131.3,243.0 132.2,239.7 131.4,236.4 132.2,232.7 131.4,229.5 132.1,226.1 131.4,222.8 132.1,219.5 131.5,216.6 131.4,215.9ZM141.3,215.9 140.1,219.2 141.3,222.8 140.1,225.8 141.3,229.4 140.0,232.7 141.4,236.0 139.8,239.3 141.3,242.0 141.4,243.0 139.6,245.9 138.3,244.1 137.9,242.6 139.3,239.3 138.0,236.0 139.1,232.7 138.0,229.4 139.1,225.8 138.0,222.8 139.0,219.2 138.1,216.6 138.0,215.9ZM144.6,215.9 148.0,215.9 147.9,217.2 146.6,219.1 146.2,219.3 145.2,218.0ZM151.5,215.9 154.3,215.9 154.7,217.6 154.5,218.5 153.2,220.5 154.5,223.2 154.7,224.5 153.3,227.5 154.6,231.1 153.5,234.4 154.6,238.0 153.6,241.3 154.5,244.9 153.7,248.2 154.5,251.9 153.7,255.2 154.5,259.5 153.7,262.4 154.5,266.7 153.7,269.7 154.5,274.0 154.2,275.6 154.2,317.5 154.2,327.1 154.5,328.4 153.7,332.7 154.5,336.0 153.7,340.0 154.5,343.6 153.7,347.2 154.5,350.5 153.7,354.5 154.5,357.5 153.6,361.4 154.6,364.4 153.5,368.4 154.6,371.3 153.3,375.3 154.7,378.3 154.5,379.4 153.2,381.9 154.5,384.1 154.7,385.2 153.9,387.5 151.9,387.5 151.2,385.9 151.5,384.6 152.8,382.2 151.4,379.9 151.2,378.9 152.7,375.3 151.2,372.3 152.6,368.4 151.3,365.4 152.5,361.8 151.3,358.5 152.4,354.8 151.4,351.5 152.3,347.9 151.4,344.6 152.3,341.0 151.5,337.3 152.3,333.4 151.5,330.1 151.8,328.8 151.8,274.0 151.5,272.3 152.3,269.0 151.5,265.1 152.3,261.8 151.4,258.1 152.3,254.8 151.4,250.9 152.4,247.9 151.3,244.3 152.5,241.0 151.3,237.4 152.6,234.1 151.2,230.4 151.5,229.4 152.7,227.5 151.2,223.5 152.8,220.5 151.3,217.6ZM158.9,215.9 160.4,215.9 161.2,218.9 160.4,222.2 161.2,225.8 160.4,229.4 161.2,233.1 160.4,236.4 161.1,240.0 160.5,243.6 161.1,247.6 160.4,250.9 161.2,254.8 160.4,258.1 161.2,262.4 160.4,265.7 161.2,270.7 160.2,274.0 161.2,279.6 160.8,281.9 160.8,303.0 160.8,320.8 161.2,323.2 160.3,328.4 161.2,332.1 160.3,336.7 161.2,340.0 160.4,344.6 161.1,347.6 160.4,351.9 161.1,354.8 160.5,359.1 161.1,362.8 160.5,366.4 161.2,369.7 160.4,373.3 161.2,376.6 160.4,380.2 161.2,383.5 160.3,387.5 159.1,387.5 158.1,384.5 159.1,380.6 158.2,377.6 159.0,373.6 158.2,370.7 159.0,366.7 158.2,363.4 158.9,359.8 158.2,356.5 158.9,352.5 158.2,348.9 159.0,345.3 158.2,341.6 159.0,337.3 158.2,334.0 159.1,329.4 158.2,326.1 158.6,323.5 158.6,303.0 158.6,279.3 158.2,276.6 159.1,273.3 158.2,268.7 159.0,265.1 158.2,260.8 159.0,257.5 158.2,253.5 158.9,250.2 158.2,245.9 158.9,243.0 158.2,239.0 159.0,235.7 158.2,232.1 159.0,228.8 158.2,225.1 159.1,221.8 158.1,218.2ZM165.7,215.9 167.4,215.9 167.1,217.6 167.8,221.2 167.1,224.5 167.8,228.1 167.1,231.7 167.8,236.0 167.1,239.0 167.8,243.3 167.0,246.6 167.8,250.9 167.0,254.2 167.8,258.8 166.7,262.1 167.8,267.4 167.6,268.7 166.5,270.7 167.8,276.6 167.7,278.3 166.7,280.9 167.8,289.8 167.3,295.1 167.2,303.0 167.3,307.3 167.8,312.3 167.5,316.2 166.4,321.7 165.4,320.3 165.0,318.2 165.4,313.9 165.5,303.0 165.5,289.5 164.9,284.2 165.2,282.6 166.1,280.3 165.0,274.0 165.1,272.7 166.2,270.4 165.0,265.1 166.0,261.8 165.0,256.8 165.8,253.5 165.0,249.2 165.7,245.9 165.0,241.6 165.7,238.7 165.0,234.4 165.7,231.1 165.0,227.5 165.7,223.8 165.0,220.2 165.7,217.2ZM172.0,215.9 174.3,215.9 174.4,216.6 173.6,219.9 174.4,224.5 173.6,227.5 174.4,231.7 173.4,234.7 174.4,239.0 173.5,242.6 174.4,246.9 173.5,250.6 174.4,255.5 174.2,256.8 173.3,258.0 172.3,256.3 171.7,253.5 172.7,249.9 171.7,245.6 172.6,242.0 171.8,237.7 172.6,234.4 171.8,230.4 172.6,226.8 171.8,223.2 172.6,219.5ZM179.6,215.9 180.0,215.9 180.2,216.5 181.0,219.5 180.9,220.9 179.9,223.0 178.5,218.9 178.8,217.2ZM185.5,215.9 187.7,215.9 187.5,217.2 186.8,218.4 186.5,218.5 186.2,217.9ZM193.2,215.9 193.4,216.2 194.4,219.5 194.3,221.2 193.4,222.8 192.8,221.9 192.0,219.2 192.1,217.6ZM201.0,215.9 200.9,217.9 200.0,219.6 199.0,217.1 198.8,215.9ZM207.1,215.9 206.6,216.5 206.4,215.9ZM212.2,216.0 213.9,215.9 214.4,217.9 214.3,220.5 213.5,222.3 213.2,222.4 212.2,218.3ZM219.2,215.9 221.2,215.9 221.0,217.6 220.1,219.8ZM226.4,215.9 227.4,215.9 226.8,217.6 227.9,223.5 227.7,224.8 226.8,227.5 227.7,232.4 227.8,234.7 226.8,238.3 227.7,244.0 227.9,246.6 227.4,249.0 226.7,250.4 225.5,242.6 225.8,240.4 226.7,238.3 225.5,231.4 225.8,229.3 226.6,227.1 225.6,221.2 225.8,219.2 226.6,217.2ZM206.6,217.1 207.8,222.2 207.5,223.8 206.6,225.2 205.4,220.2 205.6,218.7ZM186.5,219.6 186.8,220.2 187.7,223.5 187.5,225.1 186.5,226.3 185.3,222.5 185.5,221.0ZM146.2,219.9 146.9,220.5 148.1,223.2 147.5,224.7 146.2,225.8 144.9,224.2 144.5,222.8 144.9,221.5ZM219.8,220.0 220.1,220.3 221.2,225.8 220.9,227.8 220.1,229.5 219.5,227.7 218.8,223.8 219.0,222.2ZM199.7,220.5 200.0,220.6 200.3,221.6 201.1,225.1 200.8,226.8 200.0,228.1 199.4,226.7 198.7,223.5 199.0,221.8ZM213.2,222.9 214.5,228.4 214.2,230.4 213.5,231.8 213.2,231.8 212.9,230.6 212.1,226.5 212.3,224.8ZM179.6,223.3 179.9,223.2 180.2,224.1 181.0,227.5 180.8,228.8 179.9,229.7 179.2,229.0 178.5,226.5 178.7,225.1ZM193.1,224.0 193.7,225.2 194.4,228.1 194.2,229.8 193.4,231.1 192.8,230.2 192.0,226.8 192.3,225.1ZM206.6,226.0 207.8,231.4 207.5,233.1 206.6,234.4 205.4,229.1 205.7,227.5ZM146.2,226.8 146.9,227.3 148.1,229.8 147.6,231.4 146.2,232.5 145.2,231.4 144.5,229.8 144.8,228.4ZM186.5,227.6 186.8,228.1 187.7,231.4 187.5,233.1 186.8,234.3 186.2,233.6 185.3,230.8 185.4,229.1ZM199.7,229.2 200.3,230.3 201.1,234.1 200.9,235.7 200.0,237.1 199.4,235.6 198.7,232.4 198.9,230.8ZM219.8,230.0 220.5,231.7 221.2,236.0 221.0,238.0 220.1,240.0 219.5,238.1 218.8,233.7 219.1,231.7ZM179.2,232.4 179.9,232.4 180.6,234.1 180.8,235.4 180.2,236.3 179.6,236.1 178.8,234.7 178.7,233.4ZM193.1,232.4 193.4,232.8 194.4,236.7 194.3,238.3 193.4,239.9 192.8,238.9 192.0,235.7 192.1,234.1ZM213.2,232.6 214.5,238.3 214.3,240.3 213.5,242.0 213.2,242.0 212.9,240.8 212.1,236.4 212.3,234.4ZM146.2,233.7 147.5,235.0 148.2,236.7 147.5,238.2 146.2,239.2 144.9,237.7 144.4,236.4 144.9,234.9ZM206.6,235.5 206.9,236.4 207.8,241.0 207.5,243.0 206.6,244.3 205.4,238.7 205.6,236.9ZM186.5,236.2 187.1,237.3 187.7,240.3 187.4,242.0 186.5,242.8 185.4,238.3 185.8,236.8ZM199.7,238.4 200.3,239.5 201.1,243.6 200.8,245.6 200.0,246.7 199.4,245.1 198.7,241.6 198.9,239.7ZM146.2,240.5 146.9,240.9 148.1,243.3 147.9,244.5 146.6,245.9 145.6,245.3 144.4,243.3 144.6,242.1ZM179.2,240.7 180.2,241.3 180.9,243.0 180.7,244.6 179.9,245.5 178.7,242.6 178.8,241.3ZM219.8,240.8 220.5,242.7 221.2,247.6 221.0,249.9 220.1,251.9 219.5,249.7 218.8,244.9 219.1,242.6ZM193.1,241.3 193.4,241.7 194.4,245.9 194.2,247.9 193.4,249.2 192.8,248.1 192.0,244.6 192.1,242.9ZM213.2,243.2 214.5,249.6 214.3,251.9 213.5,253.6 213.2,253.4 212.9,252.1 212.1,246.9 212.3,244.9ZM186.2,244.5 186.5,244.5 186.8,245.0 187.7,248.6 187.6,250.6 186.8,251.8 186.2,251.1 185.3,247.6 185.4,245.9ZM206.3,245.8 206.6,245.7 206.9,246.7 207.8,251.9 207.6,253.9 206.9,255.4 206.6,255.4 205.4,249.2 205.6,247.3ZM139.6,246.1 141.3,248.6 141.5,249.6 140.9,250.8 139.6,252.2 138.3,250.8 137.9,249.2 138.3,247.8ZM145.9,247.4 146.9,247.7 148.1,249.9 147.9,251.3 146.6,252.7 145.6,252.1 144.3,249.9 144.5,248.9ZM179.6,247.5 180.2,248.3 181.1,251.9 180.9,253.6 179.9,255.0 178.9,252.5 178.5,250.2 178.8,248.6ZM199.7,248.2 200.3,249.5 201.1,253.9 201.0,255.8 200.0,257.4 199.4,255.6 198.7,251.5 198.9,249.6ZM193.1,250.9 193.7,252.4 194.4,256.2 194.2,258.1 193.4,259.5 192.8,258.2 192.0,253.9 192.2,252.2ZM226.7,251.2 227.9,260.5 227.6,263.4 226.7,265.4 225.5,255.5 225.8,253.2ZM219.8,253.1 220.5,255.3 221.2,261.4 220.9,264.4 220.1,266.5 219.5,263.6 218.8,257.5 219.1,254.8ZM139.3,253.3 140.0,253.4 140.6,254.2 141.6,256.2 141.0,257.5 139.6,258.7 138.6,258.0 137.8,256.2 138.1,254.8ZM186.2,253.7 186.5,253.7 186.8,254.3 187.7,258.5 187.6,260.5 186.8,261.7 186.2,260.9 185.3,256.8 185.4,254.8ZM146.2,254.0 146.9,254.4 148.0,256.8 147.6,258.5 146.6,259.7 145.2,258.4 144.3,256.5 144.6,255.6ZM213.2,255.1 213.9,257.7 214.5,263.1 214.2,266.1 213.5,267.7 212.9,265.7 212.1,259.1 212.3,256.8ZM179.6,256.2 179.9,256.4 180.5,258.3 181.1,261.4 180.9,263.1 179.9,264.4 179.2,262.8 178.5,259.1 178.7,257.5ZM206.3,257.3 206.6,257.3 206.9,258.4 207.8,264.1 207.6,267.1 206.9,268.9 206.6,268.9 206.3,267.7 205.4,261.4 205.6,258.8ZM173.0,259.4 173.9,261.6 174.4,264.1 174.3,265.7 173.3,267.5 173.0,267.4 172.6,266.2 171.8,262.1 172.0,260.6ZM199.7,259.3 200.3,260.9 201.1,266.4 200.9,269.0 200.3,270.2 200.0,270.3 199.4,268.0 198.7,263.1 198.9,260.8ZM139.0,260.4 140.0,260.3 141.7,262.8 141.2,264.1 139.6,265.2 138.6,264.6 137.8,263.1 138.0,261.8ZM146.2,260.6 147.2,261.7 147.9,264.1 146.7,267.1 147.9,271.0 147.5,272.0 147.5,330.7 147.9,331.7 146.7,335.4 148.0,338.7 147.2,340.9 146.2,341.9 144.9,340.6 144.3,339.3 146.1,335.7 144.5,332.7 144.5,332.1 145.1,331.4 145.1,271.0 144.6,270.7 144.5,270.0 146.1,267.1 144.3,263.1 144.8,262.1ZM193.1,261.6 193.4,262.2 194.4,267.7 194.2,270.4 193.4,271.4 192.8,270.1 192.0,265.4 192.1,263.1ZM186.2,263.9 186.8,264.7 187.8,269.7 187.5,272.0 186.8,272.7 185.8,270.8 185.3,267.4 185.4,265.4ZM179.6,266.0 180.2,267.2 181.0,271.3 180.9,273.6 180.2,274.4 179.2,272.8 178.5,269.4 178.7,267.4ZM139.3,267.0 140.0,267.1 140.9,268.0 141.8,269.7 141.6,270.1 141.3,269.8 140.8,270.0 140.8,332.4 141.8,332.7 141.8,333.1 141.1,334.4 139.6,335.6 138.3,334.7 137.7,333.4 137.7,333.1 138.4,332.7 138.4,270.0 138.3,269.6 137.7,269.4 138.2,268.0ZM226.4,267.1 226.7,267.1 227.1,269.4 227.8,278.9 227.8,284.5 227.1,287.2 226.1,283.6 225.6,274.3 225.7,270.0ZM173.0,268.2 174.4,274.0 174.3,275.6 173.6,276.7 173.3,276.7 172.6,275.3 171.8,271.7 172.0,269.8ZM219.8,268.4 220.3,270.0 221.2,279.6 221.1,284.4 220.5,287.5 220.1,287.2 219.5,284.4 218.9,276.6 219.0,271.0ZM213.2,270.0 214.5,280.9 214.4,284.9 213.9,287.8 213.5,287.8 212.9,285.3 212.2,277.9 212.3,273.3 212.9,270.3ZM99.4,271.8 100.7,273.0 101.2,275.0 100.0,281.1 99.0,283.6 97.9,282.6 97.6,280.6 98.0,276.9ZM206.3,272.7 207.3,276.4 207.8,281.6 207.6,286.5 207.3,288.1 206.9,288.4 206.0,284.3 205.5,278.6 205.6,274.3ZM106.3,274.4 107.6,275.6 107.9,277.3 106.6,283.1 105.6,285.0 105.0,284.7 104.4,283.9 104.2,281.9 105.3,276.7ZM199.4,274.4 199.7,274.4 200.3,276.2 201.0,281.0 201.0,286.5 200.3,289.1 199.4,285.4 198.7,279.3 198.7,276.3ZM192.4,275.9 193.1,275.8 193.4,276.5 194.2,281.2 194.4,286.2 193.7,290.0 192.8,286.5 192.1,281.7 192.0,277.9ZM186.2,276.9 187.1,278.9 187.7,284.2 187.5,289.6 187.1,291.1 186.8,291.1 185.2,280.6 185.4,277.9ZM112.9,277.2 113.6,277.4 114.3,278.3 114.0,278.9 114.0,323.8 114.3,324.5 113.2,325.4 112.6,325.0 111.4,321.5 111.4,281.2ZM179.2,278.4 179.9,278.6 180.2,279.6 181.0,284.9 180.9,289.8 180.2,293.0 178.5,282.2 178.6,279.7ZM172.6,279.8 173.3,280.3 173.6,281.6 174.3,286.9 174.3,291.1 173.6,294.2 173.3,294.1 171.7,283.6 171.9,281.2ZM86.2,282.7 87.4,284.2 87.8,286.5 87.3,301.4 87.8,315.2 87.5,318.2 86.2,319.9 85.0,312.3 84.6,301.4 85.1,290.2ZM92.8,284.5 93.4,284.4 94.1,285.2 94.6,287.8 94.0,301.4 94.6,315.2 94.1,317.4 93.1,318.4 92.6,317.5 92.0,314.2 91.3,304.0 91.7,292.1ZM99.7,285.8 100.4,285.9 101.0,286.9 101.3,288.8 100.7,301.4 101.3,314.2 101.0,315.7 100.0,316.8 99.4,316.3 98.7,312.9 98.0,302.4 98.4,292.6 99.0,287.7ZM106.3,287.5 107.0,287.3 107.4,288.2 107.4,314.6 107.3,315.1 106.6,315.3 106.0,314.6 105.6,313.0 104.9,307.0 104.9,295.4 105.6,289.8ZM173.3,308.5 173.6,308.5 173.9,309.0 174.2,310.3 174.4,314.2 173.3,321.8 173.0,322.7 172.6,322.7 172.0,321.6 171.8,319.5ZM180.2,308.8 180.9,311.3 181.0,315.6 180.2,323.0 179.6,324.9 178.6,323.2 178.5,320.8 179.6,310.6ZM186.8,309.6 187.6,312.3 187.7,316.9 187.1,323.2 186.5,326.0 186.2,326.2 185.5,325.1 185.2,322.5 186.3,312.3ZM220.1,309.6 220.6,312.3 221.2,322.5 220.8,327.9 219.8,332.3 219.5,332.3 219.1,331.4 218.8,327.4 219.2,322.1 220.0,316.2 219.9,312.3ZM226.7,309.3 227.3,312.3 227.9,322.5 227.5,328.4 226.4,334.6 225.8,332.2 225.6,328.1 225.9,322.2 226.8,315.9ZM193.4,309.8 194.2,312.3 194.3,318.9 193.7,325.3 193.3,327.4 192.8,327.7 192.1,326.1 192.0,323.2ZM213.5,309.8 214.0,312.6 214.4,322.5 213.9,328.6 213.2,330.9 212.9,331.1 212.2,329.5 212.1,326.8ZM200.0,310.2 200.3,310.2 200.8,312.3 201.0,319.9 200.3,327.3 199.7,328.9 198.9,327.8 198.7,324.8ZM206.9,310.1 207.4,312.6 207.7,322.2 207.2,327.4 206.3,330.0 205.6,328.8 205.4,325.8 206.4,315.9 206.6,310.6ZM105.3,317.7 106.0,317.9 106.3,318.5 107.9,325.5 107.6,327.0 106.3,328.2 105.3,325.9 104.2,320.8 104.4,318.9ZM98.7,319.0 99.4,319.3 99.7,320.2 101.2,327.4 100.8,329.4 99.4,330.8 97.6,322.5 97.7,320.4ZM92.4,320.1 93.1,321.9 94.5,329.8 94.2,331.4 92.9,333.4 94.4,340.6 94.2,342.0 93.1,344.3 94.3,350.2 93.2,353.5 94.3,358.8 93.3,362.1 94.3,367.0 93.4,370.3 94.3,374.6 93.4,378.3 94.2,382.2 93.5,385.5 93.7,387.5 91.3,387.5 92.0,385.2 91.2,380.6 92.0,377.3 91.1,372.7 92.0,369.4 91.1,364.4 92.1,361.1 91.1,356.2 92.2,352.5 91.0,346.9 91.3,345.6 92.3,343.3 91.0,336.4 91.2,335.0 92.5,333.1 91.1,326.1 90.9,323.2 91.4,321.0ZM85.8,321.1 87.7,331.7 87.5,333.4 86.3,335.7 87.7,343.3 86.5,346.9 87.6,352.9 86.6,356.5 87.6,361.8 86.6,365.4 87.6,370.3 86.7,374.0 87.6,378.3 86.7,381.9 87.5,385.9 87.4,387.5 85.0,387.5 84.5,384.5 85.3,380.9 84.5,376.0 85.3,373.0 84.4,367.7 85.4,364.4 84.4,359.1 85.5,355.5 84.3,349.6 85.5,345.9 84.3,338.3 85.7,334.7 84.5,328.3 84.2,324.8 84.7,322.5ZM166.4,321.9 167.5,323.8 167.8,325.8 167.0,329.8 166.4,331.4 166.0,331.4 165.2,330.1 165.0,328.4ZM173.3,325.0 174.2,326.5 174.4,328.4 173.6,332.0 173.0,333.3 172.6,333.3 171.9,332.4 171.8,330.7 172.6,326.6ZM112.2,326.7 112.9,326.8 113.2,327.5 114.6,332.1 114.2,333.4 113.0,335.0 114.5,340.0 114.4,341.0 113.3,343.3 114.4,347.6 113.3,350.9 114.4,355.2 113.4,358.1 114.4,362.4 113.5,365.4 114.4,369.4 113.5,372.7 114.3,376.6 113.6,379.6 114.3,383.5 113.6,386.2 113.7,387.5 111.8,387.5 112.0,386.2 111.3,382.6 112.1,379.3 111.3,375.3 112.1,372.3 111.2,368.0 112.1,365.1 111.2,360.8 112.2,357.8 111.2,353.5 112.2,350.2 111.1,345.9 112.4,342.6 111.1,337.7 111.3,336.7 112.6,334.7 111.2,330.6 111.0,328.8 111.3,327.8ZM180.2,327.4 180.9,328.7 181.0,330.7 180.2,335.0 179.6,336.6 178.7,335.0 178.5,333.4 179.6,328.4 179.9,327.5ZM106.0,329.1 106.3,329.5 107.8,335.0 107.6,336.3 106.4,338.3 107.8,343.6 106.6,346.9 107.7,351.5 106.7,354.8 107.7,359.1 106.7,362.4 107.7,366.7 106.8,370.0 107.7,374.0 106.8,377.3 107.6,381.0 106.8,384.5 107.5,387.5 104.6,387.5 105.4,383.9 104.6,379.9 105.4,376.6 104.5,372.7 105.4,369.4 104.5,365.1 105.5,361.8 104.5,357.5 105.5,354.2 104.5,349.2 105.6,346.3 104.4,341.0 104.6,339.8 105.8,338.0 104.3,331.7 104.6,330.3ZM186.8,329.8 187.5,330.7 187.7,333.1 186.8,337.9 186.2,338.7 185.5,337.7 185.2,335.7 185.8,332.3ZM99.4,331.1 99.7,332.1 101.1,338.0 100.9,339.3 99.8,341.3 101.1,346.9 99.9,350.2 101.0,355.2 100.0,358.5 101.0,363.1 100.1,366.4 101.0,371.0 100.1,374.3 100.9,378.3 100.1,381.6 100.9,385.2 100.5,387.5 98.5,387.5 97.9,384.5 98.7,380.9 97.9,376.6 98.7,373.6 97.8,368.7 98.8,365.7 97.8,361.1 98.8,357.8 97.8,352.9 98.9,349.6 97.7,343.9 99.0,340.6 97.6,334.0 98.0,332.5ZM193.4,331.8 194.1,332.4 194.4,334.9 193.7,339.2 193.1,341.0 192.1,339.7 192.0,337.7 192.4,334.4ZM166.4,332.7 167.3,333.6 167.8,335.4 166.9,340.3 167.8,343.6 166.9,348.2 167.8,351.5 167.0,356.2 167.8,359.5 167.1,363.4 167.8,366.7 167.1,371.0 167.8,374.0 167.1,377.9 167.8,381.2 167.0,385.2 167.7,387.5 165.3,387.5 165.7,385.5 165.0,382.6 165.7,378.6 165.0,375.3 165.7,371.7 165.0,368.0 165.7,364.1 165.0,360.8 165.7,356.8 165.0,353.2 165.9,348.9 165.0,345.6 165.9,341.0 165.0,337.3 165.4,335.2ZM200.0,333.3 200.3,333.2 200.9,334.0 201.1,336.4 200.3,341.7 199.7,343.3 198.9,342.0 198.7,339.7 199.2,335.7ZM206.9,334.3 207.7,335.7 207.8,338.7 206.9,344.2 206.6,345.3 206.3,345.3 205.5,343.6 205.4,341.0 206.2,335.7ZM213.5,335.2 214.2,336.5 214.5,339.7 213.9,344.9 213.2,347.5 212.3,345.6 212.1,343.3 212.9,336.9 213.2,335.5ZM173.3,335.8 174.3,337.0 174.4,338.7 173.9,341.3 173.0,343.5 172.0,342.1 171.7,340.6 172.3,337.6ZM220.1,336.1 221.0,338.3 221.2,341.3 220.5,347.3 219.8,349.5 219.0,347.6 218.8,344.9 219.5,339.0ZM226.7,337.2 227.6,339.3 227.9,342.3 226.7,351.5 225.8,349.4 225.5,346.9ZM139.0,337.6 139.6,337.4 140.3,337.7 141.3,338.7 141.7,339.7 141.3,340.8 139.6,342.5 138.6,341.9 137.8,340.3 138.0,339.0ZM179.9,338.2 180.9,339.5 181.1,341.3 180.5,344.3 179.9,346.1 179.6,346.2 178.7,344.9 178.5,343.3 179.2,339.7ZM186.8,340.9 187.6,342.3 187.7,344.3 186.8,348.3 186.2,348.9 185.4,347.6 185.3,345.9 186.2,341.7ZM146.2,342.9 146.9,343.1 147.5,344.0 148.0,345.6 147.2,347.7 146.2,348.6 144.9,347.5 144.3,346.3 144.5,345.3ZM193.4,343.1 194.2,344.3 194.4,346.3 193.7,350.2 193.1,351.7 192.2,350.5 192.0,348.6 192.8,344.4ZM139.6,343.9 141.1,345.3 141.6,346.6 140.9,348.0 139.6,349.4 138.3,348.1 137.8,346.6 138.4,344.9ZM173.0,344.9 173.3,344.7 173.9,345.4 174.4,347.2 173.5,352.2 174.4,355.5 173.5,360.1 174.4,363.4 173.5,367.7 174.4,371.0 173.6,375.3 174.4,378.3 173.6,382.6 174.4,385.5 174.2,387.5 171.8,387.5 171.8,387.2 172.6,383.2 171.8,379.6 172.6,375.6 171.8,372.3 172.6,368.4 171.8,364.7 172.6,360.4 171.7,357.1 172.7,352.5 171.7,349.2ZM200.0,345.2 200.9,346.6 201.1,348.6 200.3,353.1 199.7,354.4 199.0,353.2 198.7,351.2 199.4,347.0ZM206.6,347.2 206.9,347.2 207.6,348.6 207.8,350.5 206.6,356.8 206.3,356.8 205.6,355.5 205.4,353.8 205.6,351.3ZM179.9,347.6 180.9,349.1 181.1,350.5 180.2,354.3 179.6,355.3 178.7,353.8 178.5,352.2 179.2,349.0ZM213.2,349.2 213.5,349.0 214.2,350.4 214.5,352.5 214.2,355.5 213.2,359.4 212.4,357.8 212.1,355.8ZM145.9,350.2 146.9,350.1 147.9,351.4 148.1,352.2 147.5,354.0 146.2,355.3 144.9,354.2 144.3,352.9 144.8,351.5ZM139.6,350.4 140.6,351.4 141.5,353.2 141.0,354.5 139.6,356.4 138.6,355.3 137.9,353.5 138.1,352.2ZM186.8,350.8 187.5,351.9 187.7,353.5 187.1,356.6 186.5,358.1 185.5,357.1 185.3,355.5 186.2,351.5ZM220.1,350.7 220.9,352.5 221.2,354.8 220.5,359.9 219.8,361.7 219.1,360.1 218.8,357.8 219.5,352.9ZM226.7,352.2 227.4,353.6 227.9,356.2 226.8,364.4 227.8,368.0 226.8,375.3 227.8,378.6 227.7,380.7 226.8,385.2 227.7,387.5 226.2,387.5 226.6,385.5 225.8,383.4 225.5,381.9 226.6,375.3 225.8,373.3 225.6,370.7 226.7,364.4 225.8,362.2 225.5,359.8ZM193.4,353.4 194.1,354.5 194.4,356.5 193.7,359.9 193.1,361.3 192.2,360.1 192.0,358.5 192.8,354.5ZM200.0,355.9 200.8,357.1 201.1,359.1 200.3,363.1 199.7,364.2 198.9,362.8 198.7,361.1 199.4,357.5ZM179.9,356.2 180.9,357.8 181.1,359.1 180.2,362.7 179.9,363.5 179.6,363.6 178.7,362.1 178.5,360.8 178.9,358.6ZM139.6,356.8 140.9,358.5 141.5,359.8 139.8,363.4 141.4,366.4 140.0,370.0 141.3,373.3 140.1,376.6 141.3,379.9 140.1,383.5 141.3,386.8 141.1,387.5 138.1,387.5 138.2,385.9 139.0,383.5 138.0,379.9 139.1,376.6 138.0,373.3 139.2,370.0 137.9,366.7 139.3,363.4 138.2,361.1 137.9,359.8 138.6,357.9ZM146.2,356.7 147.5,357.6 148.1,359.1 147.5,360.8 146.2,362.1 145.0,361.1 144.4,359.8 144.7,358.5ZM206.6,358.3 207.5,359.5 207.8,361.4 206.6,367.1 205.7,365.7 205.4,364.1ZM186.5,359.8 186.8,359.8 187.4,360.8 187.7,362.4 187.1,365.3 186.5,366.8 185.8,366.3 185.3,364.4 185.5,362.4ZM213.2,360.6 213.5,360.5 214.2,361.9 214.5,363.7 214.2,366.4 213.2,370.0 212.4,368.4 212.1,366.7ZM193.4,362.7 194.2,364.1 194.4,365.7 193.7,368.9 193.1,370.2 192.3,369.0 192.0,367.4 192.8,363.7ZM220.1,362.6 220.9,364.4 221.2,366.4 220.5,370.9 219.8,372.6 219.0,370.7 218.8,368.7 219.5,364.5ZM145.9,363.7 146.9,363.7 148.1,365.7 147.5,367.6 146.2,368.9 144.9,367.7 144.4,366.4 144.8,365.1ZM179.9,364.4 180.8,365.7 181.1,367.0 180.9,368.7 179.9,371.6 179.6,371.6 178.9,370.5 178.5,368.7 178.9,366.7ZM200.0,365.5 200.9,367.0 201.1,368.7 200.3,372.3 199.7,373.4 198.9,372.0 198.7,370.3 199.4,367.0ZM186.5,368.2 187.3,369.0 187.7,370.7 187.4,372.7 186.5,375.0 185.5,373.8 185.3,372.3ZM206.6,368.2 207.6,369.7 207.8,371.3 206.6,376.6 205.7,375.3 205.4,373.6 205.6,371.6ZM146.2,370.1 147.5,371.2 148.1,372.7 147.5,374.3 146.2,375.8 144.9,374.4 144.5,373.0 144.9,371.7ZM213.2,370.8 213.5,370.8 214.2,372.2 214.5,374.0 214.2,376.3 213.2,379.7 212.4,377.9 212.1,376.3ZM193.1,371.6 193.4,371.5 193.7,371.8 194.4,374.0 194.1,376.3 193.1,378.6 192.4,377.6 192.0,376.0ZM179.9,372.2 180.8,373.6 181.0,375.0 179.9,379.5 178.9,378.1 178.5,376.6 178.9,374.4ZM220.1,373.1 220.9,375.0 221.2,376.9 220.1,382.4 219.8,382.5 219.0,380.6 218.8,378.9 219.5,374.9ZM200.0,374.5 200.9,376.0 201.1,377.6 200.3,381.0 199.7,382.1 198.9,380.6 198.7,378.9 199.4,375.9ZM186.5,376.3 187.5,377.5 187.7,378.9 187.4,380.9 186.5,382.9 185.5,381.6 185.3,380.2ZM146.2,376.8 147.5,377.9 148.1,379.3 147.6,380.9 146.2,382.7 144.9,381.1 144.5,379.9 144.9,378.5ZM206.6,377.4 207.6,378.9 207.8,380.6 206.6,385.5 205.6,383.9 205.4,382.6 205.6,380.6ZM179.9,379.7 180.8,381.6 181.0,382.9 180.0,387.5 179.6,387.5 179.8,387.2 178.8,385.5 178.5,383.9ZM193.1,379.9 193.4,379.8 194.1,380.8 194.4,382.6 193.7,385.6 193.1,386.8 192.4,385.9 192.0,384.2ZM213.2,380.3 213.5,380.3 214.2,381.7 214.4,384.2 213.7,387.5 212.5,387.5 212.2,384.9ZM220.1,382.7 221.1,385.2 221.1,387.5 218.9,387.5ZM200.0,383.0 201.0,385.0 200.9,387.5 198.7,387.5 199.4,384.4ZM146.2,383.3 148.0,385.5 147.7,387.5 144.8,387.5 144.5,386.5 144.8,385.5ZM186.5,384.1 187.5,385.4 187.6,387.5 185.3,387.5ZM206.6,386.1 207.5,387.5 206.1,387.5Z"/>
<path fill="#f8c4d0" fill-rule="evenodd" d="M43.7,218.5 44.4,222.5 43.7,228.8 44.4,233.4 43.6,240.3 44.5,245.3 43.6,253.9 44.5,259.8 43.6,270.5 43.6,215.9 43.9,215.9ZM51.1,215.9 50.4,220.9 51.1,225.1 50.4,231.1 51.2,235.7 50.3,242.3 51.2,247.3 50.3,255.5 51.2,261.4 50.3,272.7 51.3,280.9 50.7,301.4 51.3,321.2 50.3,329.8 51.2,341.3 50.3,347.2 51.2,355.2 50.3,360.4 51.2,367.0 50.4,371.7 51.1,377.3 50.4,381.9 51.1,387.5 47.8,387.5 47.2,383.5 47.9,379.3 47.2,373.0 47.9,368.0 47.1,361.4 48.0,356.5 47.1,348.2 48.0,342.3 47.1,331.1 48.0,322.2 47.5,301.4 48.0,279.9 47.1,271.7 48.0,260.1 47.1,254.2 48.0,246.3 47.1,241.0 47.9,234.1 47.2,230.1 47.9,223.5 47.2,218.9 47.6,215.9ZM57.5,215.9 57.8,217.9 57.1,223.2 57.8,227.5 57.1,233.7 57.9,237.7 57.0,244.6 57.9,249.2 57.0,257.5 57.9,262.8 56.9,274.0 58.0,282.2 57.4,301.4 58.0,320.8 56.9,328.8 57.9,340.0 57.0,345.3 57.9,353.5 57.0,358.1 57.9,364.7 57.1,369.0 57.8,375.3 57.1,378.9 57.8,384.5 57.2,387.5 54.5,387.5 54.6,385.5 53.9,380.9 54.6,376.6 53.8,370.7 54.7,366.1 53.8,359.5 54.7,354.5 53.8,346.6 54.7,341.0 53.7,329.8 54.8,321.8 54.2,301.4 54.8,281.2 53.7,273.0 54.7,261.4 53.8,256.2 54.7,247.9 53.8,243.3 54.7,236.4 53.9,232.4 54.6,226.1 53.9,221.8 54.6,215.9ZM60.8,215.9 63.9,215.9 63.8,217.6 64.5,220.5 63.8,226.1 64.5,230.4 63.7,236.0 64.6,240.3 63.7,246.6 64.6,251.2 63.7,258.8 64.6,264.4 63.6,275.0 64.7,282.9 64.1,301.4 64.7,320.2 63.6,327.4 64.7,338.3 63.7,343.6 64.6,351.5 63.7,355.8 64.6,362.4 63.7,366.7 64.5,372.3 63.8,376.3 64.5,381.6 63.8,385.2 64.0,387.5 60.6,387.5 61.3,383.5 60.6,377.6 61.3,374.0 60.5,368.0 61.4,364.1 60.5,357.1 61.4,352.9 60.5,344.6 61.4,339.7 60.4,328.4 61.5,320.5 60.9,301.4 61.5,281.6 60.4,274.0 61.4,263.1 60.5,257.8 61.4,249.9 60.5,245.3 61.4,238.7 60.5,234.7 61.3,228.8 60.6,224.8 61.3,219.2ZM67.7,215.9 71.2,215.9 70.5,220.2 71.2,224.2 70.5,229.1 71.3,233.1 70.4,238.3 71.3,242.6 70.4,248.9 71.3,253.2 70.3,260.8 71.4,265.7 70.3,276.3 71.4,283.2 70.8,301.4 71.4,318.9 70.3,326.5 71.4,336.7 70.3,342.0 71.3,349.2 70.4,353.8 71.3,359.8 70.4,364.1 71.3,369.7 70.5,373.6 71.2,378.6 70.5,382.6 71.2,387.5 67.8,387.5 67.3,384.2 68.0,380.6 67.3,375.0 68.0,371.3 67.2,365.4 68.1,361.4 67.2,354.8 68.1,350.5 67.2,343.0 68.2,338.0 67.1,327.1 68.2,319.9 67.6,301.4 68.2,282.2 67.1,275.3 68.2,264.7 67.2,259.8 68.1,251.9 67.2,247.6 68.1,241.3 67.2,237.0 68.0,231.4 67.3,227.5 68.0,222.5 67.3,218.5ZM77.3,215.9 77.9,218.5 77.2,223.2 77.9,226.8 77.1,232.1 78.0,235.7 77.1,241.3 78.0,245.3 77.1,251.2 78.0,255.5 77.0,262.8 78.1,267.4 77.0,277.9 78.0,282.2 78.2,284.5 77.5,301.4 78.2,318.5 77.0,324.8 78.1,335.0 77.0,339.7 78.0,347.2 77.1,351.2 78.0,357.5 77.1,361.4 78.0,366.7 77.2,370.3 77.9,375.6 77.2,379.3 77.9,384.2 77.2,387.5 74.4,387.5 74.7,385.5 74.0,381.2 74.7,377.3 74.0,372.0 74.8,368.4 73.9,362.8 74.8,359.1 73.9,352.5 74.8,348.6 73.8,341.0 74.9,336.4 73.8,325.8 74.9,319.5 74.3,301.4 75.0,283.6 73.8,276.6 74.9,266.4 73.8,261.4 74.8,254.2 73.9,249.9 74.8,243.6 73.9,240.0 74.8,234.1 74.0,230.8 74.7,225.1 74.0,221.5 74.6,215.9ZM80.9,215.9 84.3,215.9 83.9,218.5 84.6,221.8 83.9,226.5 84.6,230.4 83.8,235.0 84.7,239.0 83.8,244.0 84.7,247.9 83.8,253.9 84.8,257.8 83.7,264.7 84.8,269.4 83.6,278.9 84.9,285.2 84.2,301.4 84.9,317.9 83.6,323.5 84.8,333.4 83.7,338.0 84.8,344.9 83.8,348.9 84.7,354.8 83.8,358.5 84.7,363.7 83.8,367.4 84.6,372.3 83.9,376.0 84.6,380.2 83.9,384.2 84.5,387.5 80.9,387.5 80.7,386.2 81.4,382.6 80.7,377.6 81.4,374.3 80.6,369.0 81.5,365.4 80.6,360.1 81.5,356.2 80.6,350.2 81.5,346.3 80.5,339.0 81.6,334.7 80.5,324.5 81.7,318.2 81.0,301.4 81.7,283.9 80.5,277.9 81.6,268.0 80.5,263.4 81.5,256.5 80.6,252.2 81.5,246.3 80.6,242.6 81.5,237.0 80.6,233.4 81.4,228.4 80.7,225.1 81.4,220.2 80.7,217.2ZM88.1,215.9 90.9,215.9 91.3,217.9 90.6,222.2 91.3,225.8 90.6,230.1 91.4,233.7 90.5,238.3 91.4,242.0 90.5,246.9 91.4,250.9 90.4,256.5 91.5,260.1 90.4,267.1 91.4,270.0 91.5,271.3 90.3,280.6 90.4,281.9 91.5,284.5 91.6,286.2 90.9,301.4 91.6,316.9 90.3,322.2 91.5,331.4 90.4,335.7 91.5,342.3 90.4,346.3 91.4,351.9 90.5,355.5 91.4,360.8 90.5,364.1 91.4,369.0 90.6,372.3 91.3,376.9 90.6,380.2 91.3,384.5 90.7,387.5 88.0,387.5 87.4,382.6 88.1,378.9 87.4,374.0 88.1,370.7 87.3,365.7 88.2,362.4 87.3,357.1 88.2,353.5 87.3,347.6 88.3,343.9 87.2,337.0 88.3,332.7 87.1,323.2 87.3,321.5 88.3,318.9 88.4,317.2 87.7,301.4 88.4,284.9 87.1,279.3 88.3,270.0 87.2,265.7 88.3,258.8 87.3,254.8 88.2,249.2 87.3,245.3 88.2,240.3 87.3,236.7 88.1,232.1 87.4,228.1 88.1,223.8 87.4,219.9ZM97.8,215.9 97.3,218.5 98.0,221.8 97.3,226.1 98.0,229.8 97.3,233.7 98.1,237.4 97.2,241.6 98.1,245.3 97.2,250.2 98.1,253.9 97.1,259.1 98.2,262.8 97.0,269.0 98.3,273.3 96.9,281.9 97.2,283.6 98.2,285.5 98.4,287.2 97.6,301.4 98.4,315.9 96.9,320.5 98.3,329.4 97.0,333.4 98.2,339.7 97.1,343.6 98.1,348.9 97.2,352.5 98.1,357.1 97.2,360.8 98.1,365.4 97.3,368.7 98.0,373.0 97.3,376.6 98.0,380.6 97.3,384.2 98.0,387.5 94.3,387.5 94.1,386.2 94.8,382.9 94.1,378.3 94.8,375.3 94.1,370.7 94.9,367.4 94.0,362.4 94.9,359.1 94.0,354.2 94.9,350.5 93.9,344.9 95.0,341.3 93.9,334.7 95.1,330.7 93.8,321.5 94.0,320.2 95.0,317.9 95.2,316.2 94.4,301.4 95.2,285.9 93.8,280.9 95.1,272.0 93.9,267.7 95.0,261.4 93.9,257.5 94.9,252.2 94.0,248.6 94.9,243.6 94.0,240.0 94.9,235.4 94.1,232.1 94.8,227.5 94.1,224.2 94.8,219.9 94.1,216.9 94.1,215.9ZM104.0,215.9 104.7,218.9 104.0,222.8 104.7,226.5 104.0,230.1 104.7,233.7 103.9,237.7 104.8,241.3 103.9,245.6 104.8,248.9 103.9,253.5 104.9,256.8 103.8,262.1 104.9,265.7 103.7,271.7 105.0,275.3 103.6,283.6 103.7,284.9 105.0,286.9 105.2,288.2 104.4,301.4 105.2,314.6 105.0,315.7 103.8,317.5 103.6,318.9 105.0,327.4 103.7,331.1 104.9,337.0 103.8,340.6 104.9,345.6 103.9,349.2 104.8,353.8 103.9,357.1 104.8,361.4 104.0,364.7 104.7,369.0 104.0,372.3 104.7,376.3 104.0,379.6 104.7,383.5 104.0,387.5 101.2,387.5 101.5,385.9 100.8,382.2 101.5,378.6 100.8,374.3 101.5,371.3 100.8,366.7 101.6,363.4 100.7,359.1 101.6,355.8 100.7,350.9 101.6,347.6 100.6,342.0 101.7,338.7 100.5,332.4 101.8,328.8 100.4,320.2 100.6,318.9 101.7,316.9 102.0,315.6 101.1,301.4 102.0,287.2 101.8,285.9 100.6,283.9 100.4,282.6 101.8,274.0 100.5,270.0 101.7,264.1 100.6,260.5 101.6,255.2 100.7,251.5 101.6,246.9 100.7,243.6 101.6,239.0 100.7,235.7 101.5,231.4 100.8,228.1 101.5,223.8 100.8,220.5 101.4,215.9ZM107.9,215.9 111.3,215.9 111.4,216.6 110.7,220.2 111.4,223.8 110.7,227.5 111.4,230.8 110.7,234.7 111.4,238.0 110.6,242.0 111.5,245.3 110.6,249.2 111.5,252.9 110.5,257.2 111.6,260.5 110.5,265.4 111.6,268.7 110.4,274.3 111.8,277.6 110.9,281.9 111.1,320.2 110.8,320.5 111.8,325.1 110.4,328.4 111.7,334.0 110.5,337.3 111.6,342.3 110.5,345.6 111.5,349.9 110.6,353.2 111.5,357.5 110.6,360.8 111.4,364.7 110.7,368.0 111.4,372.0 110.7,375.3 111.4,378.9 110.7,382.2 111.4,385.9 111.1,387.5 108.0,387.5 107.5,384.9 108.2,381.6 107.5,377.3 108.2,374.3 107.5,370.3 108.2,367.0 107.4,362.8 108.3,359.5 107.4,355.2 108.3,351.9 107.4,347.2 108.4,343.9 107.3,339.0 108.4,335.7 107.2,329.8 108.6,326.5 107.1,318.2 108.0,315.9 108.0,286.9 107.2,285.2 107.1,284.2 108.6,276.3 107.2,272.7 108.4,267.1 107.3,263.4 108.4,258.5 107.4,255.2 108.3,250.6 107.4,247.3 108.3,243.0 107.4,239.7 108.2,235.7 107.5,232.4 108.2,228.4 107.5,225.1 108.2,221.2 107.5,217.9ZM117.9,215.9 117.4,218.5 118.1,221.5 117.4,225.1 118.1,228.8 117.4,232.1 118.1,235.7 117.4,239.3 118.1,242.6 117.3,246.3 118.2,249.6 117.3,253.5 118.2,256.8 117.2,261.1 118.3,264.4 117.2,268.7 118.4,272.0 117.4,275.6 117.8,276.0 117.8,326.8 117.4,327.1 118.4,330.7 117.2,333.7 118.3,338.3 117.2,341.6 118.2,345.6 117.3,348.9 118.2,352.9 117.3,356.2 118.1,360.1 117.4,363.4 118.1,367.0 117.4,370.3 118.1,374.0 117.4,377.3 118.1,380.9 117.4,384.2 118.0,387.5 114.3,387.5 114.2,387.2 114.9,383.5 114.2,379.6 114.9,376.6 114.2,372.7 114.9,369.7 114.2,365.7 114.9,362.4 114.1,358.5 115.0,355.2 114.1,351.2 115.0,347.9 114.0,343.6 115.1,340.3 114.0,335.7 115.2,332.4 113.9,327.1 114.9,324.8 114.5,324.1 114.5,278.6 114.9,277.6 113.9,275.6 115.2,270.0 114.0,266.7 115.1,262.1 114.0,258.8 115.0,254.5 114.1,251.2 115.0,247.3 114.1,244.0 114.9,240.0 114.2,236.7 114.9,233.1 114.2,229.8 114.9,226.1 114.2,222.8 114.9,219.2 114.2,215.9ZM121.5,215.9 124.3,215.9 124.2,217.2 124.8,220.2 124.1,223.8 124.8,227.1 124.1,230.4 124.8,234.1 124.1,237.4 124.8,240.7 124.1,244.3 124.9,247.6 124.0,251.2 124.9,254.5 124.0,258.1 124.9,261.4 123.9,265.4 125.0,268.4 124.0,271.7 124.5,272.0 124.5,330.7 124.0,330.7 125.0,334.0 123.9,337.3 124.9,341.3 124.0,344.3 124.9,348.2 124.0,351.5 124.9,355.2 124.1,358.5 124.8,361.8 124.1,365.1 124.8,368.7 124.1,372.0 124.8,375.6 124.1,378.9 124.8,382.2 124.2,385.5 124.5,387.5 121.1,387.5 121.6,385.2 120.9,381.9 121.6,378.3 120.9,374.6 121.6,371.7 120.9,367.7 121.6,364.7 120.9,360.8 121.6,357.8 120.8,353.8 121.7,350.5 120.8,346.9 121.7,343.6 120.7,339.7 121.8,336.4 120.7,332.1 121.7,329.8 121.2,329.1 121.2,273.7 121.7,273.0 120.7,270.7 121.8,266.4 120.7,263.1 121.7,259.1 120.8,255.8 121.7,251.9 120.8,248.6 121.6,244.9 120.9,241.6 121.6,238.0 120.9,234.7 121.6,231.1 120.9,227.8 121.6,224.5 120.9,220.9 121.5,217.9ZM128.4,215.9 130.9,215.9 131.5,219.2 130.8,222.8 131.5,226.5 130.8,229.4 131.5,233.1 130.8,236.4 131.5,239.7 130.8,243.0 131.5,246.3 130.8,249.9 131.6,253.2 130.7,256.5 131.6,259.8 130.7,263.4 131.6,266.7 130.6,270.0 131.2,270.4 131.2,332.4 130.7,332.7 131.6,336.0 130.7,339.3 131.6,342.6 130.7,345.9 131.6,349.6 130.8,352.9 131.5,356.2 130.8,359.5 131.5,363.1 130.8,366.4 131.5,369.7 130.8,373.0 131.5,376.3 130.8,379.6 131.5,383.2 130.9,386.2 131.0,387.5 128.1,387.5 128.2,385.9 127.6,382.9 128.3,379.6 127.6,376.0 128.3,372.7 127.6,369.0 128.3,366.1 127.6,362.4 128.3,359.1 127.6,355.5 128.3,352.5 127.5,348.9 128.4,345.6 127.5,342.0 128.4,338.7 127.4,335.0 128.4,332.1 127.9,331.7 127.9,271.0 128.4,270.4 127.4,267.7 128.4,264.1 127.5,260.8 128.4,257.2 127.5,253.9 128.3,250.2 127.6,246.9 128.3,243.6 127.6,240.0 128.3,236.7 127.6,233.4 128.3,230.1 127.6,226.5 128.3,223.2 127.6,219.9ZM135.0,215.9 137.5,215.9 138.3,219.2 137.4,222.5 138.3,226.1 137.4,229.1 138.3,232.7 137.4,236.0 138.4,239.3 137.4,242.6 138.4,245.9 137.3,249.2 138.5,252.9 137.3,256.2 138.6,259.5 137.2,262.8 138.7,266.1 137.1,269.4 137.9,269.7 137.9,332.7 137.1,333.1 138.7,336.7 137.2,340.0 138.6,343.3 137.3,346.6 138.5,349.9 137.3,353.2 138.4,356.5 137.4,359.8 138.4,363.4 137.4,366.7 138.3,370.0 137.4,373.3 138.3,376.6 137.4,379.9 138.3,383.5 137.5,386.2 137.6,387.5 134.9,387.5 134.9,386.2 134.3,383.5 135.0,379.9 134.3,376.3 135.0,373.3 134.3,369.7 135.0,366.7 134.3,363.1 135.1,359.8 134.2,356.5 135.1,353.2 134.2,349.9 135.1,346.6 134.2,343.0 135.1,339.7 134.2,336.4 135.2,333.1 134.6,332.7 134.6,269.7 135.2,269.4 134.2,266.4 135.2,262.8 134.2,259.5 135.1,256.2 134.2,252.9 135.1,249.6 134.2,245.9 135.1,242.6 134.3,239.3 135.0,236.0 134.3,232.7 135.0,229.4 134.3,225.8 135.0,222.5 134.3,219.2ZM141.9,215.9 144.0,215.9 145.2,219.5 143.9,222.8 145.2,226.5 143.9,229.4 145.3,233.1 143.8,236.0 145.3,239.7 143.7,243.0 145.4,246.6 143.6,249.6 145.4,253.2 143.5,256.5 145.1,259.1 145.3,260.1 143.5,263.1 145.2,266.7 143.7,270.0 144.6,271.0 144.6,331.7 143.9,332.1 143.7,332.7 145.2,335.7 145.1,336.7 143.5,339.7 145.0,341.6 145.4,342.6 143.5,346.3 145.4,349.2 145.2,350.2 143.6,352.9 145.4,356.2 143.7,359.8 145.3,362.8 143.8,366.4 145.3,369.7 143.9,373.0 145.2,376.3 143.9,379.6 145.2,383.2 144.0,386.2 144.2,387.5 141.7,387.5 141.8,386.2 140.9,383.5 141.9,379.9 140.8,376.6 142.0,373.3 140.8,369.7 142.0,366.4 140.7,363.1 142.1,359.8 140.7,356.5 142.2,353.2 140.6,349.9 142.4,346.3 140.4,343.3 140.7,342.3 142.5,339.7 140.4,337.0 140.3,336.4 142.5,333.1 142.5,332.7 141.3,332.4 141.3,270.4 142.4,270.0 142.5,269.7 140.3,266.1 142.5,263.1 140.4,259.5 142.4,256.2 140.6,252.9 140.8,251.9 142.2,249.6 140.7,245.9 142.1,243.0 140.7,239.3 142.0,236.0 140.8,232.7 142.0,229.4 140.8,225.8 141.9,222.8 140.9,219.2ZM150.8,215.9 150.6,217.2 151.9,220.2 150.6,223.5 151.9,227.1 150.6,230.4 151.8,234.1 150.6,237.0 151.8,240.7 150.7,244.0 151.7,247.6 150.8,250.9 151.6,254.5 150.9,257.8 151.6,261.8 150.9,265.1 151.6,268.7 150.9,272.0 151.3,273.7 151.3,328.8 150.9,330.4 151.6,333.4 150.9,337.7 151.6,341.0 150.9,344.6 151.6,347.9 150.8,351.9 151.7,354.8 150.7,358.5 151.8,361.8 150.6,365.4 151.8,368.7 150.6,372.3 151.8,375.3 150.6,378.9 151.9,382.2 150.6,385.5 151.3,387.5 148.2,387.5 148.7,385.9 147.4,382.9 148.8,379.3 147.3,376.0 148.8,372.7 147.3,369.4 148.8,365.7 147.3,362.8 148.7,359.1 147.3,355.8 148.7,352.2 147.4,349.2 148.6,345.3 147.5,342.3 148.5,338.3 147.6,335.4 148.4,331.4 148.0,330.4 148.0,272.0 148.4,271.0 147.6,267.4 148.5,264.1 147.5,260.5 148.6,257.2 147.4,253.5 148.7,250.6 147.3,246.6 148.7,243.6 147.3,240.0 148.8,236.7 147.3,233.1 148.8,230.1 147.4,226.8 147.5,225.8 148.8,223.2 147.4,219.9 148.7,216.9 148.6,215.9ZM154.8,215.9 158.2,215.9 157.5,218.2 158.4,221.5 157.5,224.8 158.3,228.8 157.6,231.7 158.3,235.7 157.6,239.0 158.3,242.6 157.6,245.9 158.3,249.9 157.6,253.2 158.3,257.2 157.6,260.5 158.3,264.7 157.6,268.4 158.3,272.7 157.6,276.3 158.0,280.3 158.0,324.1 157.6,326.5 158.3,330.1 157.6,334.4 158.3,338.0 157.6,342.0 158.3,345.6 157.6,349.2 158.3,352.5 157.6,356.5 158.3,360.1 157.6,363.7 158.3,367.0 157.6,370.7 158.3,374.0 157.5,377.6 158.4,380.9 157.5,384.5 158.4,387.5 154.4,387.5 155.3,384.9 154.2,381.9 155.2,378.3 154.2,375.0 155.2,371.3 154.3,368.0 155.1,364.4 154.3,361.1 155.1,357.5 154.4,354.2 155.1,350.5 154.4,346.9 155.1,343.3 154.4,340.0 155.1,335.7 154.4,332.4 155.1,328.1 154.7,326.8 154.7,280.9 154.7,276.0 155.1,274.3 154.4,270.0 155.1,266.7 154.4,262.8 155.1,259.8 154.4,255.5 155.1,252.2 154.4,248.2 155.1,245.3 154.4,241.3 155.1,238.0 154.3,234.4 155.2,231.4 154.2,227.8 155.2,224.5 154.2,220.9 155.3,217.9ZM164.9,215.9 165.0,216.6 164.3,219.9 164.9,223.8 164.3,227.1 164.9,230.8 164.4,234.4 164.9,238.3 164.3,241.6 164.9,245.6 164.3,248.9 165.0,253.2 164.3,256.5 165.0,261.1 164.3,264.4 165.0,269.4 164.2,273.0 165.0,278.9 164.2,283.2 164.6,287.5 164.6,311.6 164.2,319.5 165.0,323.8 164.2,329.4 165.0,333.1 164.3,338.0 165.0,341.6 164.3,345.9 165.0,349.6 164.3,353.5 165.0,357.1 164.3,361.1 164.9,364.4 164.4,368.4 164.9,371.7 164.3,375.6 164.9,378.6 164.3,382.6 164.9,385.5 164.7,387.5 161.1,387.5 161.1,387.2 161.8,383.5 161.1,380.2 161.8,376.3 161.1,373.0 161.8,369.4 161.2,366.1 161.7,362.4 161.2,358.8 161.8,354.8 161.1,351.5 161.8,347.6 161.1,343.9 161.8,339.7 161.1,336.0 161.9,331.4 161.1,327.8 161.9,322.2 161.5,319.9 161.5,310.6 161.5,282.6 161.8,280.3 161.1,274.6 161.8,271.0 161.1,266.4 161.8,262.8 161.1,258.5 161.8,255.2 161.1,251.2 161.8,247.6 161.2,244.0 161.7,240.3 161.2,236.7 161.8,233.4 161.1,229.8 161.8,226.1 161.1,222.5 161.8,219.2 161.1,215.9ZM168.3,215.9 171.1,215.9 171.6,219.2 171.0,222.5 171.6,226.5 171.0,230.1 171.6,233.7 171.0,237.4 171.7,241.3 171.0,244.9 171.7,249.2 171.0,252.9 171.7,257.5 170.9,261.1 171.7,266.4 170.9,270.4 171.8,276.6 170.9,281.6 171.8,291.5 171.2,301.7 171.8,312.3 170.8,321.2 171.8,326.1 170.8,332.4 171.7,336.0 171.0,341.3 171.7,344.9 171.0,349.6 171.7,353.2 171.0,357.5 171.7,361.1 171.0,365.1 171.6,368.7 171.0,372.7 171.6,376.3 171.0,379.9 171.6,383.5 171.0,387.5 168.4,387.5 167.9,384.9 168.5,381.2 167.9,377.9 168.5,374.0 167.9,370.3 168.5,366.7 167.9,363.1 168.5,359.1 167.8,355.5 168.5,351.5 167.8,347.9 168.6,343.3 167.8,339.7 168.6,334.4 167.7,331.1 168.6,324.5 167.7,319.9 168.6,309.6 168.3,300.7 168.7,291.5 167.7,282.6 168.6,277.9 167.7,272.0 168.6,268.0 167.8,263.1 168.6,259.5 167.8,254.8 168.5,251.2 167.8,246.9 168.5,243.6 167.9,239.3 168.5,236.0 167.9,232.1 168.5,228.8 167.9,224.8 168.4,221.8 167.9,217.9ZM175.3,215.9 178.2,215.9 177.7,218.2 178.4,222.2 177.7,225.8 178.4,230.1 177.5,233.4 178.5,238.0 177.5,241.0 178.4,245.6 177.7,249.6 178.4,254.5 177.6,258.1 178.4,263.8 177.6,267.7 178.5,274.6 177.6,279.3 178.5,290.5 177.8,301.7 178.4,313.6 177.6,322.8 178.5,328.1 177.5,334.7 178.4,339.0 177.6,344.6 178.4,348.2 177.7,353.2 178.4,356.8 177.7,361.4 178.4,364.7 177.7,369.4 178.4,372.7 177.7,376.9 178.4,380.2 177.7,384.5 178.3,387.5 174.9,387.5 175.2,385.2 174.6,382.2 175.2,378.3 174.6,374.6 175.2,370.7 174.5,367.0 175.2,363.1 174.5,359.5 175.2,354.8 174.5,351.2 175.3,346.6 174.5,342.6 175.3,337.3 174.4,333.4 175.3,326.8 174.4,321.5 175.3,312.6 175.0,300.1 175.5,291.5 174.4,280.9 175.4,276.0 174.5,269.4 175.3,265.1 174.5,259.8 175.2,256.2 174.5,251.5 175.2,247.6 174.5,243.0 175.3,239.7 174.5,235.7 175.2,232.1 174.6,228.1 175.2,224.5 174.6,220.5ZM184.7,215.9 185.1,218.2 184.4,221.8 185.0,226.5 184.4,229.4 185.1,234.4 184.1,237.7 185.1,242.3 184.3,246.3 185.1,250.9 184.3,255.2 185.1,261.1 184.3,265.7 185.2,272.7 184.3,277.6 185.2,289.8 184.6,302.0 185.1,314.6 184.3,324.5 185.2,330.1 184.3,337.0 185.1,341.6 184.3,347.2 185.1,351.2 184.3,356.5 185.1,360.1 184.3,364.7 185.1,368.4 184.4,373.0 185.1,376.6 184.4,380.6 185.0,384.2 184.5,387.5 181.4,387.5 181.3,386.5 181.9,382.2 181.2,378.6 181.9,374.6 181.2,371.0 181.9,366.7 181.2,362.8 182.0,358.5 181.2,354.5 182.0,349.6 181.2,345.6 182.0,340.0 181.2,335.4 182.1,328.8 181.2,323.2 182.0,313.6 181.7,299.7 182.1,290.5 181.2,278.9 182.1,274.0 181.2,266.7 182.0,262.8 181.2,256.8 182.0,252.9 181.2,247.9 182.1,244.0 181.1,239.3 182.3,236.4 181.2,231.7 181.9,228.1 181.2,223.8 181.9,220.5 181.3,216.6 181.3,215.9ZM188.8,215.9 191.5,215.9 191.1,218.2 191.7,222.2 191.1,226.1 191.7,231.1 191.1,234.4 191.8,239.3 191.1,243.3 191.8,248.6 191.0,252.5 191.8,258.8 191.0,263.1 191.8,271.0 190.9,276.0 191.9,288.8 191.3,302.0 191.8,315.2 191.0,326.1 191.8,331.7 191.0,339.3 191.8,343.9 191.0,349.9 191.8,353.8 191.1,359.5 191.8,363.1 191.1,368.4 191.7,371.7 191.1,376.6 191.7,379.9 191.1,384.5 191.7,387.5 188.5,387.5 188.6,385.9 188.0,382.9 188.6,378.3 187.9,374.6 188.6,369.7 187.9,366.4 188.7,361.4 187.9,357.8 188.7,352.2 187.9,348.6 188.7,342.3 187.9,338.0 188.8,330.4 187.9,324.8 188.7,314.6 188.4,299.4 188.8,289.8 187.9,277.6 188.8,272.3 187.9,264.7 188.7,260.1 187.9,254.2 188.7,250.2 187.9,244.9 188.7,241.0 187.9,236.4 188.6,232.4 187.9,228.1 188.6,224.5 188.0,219.9ZM194.7,215.9 198.0,215.9 198.4,218.9 197.8,222.5 198.4,227.5 197.8,231.4 198.4,236.4 197.8,240.7 198.5,245.9 197.8,250.2 198.5,256.5 197.8,261.4 198.5,269.0 197.6,275.0 198.6,288.5 198.0,302.0 198.5,315.9 197.7,328.1 198.5,333.4 197.7,341.3 198.5,346.3 197.8,352.5 198.5,356.5 197.8,362.4 198.4,366.1 197.8,371.3 198.4,375.0 197.8,379.9 198.4,383.9 197.8,387.5 194.8,387.5 194.7,386.5 195.3,381.9 194.7,378.3 195.3,373.0 194.6,369.7 195.3,364.4 194.6,360.8 195.3,355.2 194.6,350.9 195.4,344.6 194.6,340.0 195.5,332.1 194.6,326.5 195.4,315.2 195.1,299.1 195.5,289.5 194.6,276.0 195.4,270.7 194.6,262.8 195.4,257.8 194.6,251.9 195.3,247.6 194.6,242.0 195.3,238.0 194.6,233.1 195.3,229.1 194.7,224.8 195.3,220.9ZM202.0,215.9 205.1,215.9 204.5,219.5 205.1,224.5 204.5,228.1 205.1,233.7 204.5,237.7 205.1,243.3 204.5,247.6 205.2,254.2 204.5,259.1 205.2,267.4 204.4,273.7 205.2,287.8 204.7,302.0 205.2,316.6 204.4,329.4 205.2,335.0 204.5,343.3 205.1,348.2 204.5,354.8 205.1,359.1 204.5,365.1 205.1,369.0 204.5,374.3 205.1,377.9 204.5,383.2 205.1,387.5 201.7,387.5 202.0,384.9 201.4,381.6 202.0,376.6 201.4,372.7 202.0,367.4 201.4,363.4 202.0,357.5 201.3,353.5 202.0,346.9 201.3,342.0 202.1,333.4 201.3,327.8 202.1,315.9 201.8,299.1 202.2,288.8 201.3,274.6 202.0,268.7 201.3,260.5 202.0,255.8 201.3,249.2 202.0,244.9 201.4,239.3 202.0,235.4 201.4,229.8 202.0,226.1 201.4,221.2ZM208.6,215.9 211.2,215.9 211.8,221.2 211.2,225.5 211.8,230.4 211.2,235.0 211.8,241.3 211.2,245.6 211.8,252.2 211.2,257.5 211.8,265.7 211.1,273.0 211.9,287.5 211.4,302.0 211.9,317.2 211.1,330.4 211.8,337.0 211.2,345.3 211.8,350.5 211.2,357.1 211.8,361.8 211.2,367.4 211.8,372.0 211.2,376.9 211.8,381.2 211.2,385.9 211.3,387.5 208.6,387.5 208.1,384.5 208.7,379.6 208.1,375.6 208.7,370.0 208.1,366.1 208.7,360.1 208.1,355.8 208.7,348.9 208.1,343.9 208.7,335.0 208.0,329.4 208.8,315.9 208.5,298.7 208.9,288.2 208.0,273.7 208.7,267.1 208.1,258.8 208.7,253.5 208.1,246.9 208.7,242.3 208.1,236.7 208.7,232.4 208.1,227.1 208.7,223.2 208.1,218.2ZM214.9,215.9 218.2,215.9 218.5,218.2 217.9,222.5 218.5,227.8 217.9,232.4 218.5,238.7 217.9,243.3 218.5,250.2 217.9,255.8 218.5,264.1 217.8,272.0 218.6,286.9 218.1,302.4 218.6,317.5 217.8,331.4 218.5,338.3 217.9,346.9 218.5,352.5 217.9,359.1 218.5,364.1 217.9,370.0 218.5,374.3 217.9,379.9 218.5,383.9 218.1,387.5 214.8,387.5 215.4,382.6 214.8,378.6 215.4,372.7 214.8,368.7 215.4,362.4 214.8,358.1 215.4,350.9 214.8,345.9 215.4,337.0 214.7,330.4 215.5,316.9 215.2,298.7 215.5,288.5 214.7,272.7 215.4,265.4 214.8,257.2 215.4,251.5 214.8,244.9 215.4,240.0 214.8,234.1 215.4,229.8 214.8,224.5 215.4,220.2ZM222.1,215.9 225.2,215.9 224.6,219.5 225.2,225.5 224.6,230.1 225.2,236.4 224.6,241.0 225.2,248.2 224.6,253.9 225.2,262.8 224.6,270.7 225.3,285.2 224.8,302.4 225.3,317.5 224.5,332.4 225.2,339.7 224.6,348.9 225.2,354.2 224.6,361.4 225.2,366.1 224.6,372.7 225.2,376.6 224.6,382.9 225.2,387.5 221.9,387.5 222.1,384.9 221.5,381.2 222.1,375.6 221.5,371.0 222.1,364.7 221.5,360.1 222.1,352.9 221.5,347.6 222.1,338.3 221.4,331.4 222.2,317.2 221.9,298.7 222.2,288.2 221.5,272.0 222.1,263.8 221.5,255.2 222.1,249.6 221.5,242.6 222.1,238.0 221.5,231.4 222.1,226.8 221.5,221.5ZM228.7,215.9 229.1,215.9 229.1,387.5 228.7,387.5 228.2,383.9 228.8,378.3 228.2,373.6 228.8,366.7 228.2,362.1 228.8,354.8 228.2,349.2 228.8,340.0 228.1,332.4 228.9,316.9 228.6,298.7 228.9,287.2 228.2,270.7 228.8,262.8 228.2,253.5 228.8,247.9 228.2,240.3 228.8,235.7 228.2,229.1 228.8,224.5 228.2,218.5ZM43.6,272.7 44.5,280.3 44.0,301.4 44.5,321.5 43.6,330.0ZM44.5,342.6 43.6,348.9 44.5,357.1 43.6,362.1 44.4,369.4 43.7,374.0 44.4,379.9 43.7,384.2 44.1,387.5 43.6,387.5 43.6,332.1Z"/>
<path fill="#f05a6c" fill-rule="evenodd" d="M43.6,216.8 43.6,215.9ZM47.9,215.9 50.9,215.9 50.1,220.9 50.9,225.5 50.1,231.4 50.9,236.0 50.1,242.6 51.0,247.6 50.0,255.8 51.0,261.8 50.0,273.7 51.0,281.6 50.6,301.4 51.0,320.5 50.0,329.1 51.0,340.6 50.0,346.6 51.0,354.8 50.1,359.8 50.9,366.7 50.1,371.3 50.9,377.3 50.1,381.6 50.9,387.5 47.9,387.5 47.4,383.9 48.2,379.6 47.4,373.3 48.2,368.4 47.3,361.8 48.2,356.8 47.3,348.6 48.3,343.0 47.3,331.7 48.3,323.2 47.6,301.4 48.3,278.9 47.3,271.0 48.3,259.8 47.3,253.9 48.2,245.6 47.3,241.0 48.2,234.1 47.4,229.4 48.1,223.5 47.4,219.2ZM57.2,215.9 57.6,217.9 56.8,223.5 57.6,227.8 56.8,234.1 57.7,238.0 56.8,244.9 57.7,249.6 56.7,257.8 57.7,263.1 56.7,275.0 57.6,280.3 57.8,283.2 57.3,301.4 57.8,320.2 56.7,327.8 57.7,339.7 56.7,344.9 57.7,353.2 56.8,357.8 57.7,364.7 56.8,368.7 57.6,375.0 56.9,378.6 57.6,384.5 57.0,387.5 54.7,387.5 54.8,385.9 54.1,380.9 54.9,376.9 54.1,371.0 54.9,366.4 54.0,359.8 54.9,354.8 54.0,346.9 55.0,341.3 54.0,330.4 55.0,322.8 54.3,301.4 55.0,280.3 54.0,272.7 55.0,261.1 54.0,255.8 54.9,247.6 54.0,243.0 54.9,236.0 54.1,232.1 54.9,225.8 54.1,221.5 54.8,215.9ZM63.7,215.9 63.6,217.6 64.3,220.9 63.5,226.5 64.3,230.8 63.5,236.0 64.4,240.7 63.5,246.9 64.4,251.5 63.4,259.5 64.4,264.7 63.4,275.6 64.5,283.9 64.0,301.4 64.5,319.5 63.4,326.8 64.4,338.0 63.4,343.3 64.4,351.2 63.5,355.5 64.4,362.1 63.5,366.4 64.3,372.3 63.5,376.0 64.3,381.6 63.6,385.2 63.8,387.5 60.8,387.5 61.6,383.5 60.8,377.9 61.6,374.3 60.8,368.0 61.6,364.1 60.7,357.5 61.6,353.2 60.7,344.9 61.7,340.0 60.6,329.1 61.8,321.5 61.0,301.4 61.8,280.6 60.6,273.7 61.7,262.8 60.7,257.5 61.6,249.6 60.7,245.3 61.6,238.3 60.7,234.4 61.6,228.4 60.8,224.5 61.5,219.2 60.8,215.9ZM68.0,215.9 71.0,215.9 70.2,220.2 71.0,224.2 70.2,229.1 71.0,233.4 70.2,238.7 71.1,243.0 70.1,249.2 71.1,253.5 70.1,261.1 71.2,266.4 70.0,277.0 71.2,283.9 70.7,301.4 71.2,318.2 71.0,320.8 70.0,325.5 71.2,336.4 70.1,341.3 71.1,348.9 70.1,353.5 71.1,359.8 70.2,363.7 71.1,369.4 70.2,373.3 71.0,378.3 70.2,382.2 71.0,387.5 68.0,387.5 67.5,384.5 68.3,380.6 67.5,375.0 68.3,371.7 67.4,365.7 68.3,361.8 67.4,355.2 68.4,350.9 67.4,343.3 68.4,338.3 67.3,327.8 68.5,320.8 67.7,301.4 68.5,281.6 67.3,274.6 68.4,264.1 67.4,259.1 68.4,251.5 67.4,247.3 68.3,241.0 67.4,236.7 68.3,231.1 67.5,227.5 68.3,222.2 67.5,218.2ZM74.9,215.9 77.1,215.9 77.7,218.5 76.9,223.5 77.7,227.5 76.9,232.1 77.8,236.0 76.9,241.3 77.8,245.6 76.8,251.5 77.8,255.8 76.8,263.1 77.7,266.4 77.9,268.0 76.7,278.3 77.8,282.9 77.9,285.2 77.4,301.4 77.9,317.9 76.7,324.1 77.9,334.7 76.8,339.3 77.8,346.9 76.8,350.9 77.8,357.1 76.9,361.1 77.8,366.7 76.9,370.3 77.7,375.6 77.0,378.9 77.7,383.9 77.0,387.5 74.7,387.5 74.9,385.5 74.2,381.2 75.0,377.6 74.2,372.3 75.0,368.4 74.1,363.1 75.0,359.1 74.1,352.9 75.1,348.9 74.1,341.3 75.1,336.7 74.0,326.8 75.2,320.2 74.4,301.4 75.2,282.2 74.0,276.0 75.1,266.1 74.1,261.1 75.1,253.9 74.1,249.6 75.0,243.6 74.1,239.3 75.0,234.1 74.2,230.1 75.0,225.1 74.2,221.5ZM84.2,215.9 83.7,218.9 84.4,222.2 83.6,226.8 84.4,230.8 83.6,235.4 84.5,239.0 83.6,244.3 84.5,248.2 83.5,253.9 84.5,258.1 83.4,265.1 84.6,269.7 83.3,279.6 83.4,280.9 84.5,283.9 84.7,285.9 84.1,301.4 84.7,317.2 83.3,322.8 84.6,333.1 83.4,337.3 84.6,344.6 83.5,348.6 84.5,354.5 83.6,358.5 84.5,363.4 83.6,367.4 84.4,372.0 83.6,376.0 84.4,380.2 83.7,383.9 84.3,387.5 81.0,387.5 80.9,386.2 81.6,382.6 80.9,377.6 81.7,374.3 80.8,369.4 81.7,365.7 80.8,360.1 81.8,356.5 80.8,350.5 81.8,346.6 80.7,339.3 81.9,335.0 80.7,325.1 82.0,319.2 81.1,301.4 82.0,283.2 80.7,277.6 81.9,267.7 80.7,263.1 81.8,256.2 80.8,252.2 81.8,245.9 80.8,242.3 81.7,237.0 80.8,233.4 81.7,228.4 80.9,224.8 81.6,220.2 80.9,216.9 80.9,215.9ZM88.5,215.9 90.6,215.9 91.1,217.9 90.4,222.2 91.1,226.1 90.3,230.4 91.1,234.1 90.3,238.7 91.2,242.3 90.2,247.3 91.2,250.9 90.2,256.5 91.3,260.5 90.1,267.4 91.1,270.0 91.3,271.7 90.0,281.2 91.2,284.9 91.4,286.9 90.8,301.4 91.4,316.2 90.0,321.5 91.3,331.1 91.2,332.4 90.1,335.4 91.3,342.3 90.2,345.9 91.2,351.9 90.2,355.2 91.2,360.4 90.3,364.1 91.1,368.7 90.3,372.3 91.1,376.9 90.4,379.9 91.1,384.5 90.4,387.5 88.3,387.5 87.6,382.6 88.4,378.9 87.6,374.3 88.4,371.0 87.5,366.1 88.4,362.8 87.5,357.5 88.5,353.8 87.5,347.9 88.5,344.3 87.4,337.3 88.6,333.1 87.3,323.5 88.7,318.2 87.8,301.4 88.7,284.2 87.5,280.6 87.3,278.9 88.6,269.4 87.4,265.4 88.5,258.5 87.5,254.8 88.5,248.9 87.5,245.3 88.4,240.0 87.5,236.7 88.4,231.7 87.6,228.4 88.4,223.5 87.6,220.2ZM94.4,215.9 97.6,215.9 97.1,218.9 97.8,221.8 97.1,226.1 97.8,229.8 97.0,234.1 97.8,237.7 97.0,242.0 97.9,245.6 96.9,250.2 97.9,253.9 96.9,259.5 98.0,263.1 96.8,269.7 97.9,272.3 98.1,273.7 96.6,282.9 97.9,285.9 98.2,287.8 97.5,301.4 98.2,315.2 97.9,316.9 96.9,318.5 96.6,319.9 98.1,329.1 97.9,330.4 96.8,333.1 98.0,339.7 96.9,343.3 97.9,348.6 96.9,352.2 97.9,357.1 97.0,360.8 97.9,365.1 97.0,368.7 97.8,373.0 97.1,376.3 97.8,380.2 97.1,383.9 97.8,387.5 94.4,387.5 94.3,386.5 95.0,382.9 94.3,378.6 95.1,375.3 94.3,370.7 95.1,367.4 94.2,362.8 95.1,359.5 94.2,354.2 95.2,350.9 94.1,345.3 95.3,341.6 94.1,335.0 95.4,331.1 94.0,322.2 94.2,320.5 95.3,318.5 95.5,317.2 94.7,308.3 94.5,301.4 94.7,294.4 95.5,285.2 95.4,284.2 94.3,282.2 94.0,280.6 95.4,271.3 94.1,267.7 95.3,261.1 94.2,257.5 95.2,251.9 94.2,248.2 95.1,243.3 94.2,240.0 95.1,235.0 94.3,231.7 95.1,227.5 94.3,224.2 95.0,219.9 94.3,216.9ZM101.7,215.9 103.8,215.9 104.5,218.9 103.8,222.8 104.5,226.5 103.7,230.4 104.5,233.7 103.7,237.7 104.6,241.3 103.7,245.6 104.6,248.9 103.6,253.5 104.6,257.2 103.5,262.4 104.7,265.7 103.4,272.0 104.6,274.6 104.8,275.6 103.2,284.5 103.5,285.5 104.7,287.2 104.9,288.8 104.2,301.4 104.9,314.2 104.6,315.5 103.4,317.2 103.2,318.2 104.8,327.1 103.4,330.7 104.7,336.7 103.5,340.3 104.6,345.6 103.6,348.9 104.6,353.5 103.7,356.8 104.6,361.4 103.7,364.7 104.5,369.0 103.7,372.3 104.5,376.3 103.8,379.6 104.5,383.5 103.8,387.5 101.4,387.5 101.7,385.9 101.0,382.2 101.7,378.9 101.0,374.3 101.8,371.3 101.0,367.0 101.8,363.7 100.9,359.1 101.8,355.8 100.9,350.9 101.9,347.6 100.8,342.3 102.0,339.0 100.8,332.7 100.9,331.7 102.1,329.1 100.7,320.5 101.0,318.9 102.2,317.2 102.3,316.2 101.4,308.0 101.2,301.4 101.4,294.8 102.3,286.2 100.9,283.6 100.7,282.2 102.1,273.7 100.8,270.0 102.0,263.8 100.8,260.1 101.9,254.8 100.9,251.5 101.8,246.9 100.9,243.3 101.8,239.0 101.0,235.7 101.8,231.4 101.0,227.8 101.7,224.2 101.0,220.5ZM108.0,215.9 111.1,215.9 111.2,216.6 110.5,220.2 111.2,223.8 110.5,227.5 111.2,230.8 110.4,234.7 111.2,238.0 110.4,242.0 111.3,245.3 110.4,249.6 111.3,252.9 110.3,257.2 111.4,260.5 110.2,265.4 111.4,268.7 110.0,274.6 111.4,277.0 111.5,277.9 110.5,282.6 110.9,282.9 110.9,319.9 110.6,320.2 111.5,324.8 110.0,328.1 111.4,333.7 110.2,337.0 111.4,342.0 110.3,345.3 111.3,349.9 110.4,353.2 111.3,357.1 110.4,360.4 111.2,364.7 110.4,368.0 111.2,371.7 110.5,375.0 111.2,378.9 110.5,382.2 111.2,385.9 110.9,387.5 108.2,387.5 107.7,384.9 108.4,381.6 107.7,377.6 108.4,374.3 107.7,370.3 108.5,367.0 107.6,363.1 108.5,359.8 107.6,355.5 108.6,352.2 107.6,347.6 108.6,344.3 107.5,339.3 108.7,336.0 107.4,330.1 107.6,329.1 108.9,326.8 107.3,318.9 107.5,317.5 108.2,316.6 108.0,287.2 108.3,286.2 107.4,284.9 107.3,283.6 108.9,276.0 107.4,272.7 108.7,266.7 107.5,263.4 108.6,258.5 107.6,255.2 108.6,250.6 107.6,247.3 108.5,243.0 107.6,239.7 108.5,235.4 107.7,232.4 108.4,228.1 107.7,225.1 108.4,221.2 107.7,218.2ZM114.5,215.9 117.7,215.9 117.2,218.5 117.9,221.5 117.2,225.1 117.9,228.8 117.2,232.4 117.9,235.7 117.1,239.3 117.9,242.6 117.1,246.3 118.0,249.9 117.0,253.5 118.0,256.8 117.0,261.1 118.1,264.4 116.9,269.0 118.2,272.0 117.2,275.6 117.6,276.0 117.6,326.8 117.1,326.8 118.2,330.4 116.9,333.7 118.1,338.3 117.0,341.3 118.0,345.6 117.0,348.9 118.0,352.9 117.1,356.2 117.9,360.1 117.1,363.4 117.9,367.0 117.2,370.3 117.9,374.0 117.2,377.3 117.9,380.6 117.2,384.2 117.8,387.5 114.5,387.5 114.4,387.2 115.1,383.5 114.4,379.9 115.1,376.6 114.4,373.0 115.1,369.7 114.4,365.7 115.2,362.8 114.3,358.5 115.2,355.5 114.3,351.2 115.3,348.2 114.3,343.6 115.3,340.6 114.2,335.7 115.5,332.7 114.1,327.4 114.2,326.5 115.2,325.1 114.7,324.1 114.7,278.3 115.0,277.3 114.3,276.3 114.1,275.3 115.5,270.0 114.2,266.7 115.3,262.1 114.3,258.8 115.3,254.5 114.3,251.2 115.2,247.3 114.3,244.0 115.2,240.0 114.4,236.7 115.1,233.1 114.4,229.8 115.1,225.8 114.4,222.8 115.1,218.9ZM124.1,215.9 123.9,217.2 124.6,220.2 123.9,223.8 124.6,227.1 123.9,230.8 124.6,234.1 123.9,237.4 124.6,240.7 123.8,244.3 124.6,247.6 123.8,251.2 124.7,254.5 123.7,258.1 124.7,261.4 123.7,265.4 124.8,268.7 123.7,272.0 124.3,272.0 124.3,330.4 123.8,330.7 124.8,334.0 123.7,337.0 124.7,341.0 123.7,344.3 124.7,348.2 123.8,351.2 124.6,354.8 123.8,358.1 124.6,361.8 123.9,365.1 124.6,368.7 123.9,372.0 124.6,375.6 123.9,378.9 124.6,382.2 123.9,385.5 124.3,387.5 121.3,387.5 121.8,385.2 121.1,381.9 121.8,378.3 121.1,374.6 121.8,371.7 121.1,367.7 121.8,364.7 121.1,360.8 121.9,357.8 121.0,353.8 121.9,350.9 121.0,346.9 122.0,343.6 120.9,339.7 122.1,336.4 120.9,332.1 122.0,329.8 121.4,329.1 121.4,273.7 121.9,273.0 120.9,270.4 122.1,266.1 121.0,263.1 122.0,258.8 121.0,255.8 121.9,251.9 121.0,248.6 121.9,244.9 121.1,241.6 121.8,238.0 121.1,234.7 121.8,231.1 121.1,227.8 121.8,224.5 121.1,220.9 121.8,217.6 121.5,215.9ZM130.6,215.9 131.3,219.5 130.6,222.8 131.3,226.5 130.6,229.4 131.3,233.1 130.6,236.4 131.3,239.7 130.5,243.0 131.3,246.3 130.5,249.9 131.4,253.2 130.5,256.5 131.4,259.8 130.4,263.4 131.4,266.7 130.4,270.0 131.0,270.4 131.0,332.4 130.4,332.7 131.4,336.0 130.4,339.0 131.4,342.6 130.5,345.9 131.4,349.6 130.5,352.9 131.3,356.2 130.5,359.5 131.3,363.1 130.6,366.4 131.3,369.7 130.6,373.0 131.3,376.3 130.6,379.6 131.3,383.2 130.6,386.2 130.8,387.5 128.3,387.5 128.4,385.9 127.8,382.9 128.5,379.6 127.8,376.0 128.5,372.7 127.8,369.4 128.5,366.1 127.8,362.4 128.6,359.1 127.8,355.8 128.6,352.5 127.7,348.9 128.6,345.6 127.7,342.0 128.7,338.7 127.6,335.0 128.7,332.4 128.1,331.7 128.1,270.7 128.7,270.4 127.6,267.7 128.7,263.8 127.7,260.8 128.6,256.8 127.7,253.9 128.6,250.2 127.8,246.9 128.6,243.3 127.8,240.3 128.5,236.7 127.8,233.4 128.5,229.8 127.8,226.8 128.5,223.2 127.8,219.9 128.4,215.9ZM135.3,215.9 137.2,215.9 138.1,219.2 137.2,222.5 138.1,226.1 137.2,229.1 138.1,232.7 137.2,236.0 138.1,239.3 137.1,242.6 138.2,245.9 137.1,249.2 138.2,252.9 137.0,256.2 138.3,259.5 137.0,262.8 138.4,266.1 136.9,269.4 137.7,269.7 137.7,332.7 136.9,333.1 136.9,333.4 138.4,336.7 137.0,340.0 138.3,343.3 137.0,346.6 138.2,349.9 137.1,353.2 138.2,356.5 137.1,359.8 138.1,363.4 137.2,366.7 138.1,370.0 137.2,373.3 138.1,376.6 137.2,379.9 138.1,383.5 137.2,386.5 137.3,387.5 135.1,387.5 135.2,386.2 134.5,383.5 135.2,379.9 134.5,376.3 135.3,373.3 134.5,369.7 135.3,366.7 134.5,363.1 135.3,359.8 134.4,356.5 135.3,353.2 134.4,349.9 135.4,346.6 134.4,343.0 135.4,340.0 134.4,336.4 135.5,333.1 134.8,332.7 134.8,269.7 135.5,269.4 134.4,266.4 135.4,262.8 134.4,259.5 135.4,256.2 134.4,252.9 135.3,249.6 134.4,245.9 135.3,242.6 134.5,239.3 135.3,236.0 134.5,232.7 135.3,229.4 134.5,225.8 135.2,222.5 134.5,219.2ZM142.3,215.9 143.7,215.9 145.0,219.5 143.6,222.8 144.9,225.5 145.0,226.5 143.6,229.4 145.1,233.1 143.5,236.0 145.1,239.7 143.3,243.0 144.9,245.6 145.1,246.6 143.0,249.6 144.7,251.9 145.2,253.2 144.6,254.5 142.9,255.9 141.3,254.2 140.8,252.9 141.2,251.5 142.8,249.6 141.2,247.3 140.9,245.9 142.5,243.0 140.9,239.3 142.4,236.0 141.0,232.7 142.3,229.4 141.0,225.8 142.2,222.5 141.2,220.2 141.1,218.9ZM148.9,215.9 150.6,215.9 150.3,216.9 151.7,220.2 150.3,223.5 151.6,227.1 150.3,230.4 151.6,234.1 150.3,237.0 151.6,240.7 150.4,244.0 151.5,247.6 150.5,250.9 151.4,254.5 150.6,257.8 151.4,261.4 150.7,264.7 151.4,268.7 150.7,272.0 151.1,273.7 151.1,329.1 150.7,330.7 151.4,333.7 150.7,337.7 151.4,341.0 150.6,344.9 151.4,348.2 150.5,351.9 151.5,355.2 150.4,358.8 151.6,361.8 150.3,365.4 151.6,368.7 150.3,372.3 151.6,375.3 151.5,376.3 150.3,378.9 151.7,382.2 150.3,385.9 151.1,387.5 148.4,387.5 149.0,385.9 147.6,382.9 149.1,379.3 147.8,376.9 147.6,376.0 149.1,372.3 147.5,369.4 149.1,365.7 147.5,362.8 149.0,359.1 147.6,355.8 148.9,352.2 147.6,348.9 148.8,345.3 147.7,342.3 148.7,338.3 147.8,335.0 148.7,331.4 148.2,330.4 148.2,272.3 148.7,271.3 147.8,267.4 148.7,264.1 147.7,260.5 148.8,257.2 147.6,253.5 148.9,250.6 147.6,246.9 149.0,243.6 147.5,240.0 149.1,237.0 147.6,233.4 147.8,232.4 149.1,230.1 147.6,226.5 149.1,223.5 147.6,219.9 147.8,218.9 149.0,216.9ZM155.1,215.9 158.0,215.9 157.2,218.2 158.1,221.5 157.3,224.8 158.1,228.4 157.3,231.7 158.1,235.4 157.4,238.7 158.0,242.3 157.4,245.9 158.0,249.9 157.4,253.2 158.1,257.2 157.4,260.5 158.1,264.7 157.4,268.0 158.1,272.3 157.3,276.0 157.7,280.6 157.7,324.5 157.3,326.8 158.1,330.1 157.4,334.7 158.1,338.0 157.4,342.3 158.0,345.3 157.4,349.6 158.0,352.5 157.4,356.8 158.1,360.1 157.4,363.7 158.1,367.0 157.3,370.7 158.1,374.0 157.3,377.6 158.2,380.9 157.2,384.5 158.2,387.5 154.6,387.5 155.5,384.9 154.4,381.9 155.5,378.3 154.5,375.0 155.4,371.3 154.5,368.0 155.4,364.4 154.6,361.1 155.3,357.5 154.6,354.2 155.3,350.2 154.6,347.2 155.3,343.0 154.6,339.7 155.3,335.7 154.6,332.4 155.3,328.1 155.0,326.5 155.0,280.9 155.0,276.0 155.4,274.6 154.6,270.4 155.3,266.7 154.6,263.1 155.3,259.5 154.6,255.5 155.3,252.2 154.6,248.6 155.3,245.3 154.6,241.6 155.4,238.3 154.5,234.7 155.4,231.4 154.5,227.8 155.5,224.5 154.4,220.9 155.5,217.9ZM161.4,215.9 164.7,215.9 164.7,216.6 164.1,219.9 164.7,223.5 164.1,227.1 164.7,230.8 164.1,234.1 164.7,238.3 164.1,241.3 164.7,245.6 164.1,248.9 164.7,252.9 164.0,256.5 164.7,260.8 164.0,264.4 164.8,269.0 163.9,273.0 164.8,278.6 163.9,282.9 164.4,286.9 164.4,310.9 164.3,315.9 163.9,319.9 164.8,324.1 163.9,329.8 164.8,333.4 164.0,338.3 164.7,342.0 164.0,346.3 164.7,349.6 164.1,353.8 164.7,357.1 164.1,361.1 164.7,364.4 164.1,368.4 164.7,371.7 164.1,375.6 164.7,378.9 164.1,382.6 164.7,385.5 164.5,387.5 161.3,387.5 161.3,387.2 162.0,383.2 161.3,379.9 162.0,376.3 161.4,373.0 162.0,369.4 161.4,366.1 162.0,362.4 161.4,358.8 162.0,354.5 161.4,351.5 162.1,347.2 161.4,343.9 162.1,339.7 161.3,336.0 162.2,331.4 161.3,327.8 162.2,321.8 161.7,319.9 161.7,310.6 161.7,282.6 162.1,280.6 161.3,275.0 162.1,271.3 161.3,266.4 162.1,263.1 161.4,258.8 162.0,255.5 161.4,251.2 162.0,247.9 161.4,244.0 162.0,240.3 161.4,236.7 162.0,233.4 161.4,229.4 162.0,226.1 161.3,222.5 162.0,219.2ZM168.7,215.9 170.8,215.9 171.4,218.9 170.7,222.5 171.4,226.5 170.7,229.8 171.4,233.7 170.7,237.0 171.4,241.3 170.7,244.6 171.4,249.2 170.7,252.5 171.4,257.5 170.5,260.8 171.4,266.1 170.5,270.0 171.5,276.3 170.5,280.6 171.5,291.1 170.2,302.4 171.2,308.3 171.5,311.6 170.4,321.5 171.5,326.5 170.3,332.7 171.4,336.4 170.6,341.6 171.4,345.3 170.7,349.9 171.4,353.5 170.7,357.8 171.4,361.4 170.7,365.4 171.4,369.0 170.7,372.7 171.4,376.3 170.7,379.9 171.4,383.5 170.7,387.5 168.7,387.5 168.1,384.9 168.7,381.2 168.1,377.6 168.7,373.6 168.1,370.3 168.8,366.4 168.1,363.1 168.8,358.8 168.1,355.5 168.8,351.2 168.1,347.6 168.9,343.0 168.1,339.3 169.0,334.0 168.1,330.7 169.0,324.1 168.0,319.5 168.8,311.9 169.2,304.0 169.0,291.5 168.0,283.2 169.0,278.3 168.0,272.3 168.9,268.4 168.1,263.1 168.9,259.8 168.1,254.8 168.8,251.5 168.1,247.3 168.8,243.6 168.1,239.7 168.8,236.4 168.1,232.1 168.7,228.8 168.1,224.8 168.7,221.5 168.1,217.6ZM177.8,215.9 177.3,218.2 178.0,222.2 177.3,225.5 178.0,230.1 177.1,233.1 178.0,237.7 176.9,240.7 178.1,245.6 177.3,249.2 178.1,254.5 177.2,257.8 178.1,263.1 177.3,267.4 178.1,274.3 177.1,278.3 178.1,290.2 177.5,297.1 176.6,301.0 176.3,300.9 175.8,298.7 175.8,290.5 174.8,281.6 174.9,279.6 176.0,276.6 174.8,269.7 175.6,265.4 174.8,260.1 175.6,256.5 174.8,251.5 175.6,247.9 174.8,243.0 175.8,240.0 174.8,235.7 175.6,232.4 174.8,228.1 175.5,224.8 174.8,220.5 175.5,217.6 175.4,215.9ZM184.4,215.9 184.7,217.6 184.0,221.5 184.7,226.1 184.0,229.4 184.7,234.1 184.3,235.4 183.5,236.2 182.5,235.1 181.6,232.1 182.3,228.4 181.6,224.2 182.3,220.5 181.6,216.9 181.6,215.9ZM189.1,215.9 191.1,215.9 190.7,217.9 191.4,222.2 190.7,225.8 191.4,230.8 190.7,234.1 191.4,239.3 190.6,243.0 191.4,248.2 190.6,252.2 191.5,258.5 190.6,262.8 191.5,270.4 190.3,275.0 191.2,282.6 191.5,288.2 190.2,302.7 191.1,308.3 191.5,314.2 190.6,327.1 191.5,332.4 190.6,340.0 191.5,344.3 190.6,350.5 191.4,354.2 190.6,359.8 191.4,363.4 190.7,368.4 191.4,372.0 190.7,376.9 191.4,380.2 190.7,384.9 191.3,387.5 188.8,387.5 189.0,385.5 188.3,382.6 189.0,377.9 188.3,374.3 189.0,369.7 188.3,366.1 189.1,361.1 188.3,357.1 189.1,352.2 188.2,347.9 189.1,342.0 188.2,337.3 189.3,330.1 188.4,326.1 188.2,323.8 189.0,315.6 189.1,307.9 189.6,303.0 189.0,298.1 189.3,289.5 188.2,278.6 188.4,276.3 189.4,273.3 188.2,265.1 189.1,260.8 188.2,254.5 189.1,250.6 188.3,245.3 189.1,241.3 188.3,236.7 189.0,232.7 188.3,228.4 189.0,224.5 188.3,220.2ZM195.1,215.9 197.7,215.9 198.1,218.5 197.4,222.5 198.1,227.5 197.4,230.8 198.1,236.4 197.4,240.0 198.1,245.6 197.4,249.6 198.1,256.2 197.3,260.5 198.2,268.4 197.1,273.7 198.2,286.5 197.0,302.7 197.7,308.0 198.2,315.6 197.2,329.4 198.1,334.4 197.3,342.0 198.1,346.6 197.4,352.9 198.1,357.1 197.4,362.4 198.1,366.7 197.4,371.7 198.1,375.3 197.4,379.9 198.1,383.9 197.5,387.5 195.2,387.5 195.0,386.2 195.7,381.6 195.0,377.6 195.7,373.0 195.0,369.0 195.7,364.1 195.0,360.1 195.7,354.8 195.0,350.5 195.8,344.3 195.0,339.3 196.0,331.4 195.1,327.6 194.9,325.5 195.8,315.9 196.1,303.4 195.7,298.1 196.0,289.2 194.9,277.3 195.9,271.7 194.9,263.1 195.8,258.5 195.0,252.2 195.7,247.9 195.0,242.3 195.7,238.3 195.0,233.4 195.7,229.4 195.0,225.1 195.7,221.2ZM202.3,215.9 204.8,215.9 204.1,219.2 204.8,224.5 204.1,227.8 204.8,233.4 204.1,237.0 204.8,243.0 204.1,247.3 204.8,253.9 204.1,258.5 204.8,266.7 203.9,273.0 204.6,280.5 204.8,286.2 203.8,302.7 204.8,315.9 204.6,322.2 203.9,330.7 204.8,335.7 204.1,343.9 204.8,348.6 204.1,355.5 204.8,359.5 204.1,365.4 204.8,369.4 204.1,374.6 204.8,378.3 204.1,383.5 204.8,387.5 202.0,387.5 202.4,384.9 201.7,381.2 202.4,376.3 201.7,372.0 202.4,367.0 201.7,362.8 202.4,357.5 201.7,352.9 202.4,346.6 201.7,341.3 202.6,332.7 201.6,327.1 202.5,316.2 202.7,303.4 202.3,297.7 202.7,289.2 201.7,276.0 202.5,269.4 201.7,261.1 202.4,256.2 201.7,249.6 202.4,245.3 201.7,239.7 202.4,235.7 201.7,230.1 202.4,226.5 201.7,221.5 202.4,218.2ZM208.9,215.9 210.8,215.9 211.5,220.9 210.8,224.8 211.5,230.4 210.8,234.7 211.5,240.3 210.8,244.9 211.5,251.5 210.8,256.8 211.5,265.1 210.7,272.0 211.5,284.5 210.6,302.7 211.5,317.5 210.6,331.7 211.5,337.7 210.8,345.9 211.5,350.9 210.8,357.5 211.5,362.1 210.8,368.0 211.5,372.3 210.8,377.3 211.5,381.6 210.9,387.5 209.0,387.5 208.4,384.5 209.1,379.3 208.4,375.0 209.1,370.0 208.4,365.4 209.1,359.8 208.4,355.2 209.1,348.6 208.4,343.3 209.2,334.0 208.4,327.8 209.2,316.6 209.4,303.4 209.0,297.7 209.4,288.8 208.4,274.6 209.1,267.7 208.4,259.1 209.1,254.2 208.4,247.3 209.1,243.0 208.4,237.0 209.1,232.7 208.4,227.5 209.1,223.5 208.4,218.5ZM215.2,215.9 217.9,215.9 218.2,217.9 217.5,222.2 218.2,228.1 217.5,232.1 218.2,238.3 217.5,242.6 218.2,249.9 217.5,254.8 218.2,263.8 217.5,271.3 218.2,284.5 217.3,302.7 218.2,318.2 217.3,332.4 218.2,339.0 217.5,347.6 218.2,352.9 217.5,359.8 218.2,364.4 217.5,370.3 218.2,374.6 217.5,380.2 218.2,384.2 217.8,387.5 215.1,387.5 215.8,382.2 215.1,377.6 215.8,372.7 215.1,368.0 215.8,362.1 215.1,357.5 215.8,350.5 215.1,344.9 215.8,336.4 215.1,328.8 215.9,316.2 215.8,308.0 216.0,303.0 215.7,297.7 216.1,289.2 215.1,273.7 215.8,266.4 215.1,257.5 215.8,252.2 215.1,245.3 215.8,240.3 215.1,234.7 215.8,230.1 215.1,224.8 215.8,220.5ZM222.5,215.9 224.8,215.9 224.2,219.5 224.9,225.5 224.2,229.4 224.9,236.0 224.2,240.7 224.9,247.9 224.2,253.2 224.9,262.1 224.2,269.0 224.9,283.9 224.0,302.7 224.9,318.9 224.1,333.1 224.9,340.3 224.2,349.6 224.9,354.8 224.2,362.1 224.9,366.7 224.2,373.0 224.9,376.9 224.2,383.2 224.9,387.5 222.2,387.5 222.4,384.5 221.8,380.9 222.5,375.3 221.8,370.7 222.5,364.1 221.8,359.8 222.5,352.2 221.8,346.9 222.5,338.0 221.8,329.1 222.7,316.2 222.4,308.0 222.7,303.0 222.4,297.7 222.8,288.8 221.8,272.0 222.5,265.1 221.8,255.8 222.5,250.2 221.8,243.0 222.5,238.3 221.8,231.7 222.5,227.8 221.8,221.8ZM229.1,215.9 229.1,223.7 228.5,219.2ZM44.2,222.8 43.6,227.2 43.6,219.6ZM229.1,226.1 229.1,234.4 228.5,229.4ZM43.6,230.4 44.2,233.4 43.6,238.5ZM229.1,237.2 229.1,246.5 228.5,241.0ZM182.5,237.9 183.2,237.7 183.5,238.1 184.5,240.6 184.7,242.3 183.9,245.3 184.8,250.9 183.9,254.8 184.8,260.8 183.9,264.7 184.8,272.3 183.7,276.3 184.6,283.9 184.8,289.5 184.1,297.7 183.2,302.2 182.4,298.7 182.6,290.2 181.5,279.9 181.7,277.9 182.7,275.0 181.5,267.4 182.4,263.1 181.5,257.5 182.4,253.5 181.5,247.9 182.6,244.6 181.6,239.7ZM43.6,242.3 44.3,245.6 43.6,251.5ZM229.1,249.7 229.1,260.9 228.5,254.2ZM43.6,256.2 44.3,260.1 43.6,268.1ZM142.9,256.6 143.6,257.2 145.1,259.8 144.6,261.3 142.9,262.5 141.2,260.8 140.7,259.5 141.0,258.5ZM142.6,263.6 143.6,263.9 145.0,266.4 144.8,267.7 143.3,269.4 141.9,268.4 140.6,266.4 140.8,265.4ZM229.1,265.3 229.1,282.7 228.5,271.0ZM141.6,270.3 142.9,270.0 144.2,270.6 144.4,271.0 144.4,331.7 143.6,332.3 142.3,332.6 141.5,332.4ZM44.3,281.2 43.9,301.4 44.3,320.5 43.6,327.2 43.6,275.4ZM229.1,297.0 229.1,298.3ZM183.2,303.7 184.2,307.0 184.8,313.3 183.9,325.5 184.8,330.4 183.9,337.7 184.8,341.6 183.9,347.6 184.8,351.5 183.9,356.8 184.7,360.1 183.9,365.1 184.7,368.7 184.0,373.3 184.7,376.6 184.0,381.2 184.7,384.5 184.2,387.5 181.8,387.5 181.6,385.9 182.3,381.9 181.6,378.6 182.3,374.3 181.6,370.7 182.3,366.4 181.5,362.8 182.4,358.1 181.5,354.2 182.4,349.2 181.5,345.3 182.4,339.7 181.5,335.4 182.5,328.4 181.5,322.5 182.3,314.6 182.5,307.3ZM176.6,304.7 177.6,307.0 178.1,312.6 177.2,323.5 178.1,329.1 177.1,335.0 178.1,339.3 177.2,344.9 178.1,348.6 177.3,353.5 178.1,356.8 177.3,361.8 178.1,365.1 177.3,369.4 178.0,372.7 177.3,377.3 178.0,380.2 177.3,384.5 178.0,387.5 175.1,387.5 175.5,385.2 174.8,381.9 175.5,377.9 174.8,374.6 175.5,370.3 174.8,367.0 175.6,362.8 174.8,359.1 175.6,354.8 174.8,351.2 175.7,346.3 174.8,342.6 175.7,336.7 174.8,333.1 175.7,326.5 174.8,321.2 175.9,307.2ZM229.1,320.9 229.1,337.3 228.5,331.4ZM143.3,333.2 144.4,334.4 145.0,336.0 144.2,337.8 142.9,339.1 141.2,337.7 140.5,336.4 141.0,335.4ZM43.6,334.7 44.3,342.3 43.6,346.5ZM142.6,340.3 143.3,340.1 143.9,340.6 145.1,342.6 144.5,344.3 142.9,345.9 141.4,344.6 140.7,343.3 141.1,342.0ZM229.1,341.7 229.1,352.9 228.5,348.6ZM142.9,346.7 143.6,347.0 145.2,349.2 144.8,350.5 143.1,353.2 144.8,355.2 145.2,356.2 143.3,359.8 145.1,362.8 144.9,363.7 143.5,366.4 145.1,369.7 143.6,373.0 145.0,376.3 143.7,379.6 145.0,383.2 143.7,386.2 144.0,387.5 141.9,387.5 142.1,386.2 141.1,383.5 142.2,379.9 141.1,377.3 141.1,376.3 142.3,373.3 141.1,370.7 141.0,369.7 142.4,366.4 141.1,364.1 140.9,363.1 142.5,359.8 141.1,357.5 140.9,356.5 141.4,355.2 142.8,353.2 141.1,350.9 140.8,349.9 141.3,348.6ZM43.6,351.2 44.3,357.1 43.6,360.4ZM229.1,356.1 229.1,365.4 228.5,361.8ZM44.2,369.0 43.6,372.3 43.6,364.1ZM229.1,368.2 229.1,376.5 228.5,373.0ZM43.6,375.6 44.2,379.9 43.6,383.1ZM229.1,378.9 229.1,386.7 228.5,383.5ZM43.6,385.9 43.9,387.5 43.6,387.5Z"/>
<path fill="#e4101e" fill-rule="evenodd" d="M48.2,215.9 50.7,215.9 49.8,221.2 50.7,225.8 49.8,231.7 50.6,234.7 50.7,236.4 49.8,243.3 50.7,247.9 49.7,256.5 50.6,260.1 50.8,262.1 49.6,274.6 50.6,279.9 50.8,283.2 50.4,301.4 50.8,320.2 49.6,327.8 50.8,340.3 50.7,342.3 49.7,345.9 50.7,354.5 50.6,356.2 49.8,359.5 50.7,366.4 49.8,371.0 50.7,376.9 49.8,381.2 50.7,387.5 48.1,387.5 47.6,383.9 48.5,379.9 47.6,373.3 48.5,369.4 47.6,361.8 48.5,357.5 47.5,348.9 48.6,343.6 47.5,331.7 48.7,324.5 47.8,301.4 48.7,277.9 47.5,270.4 48.6,258.8 47.5,253.5 48.5,245.3 47.6,240.7 48.5,233.4 47.6,229.1 48.5,223.2 47.6,218.9 47.9,216.3ZM55.1,215.9 56.9,215.9 57.4,218.2 56.5,223.8 57.4,228.1 56.5,234.1 57.4,238.3 56.4,245.3 57.5,249.9 56.4,258.1 57.4,261.8 57.5,263.8 56.3,276.0 57.4,280.9 57.6,284.2 57.2,301.0 57.5,319.5 56.3,326.8 57.5,339.0 57.3,341.0 56.4,344.3 57.5,352.9 56.5,357.1 57.4,364.4 56.5,368.4 57.4,374.6 56.5,378.6 57.4,384.2 56.6,387.5 55.1,387.5 54.3,381.2 55.2,377.3 54.3,371.0 55.2,366.7 54.3,359.8 55.3,355.5 54.2,347.2 55.3,342.3 54.2,331.1 54.4,328.4 55.4,323.8 54.5,301.4 55.4,278.6 54.4,274.3 54.2,271.7 55.3,260.5 54.2,255.5 55.3,246.9 54.3,242.6 55.2,235.7 54.3,231.7 55.2,225.5 54.3,220.9ZM63.5,215.9 63.3,217.9 64.1,221.2 63.2,226.8 64.1,229.6 64.1,231.1 63.2,236.7 64.1,239.5 64.1,241.0 63.1,247.3 64.2,251.9 63.1,260.1 64.1,263.3 64.2,265.4 62.9,277.0 64.1,281.5 64.3,284.2 63.9,301.0 64.3,318.9 64.0,321.2 62.9,325.5 64.2,337.3 64.1,339.3 63.1,342.6 64.2,350.9 63.1,355.2 64.2,362.1 63.2,366.1 64.1,372.0 63.2,376.0 64.1,381.2 63.3,384.9 63.6,387.5 61.0,387.5 61.9,383.9 61.0,377.9 61.9,374.6 61.0,368.4 61.9,364.7 60.9,357.8 62.0,353.5 60.9,345.3 62.1,340.6 60.9,329.1 62.2,323.2 61.4,310.9 61.2,301.4 61.4,291.8 62.2,279.3 61.1,275.4 60.9,273.3 62.1,261.8 60.9,257.2 62.0,248.9 60.9,244.9 61.9,238.0 61.0,234.1 61.9,228.1 61.0,224.5 61.8,218.9 61.1,215.9ZM68.0,215.9 70.8,215.9 69.9,220.5 70.8,224.5 69.9,229.4 70.8,233.4 69.9,239.0 70.9,243.3 69.8,249.6 70.9,253.9 69.7,261.8 70.7,264.7 70.9,266.7 69.6,278.3 70.7,282.2 71.0,285.2 70.5,301.4 71.0,318.0 70.7,320.7 69.6,324.1 70.9,336.0 70.8,337.7 69.7,340.6 70.9,348.9 69.8,352.9 70.9,359.5 69.9,363.4 70.8,369.0 69.9,373.0 70.8,378.3 69.9,382.2 70.8,387.5 68.2,387.5 67.7,384.5 68.6,380.9 67.7,375.3 68.6,372.0 67.7,365.7 68.6,362.1 67.6,355.5 68.7,351.5 67.6,343.6 68.8,339.0 67.5,328.1 67.8,326.1 68.8,323.5 68.9,322.2 68.0,309.3 67.9,301.4 68.0,293.3 68.9,280.3 67.7,276.3 67.5,274.3 68.8,263.4 67.6,259.1 68.7,251.2 67.6,246.9 68.6,240.7 67.7,236.7 68.6,230.8 67.7,227.1 68.6,221.8 67.7,218.2ZM75.3,215.9 76.7,215.9 77.5,218.5 76.6,223.8 77.5,227.5 76.6,232.4 77.5,236.4 76.5,241.6 77.6,245.6 76.5,251.9 77.5,254.8 77.6,256.2 76.4,263.8 77.5,266.7 77.7,268.4 76.2,279.9 77.5,283.2 77.7,286.2 77.3,301.0 77.7,317.5 77.3,319.9 76.2,322.8 77.7,334.4 77.5,336.0 76.4,338.7 77.6,346.6 77.5,347.9 76.5,350.5 77.6,357.1 76.5,360.8 77.5,366.4 76.6,370.0 77.5,375.3 76.7,378.6 77.5,383.9 76.7,387.5 75.0,387.5 75.2,385.9 74.4,381.6 75.3,377.9 74.4,372.3 75.3,369.0 74.4,363.1 75.4,359.5 74.3,353.2 75.4,349.2 74.3,341.6 75.5,337.3 74.2,326.8 74.6,324.5 75.8,321.5 74.8,311.3 74.6,301.4 74.8,291.5 75.8,280.9 74.5,277.9 74.2,275.6 75.5,265.1 74.5,262.4 74.3,260.8 75.4,253.2 74.5,250.6 74.3,249.2 75.4,243.0 74.4,239.3 75.3,233.7 74.4,230.1 75.3,224.8 74.4,220.9ZM81.2,215.9 84.0,215.9 83.4,218.9 84.2,222.2 83.3,227.1 84.2,230.8 83.3,235.7 84.3,239.3 83.2,244.6 84.3,248.2 83.1,254.5 84.2,257.1 84.3,258.5 83.0,265.7 84.2,268.4 84.4,270.0 82.5,281.2 81.2,279.2 80.9,277.0 82.3,266.7 81.2,264.5 81.0,263.1 82.2,255.5 81.0,252.2 82.1,245.6 81.0,242.3 82.0,236.7 81.1,233.1 82.0,228.1 81.1,224.8 81.9,219.9 81.2,217.2ZM88.8,215.9 90.3,215.9 90.9,218.2 90.0,222.5 90.9,226.1 90.0,230.4 90.9,234.1 90.0,238.7 91.0,242.3 89.9,247.6 90.8,249.9 91.0,251.2 89.8,257.2 90.9,259.5 91.0,260.8 89.6,268.0 90.8,270.0 91.1,272.0 89.8,279.8 89.1,281.9 88.1,280.9 87.6,278.6 87.8,275.4 89.1,268.7 87.9,266.4 87.6,265.1 88.9,258.1 87.7,254.5 88.8,248.6 87.7,244.9 88.7,239.7 87.8,236.4 88.7,231.4 87.8,228.1 88.7,223.5 87.8,219.9ZM94.7,215.9 97.4,215.9 96.8,218.9 97.6,221.8 96.7,226.5 97.6,230.1 96.7,234.1 97.6,237.7 96.6,242.3 97.7,245.6 96.6,250.6 97.7,254.2 96.5,259.8 97.6,262.1 97.8,263.4 96.2,270.4 97.6,272.3 97.8,274.0 96.4,281.5 95.7,283.0 94.6,281.9 94.2,279.9 94.7,276.3 96.0,270.7 94.7,269.0 94.3,267.4 95.7,260.5 94.6,258.5 94.4,257.2 95.5,251.5 94.4,248.2 95.5,243.0 94.5,239.7 95.4,235.0 94.5,231.7 95.4,227.1 94.5,224.2 95.3,219.5 94.6,216.9ZM102.0,215.9 103.5,215.9 104.3,218.9 103.5,223.2 104.3,226.5 103.4,230.4 104.3,233.8 103.4,238.0 104.4,241.3 103.3,245.9 104.4,249.2 103.2,253.9 104.3,256.4 104.4,257.5 103.1,262.8 104.3,264.7 104.5,266.1 104.0,268.6 102.7,272.4 101.3,271.2 101.0,269.7 102.4,263.4 101.1,260.1 102.3,254.8 101.1,251.5 102.2,246.6 101.1,243.3 102.1,238.7 101.2,235.4 102.1,231.1 101.2,227.8 102.0,223.8 101.2,220.5ZM108.3,215.9 110.9,215.9 111.0,216.6 110.2,220.5 111.0,224.2 110.2,227.5 111.0,231.1 110.1,234.7 111.0,238.0 110.1,242.0 111.0,245.6 110.0,249.6 111.1,252.9 109.9,257.5 111.0,259.8 111.1,260.8 109.7,265.7 110.9,267.7 111.2,269.0 110.6,271.8 109.3,274.7 108.0,273.7 107.7,272.3 109.2,266.4 107.7,263.4 109.0,258.1 107.8,254.8 108.9,250.2 107.8,247.3 108.8,242.6 107.9,239.7 108.8,235.4 107.9,232.1 108.7,228.1 107.9,224.8 108.7,221.2 107.9,217.9ZM114.9,215.9 117.5,215.9 116.9,218.5 117.7,221.5 116.9,225.5 117.7,228.8 116.9,232.4 117.7,235.7 116.8,239.3 117.7,242.6 116.8,246.6 117.7,249.9 116.7,253.9 117.8,257.2 116.6,261.4 117.9,264.4 116.3,269.4 117.6,271.0 117.9,272.3 117.0,275.6 117.3,276.0 117.3,326.5 116.8,326.5 117.9,330.4 117.7,331.4 116.3,333.4 117.9,338.0 117.7,339.0 116.6,341.3 117.8,345.6 116.7,348.9 117.7,352.9 116.8,356.2 117.7,359.8 116.8,363.1 117.7,367.0 116.9,370.3 117.7,374.0 116.9,377.3 117.6,380.6 116.9,384.2 117.6,387.5 114.7,387.5 114.7,387.2 115.4,383.9 114.7,379.6 115.4,376.9 114.6,373.0 115.4,369.7 114.6,365.7 115.5,362.8 114.6,358.8 115.5,355.5 114.5,351.5 115.6,348.2 114.5,343.9 115.7,340.6 114.4,336.0 114.8,334.7 116.0,333.1 114.8,329.8 114.3,327.4 114.5,326.4 115.4,325.5 115.0,324.5 115.0,277.9 115.3,277.3 114.5,276.0 114.3,275.0 116.0,269.7 114.7,267.7 114.4,266.7 115.7,261.8 114.5,258.8 115.6,254.2 114.5,251.2 115.5,246.9 114.6,244.0 115.5,240.0 114.6,236.7 115.4,232.7 114.6,229.8 115.4,225.8 114.7,222.8 115.4,218.9 114.7,216.2ZM121.8,215.9 123.8,215.9 123.6,217.2 124.3,220.2 123.6,223.8 124.3,227.5 123.6,230.8 124.4,234.1 123.6,237.4 124.4,241.0 123.5,244.3 124.4,247.6 123.5,251.2 124.5,254.5 123.4,258.5 124.5,261.8 123.3,265.7 124.6,268.7 123.4,272.0 124.0,272.3 124.0,330.4 123.3,330.4 124.6,334.0 123.2,337.0 124.5,341.0 123.4,344.3 124.5,347.9 123.5,351.2 124.4,354.8 123.5,358.1 124.4,361.8 123.6,365.1 124.4,368.7 123.6,372.0 124.3,375.3 123.6,378.6 124.3,382.2 123.6,385.5 124.0,387.5 121.5,387.5 122.1,385.2 121.3,381.9 122.1,378.6 121.3,374.6 122.1,371.7 121.3,367.7 122.1,364.7 121.3,361.1 122.2,357.8 121.3,353.8 122.3,350.9 121.2,346.9 122.3,343.9 121.2,339.7 122.5,336.7 121.1,332.4 121.3,331.4 122.3,329.8 121.7,329.1 121.7,273.3 122.3,272.7 121.3,271.3 121.1,270.4 122.4,266.1 121.2,262.8 122.3,258.8 121.2,255.8 122.2,251.9 121.3,248.6 122.2,244.9 121.3,241.6 122.1,238.0 121.3,234.7 122.1,231.1 121.3,227.8 122.1,224.2 121.3,220.9 122.1,217.6ZM128.7,215.9 130.4,215.9 131.1,219.5 130.3,222.8 131.1,226.5 130.3,229.8 131.1,233.1 130.3,236.4 131.1,239.7 130.2,243.0 131.1,246.6 130.2,249.9 131.1,253.2 130.2,256.8 131.2,259.8 130.1,263.4 131.2,266.7 130.1,270.0 130.7,270.4 130.7,332.4 130.1,332.7 131.2,336.0 130.1,339.0 131.2,342.6 130.2,345.9 131.1,349.6 130.2,352.9 131.1,356.2 130.2,359.5 131.1,363.1 130.3,366.1 131.1,369.7 130.3,373.0 131.1,376.3 130.3,379.6 131.1,383.2 130.4,386.2 130.5,387.5 128.5,387.5 128.7,385.9 128.1,382.9 128.8,379.6 128.0,376.0 128.8,372.7 128.0,369.0 128.8,366.1 128.0,362.4 128.9,359.5 128.0,355.8 128.9,352.5 128.0,348.9 129.0,345.6 127.9,342.0 129.0,339.0 127.9,335.0 129.0,332.4 128.4,331.7 128.4,270.7 129.1,270.4 127.9,267.7 129.0,263.8 127.9,260.5 129.0,256.8 128.0,253.9 128.9,250.2 128.0,246.9 128.9,243.3 128.0,240.0 128.8,236.7 128.0,233.4 128.8,229.8 128.0,226.5 128.8,223.2 128.1,219.9ZM135.7,215.9 136.9,215.9 137.8,219.2 136.9,222.5 137.8,226.1 136.9,229.1 137.9,232.7 136.8,236.0 137.9,239.3 136.8,242.6 137.9,245.9 136.7,249.2 138.0,252.9 136.7,256.2 138.1,259.5 136.5,262.8 138.2,266.1 136.4,269.4 137.4,269.7 137.4,332.7 136.4,333.1 138.2,336.7 136.5,340.0 138.1,343.3 136.7,346.6 138.0,349.9 136.7,353.2 137.9,356.5 136.8,359.8 137.9,363.4 136.8,366.7 137.9,370.0 136.9,373.3 137.9,376.6 136.9,379.9 137.8,383.5 137.0,386.5 137.1,387.5 135.4,387.5 135.5,386.5 134.7,383.5 135.5,379.9 134.7,376.6 135.6,373.3 134.7,370.0 135.6,366.7 134.7,363.1 135.6,359.8 134.7,356.5 135.7,353.2 134.6,349.9 135.8,346.6 134.6,343.0 135.9,340.0 134.6,336.4 136.0,333.1 135.1,332.7 135.1,269.7 136.0,269.4 134.9,267.4 134.6,266.1 135.9,262.8 134.6,259.5 135.8,256.2 134.6,252.9 135.7,249.6 134.7,245.9 135.6,242.6 134.7,239.3 135.6,236.0 134.7,232.7 135.6,229.1 134.7,226.1 135.5,222.5 134.7,219.2ZM142.6,215.9 143.3,215.9 144.7,219.5 143.1,222.8 144.6,225.3 144.8,226.5 144.2,227.6 142.9,229.2 141.9,227.9 141.2,226.1 141.5,224.8 142.7,222.8 141.3,219.2ZM150.2,215.9 149.5,216.2 149.2,215.9ZM157.7,215.9 156.8,217.9 157.9,221.5 156.9,224.8 157.9,228.4 157.0,231.7 157.9,235.4 157.1,238.7 157.8,242.6 157.1,245.9 157.8,249.2 157.1,252.9 157.8,257.2 157.1,260.5 157.8,264.4 157.1,267.7 157.9,272.3 157.0,275.6 157.5,277.9 157.5,280.9 157.5,324.5 157.0,326.8 157.9,330.4 157.0,334.7 157.8,338.0 157.1,342.3 157.8,345.6 157.1,349.6 157.8,352.5 157.1,356.8 157.8,360.1 157.1,363.7 157.9,367.0 157.0,371.0 157.9,374.0 156.9,377.9 157.9,380.9 156.8,384.5 157.9,387.5 154.9,387.5 155.9,384.9 154.7,381.9 155.8,377.9 154.7,375.0 155.7,371.3 154.7,368.0 155.7,364.4 154.8,361.1 155.6,357.1 154.8,354.2 155.6,350.2 154.9,346.6 155.6,343.0 154.9,339.7 155.6,335.4 154.8,332.1 155.7,327.8 155.2,326.5 155.2,280.9 155.2,276.3 155.7,274.6 154.8,270.4 155.6,267.1 154.9,263.1 155.6,259.5 154.9,255.8 155.6,252.5 154.8,248.6 155.6,245.3 154.8,241.6 155.7,238.3 154.7,234.7 155.8,231.4 154.7,227.8 155.8,224.5 154.6,220.9 155.9,217.9 155.2,215.9ZM161.7,215.9 164.4,215.9 164.5,216.6 163.7,219.9 164.5,223.5 163.8,226.8 164.5,230.4 163.8,234.1 164.4,238.3 163.8,241.3 164.5,245.3 163.8,248.6 164.5,252.9 163.7,256.2 164.5,260.8 163.6,264.1 164.5,269.0 163.4,272.3 164.5,278.3 163.5,282.2 164.0,286.2 164.1,310.9 164.0,316.2 163.4,320.2 164.5,324.1 163.4,330.4 164.5,333.7 163.6,338.7 164.5,342.0 163.6,346.6 164.5,349.9 163.8,353.8 164.5,357.1 163.8,361.4 164.5,364.7 163.8,368.7 164.5,371.7 163.8,375.6 164.5,378.9 163.7,382.9 164.5,385.5 164.3,387.5 161.6,387.5 161.5,386.8 162.4,383.2 161.6,379.9 162.3,376.3 161.6,373.0 162.3,369.0 161.6,365.7 162.3,362.1 161.6,358.5 162.3,354.5 161.6,351.2 162.4,347.2 161.6,343.9 162.4,339.3 161.6,335.7 162.6,331.1 161.6,327.4 162.6,321.2 162.0,319.5 162.0,310.9 162.0,283.2 162.6,280.9 161.6,275.3 162.6,271.7 161.6,266.7 162.5,263.1 161.6,258.8 162.4,255.5 161.6,251.5 162.3,247.9 161.6,244.0 162.3,240.7 161.6,237.0 162.3,233.4 161.6,229.8 162.3,226.5 161.6,222.8 162.4,219.5ZM169.0,215.9 170.5,215.9 171.1,218.9 170.3,222.2 171.1,226.5 170.3,229.4 171.1,233.7 170.3,237.0 171.1,241.3 170.3,244.6 171.1,248.9 170.3,252.2 171.1,257.2 170.6,258.8 169.7,259.7 168.3,255.2 169.2,251.9 168.4,247.3 169.2,244.0 168.4,239.7 169.2,236.4 168.4,232.4 169.2,229.1 168.4,225.1 169.1,221.8 168.4,217.9ZM175.9,215.9 177.4,215.9 176.8,217.9 177.7,221.8 176.7,225.1 177.7,229.8 177.2,231.1 176.6,231.8 175.9,231.2 175.2,228.4 175.3,227.1 176.1,224.8 175.2,220.9 176.1,217.6ZM182.2,215.9 184.0,215.9 184.2,216.6 184.2,218.9 183.2,220.5 182.0,217.6 181.9,216.2ZM189.5,215.9 190.5,215.9 189.8,216.6ZM195.4,216.1 197.3,215.9 197.4,216.2 197.7,219.0 196.7,221.2 195.7,219.0ZM202.7,215.9 204.4,215.9 203.3,218.1ZM209.6,215.9 210.1,215.9 210.2,216.2 211.1,220.5 210.9,222.2 209.9,223.8 208.8,218.9 208.9,217.3ZM215.5,215.9 217.6,215.9 217.8,218.5 216.8,221.0 216.5,220.9 216.2,219.6ZM222.8,215.9 224.4,215.9 223.5,218.5 224.4,223.5 224.5,225.5 223.5,228.8 224.5,235.7 223.4,239.1 222.2,232.7 222.5,230.4 223.4,228.4 222.2,222.5 222.5,220.3 223.3,218.5ZM149.5,217.0 150.8,218.5 151.4,220.2 151.1,221.5 149.9,223.0 149.5,222.9 148.5,221.6 147.8,219.9 148.2,218.6ZM189.8,217.7 190.4,219.0 191.1,221.8 190.8,223.4 190.1,224.5 189.8,224.5 189.5,223.8 188.6,220.5 188.8,219.2ZM229.1,218.1 229.1,221.5ZM203.0,218.9 203.3,218.9 203.6,219.8 204.4,223.5 204.2,225.1 203.3,226.7 202.3,223.8 202.1,221.8 202.3,220.2ZM44.0,222.8 43.6,226.1 43.6,220.6ZM216.5,221.4 217.2,223.3 217.8,227.1 217.6,229.1 216.8,230.6 216.2,229.1 215.5,225.1 215.6,223.5ZM183.2,221.6 183.5,222.2 184.4,225.5 184.2,226.8 183.2,228.2 181.9,224.5 182.2,222.8ZM196.4,222.2 197.0,223.4 197.7,226.5 197.6,228.1 196.7,229.6 196.1,228.5 195.3,225.1 195.6,223.5ZM149.2,224.1 149.9,223.9 150.2,224.3 151.4,226.8 151.2,228.1 149.9,229.7 148.9,228.9 147.8,226.8 148.1,225.5ZM209.9,224.5 210.9,228.0 211.1,230.1 210.9,231.7 209.9,233.1 208.8,227.8 209.0,226.1ZM189.8,225.8 190.4,227.1 191.1,229.8 190.9,231.4 190.1,232.7 189.8,232.7 189.5,232.0 188.6,228.8 188.8,227.1ZM203.0,227.7 203.3,227.7 203.6,228.6 204.4,232.4 204.3,234.1 203.3,235.7 202.1,230.8 202.3,229.1ZM229.1,228.4 229.1,232.1ZM142.9,229.6 144.3,231.4 144.8,233.1 144.2,234.4 142.9,235.6 141.8,234.4 141.2,232.7 141.6,231.3ZM183.2,229.6 183.5,230.2 184.2,232.7 184.2,234.2 183.5,234.9 182.6,234.1 182.1,232.4 182.1,231.1ZM149.5,230.6 150.5,231.6 151.4,233.7 151.2,234.9 149.9,236.6 148.5,235.2 147.8,233.4 148.2,232.1ZM196.4,230.8 197.0,232.0 197.8,235.4 197.6,237.0 196.7,238.5 196.1,237.2 195.3,233.7 195.6,232.1ZM43.6,231.4 44.0,233.7 43.6,237.4ZM216.5,231.3 217.2,233.2 217.8,237.4 217.6,239.3 216.8,241.0 216.2,239.4 215.5,235.0 215.7,233.1ZM176.3,233.7 176.9,234.6 177.6,237.0 177.2,238.3 176.6,238.9 175.9,238.3 175.2,236.0 175.5,234.4ZM189.8,234.1 190.1,234.6 191.1,238.3 190.9,240.0 190.1,241.3 189.5,240.5 188.7,237.4 188.7,235.7ZM209.9,234.1 210.2,234.9 211.1,239.7 210.9,241.7 210.2,243.1 209.9,243.2 208.8,237.7 208.9,235.8ZM142.9,236.6 144.2,238.1 144.9,239.7 144.2,241.1 142.9,242.2 141.6,240.8 141.1,239.3 141.6,237.9ZM203.0,237.0 203.3,237.0 203.6,238.0 204.4,242.3 204.2,244.3 203.3,245.5 202.7,243.7 202.0,240.0 202.3,238.1ZM149.2,237.6 149.9,237.4 150.2,237.8 151.3,240.3 151.2,241.6 149.9,243.9 147.8,240.3 148.1,239.0ZM182.5,239.2 182.9,239.0 183.5,239.4 184.2,241.0 184.2,242.6 183.5,243.6 182.9,243.0 182.2,241.0ZM229.1,239.6 229.1,243.8ZM196.4,239.8 197.0,241.1 197.8,244.9 197.4,246.9 196.7,247.9 196.1,246.6 195.3,243.0 195.5,241.3ZM223.1,239.8 223.4,239.8 223.8,241.4 224.5,246.6 224.3,248.9 223.4,251.1 222.2,243.6 222.5,241.3ZM176.3,241.6 177.2,243.2 177.7,245.3 177.5,246.6 176.6,248.6 177.7,254.2 176.6,256.9 175.6,254.4 175.1,251.9 175.3,250.5 176.2,248.2 175.2,243.3 175.6,242.0ZM216.5,242.0 217.2,244.0 217.8,248.6 217.6,250.9 216.8,252.8 216.2,250.9 215.5,245.9 215.6,244.0ZM189.8,242.9 190.4,244.3 191.1,247.6 190.9,249.2 190.1,250.5 189.5,249.6 188.6,245.6 188.9,244.0ZM44.0,246.3 43.6,250.3 43.6,243.3ZM142.6,243.6 143.6,244.0 144.9,246.3 144.5,247.6 142.9,248.8 141.9,248.0 141.1,246.3 141.4,244.9ZM149.5,244.0 149.9,244.0 150.8,245.8 151.3,247.6 150.1,250.9 151.2,254.5 150.3,257.8 151.2,261.4 150.3,264.7 151.2,268.7 150.3,272.0 150.8,273.3 150.8,329.1 150.3,330.7 151.2,334.0 150.3,338.0 151.2,341.0 150.3,344.9 151.2,348.2 150.1,351.9 151.3,355.2 149.9,358.7 149.5,358.7 148.3,357.1 147.8,355.8 149.3,352.2 147.9,348.9 149.2,345.3 148.0,342.0 149.0,338.3 148.0,335.0 149.0,331.4 148.9,330.6 148.5,330.4 148.5,272.3 149.0,271.3 148.0,267.4 149.0,264.4 148.0,260.5 149.1,257.5 147.9,253.5 149.4,250.6 147.8,246.9 148.0,245.9ZM209.9,244.4 211.1,250.9 210.9,253.0 210.2,254.5 209.9,254.4 209.6,253.3 208.8,247.9 209.0,245.9ZM182.9,246.2 183.5,246.7 184.4,250.6 184.1,252.2 183.2,253.2 182.2,250.6 181.9,248.6 182.1,247.3ZM203.0,247.0 203.3,247.1 203.6,248.1 204.5,252.9 204.3,254.8 203.3,256.4 202.0,250.2 202.3,248.2ZM196.4,249.5 197.0,251.0 197.8,255.2 197.5,257.2 196.7,258.5 196.1,256.9 195.3,252.9 195.5,250.9ZM142.6,250.4 143.3,250.5 143.9,251.1 144.9,253.2 144.2,254.6 142.9,255.4 141.6,254.3 141.0,252.9 141.5,251.5ZM189.8,252.3 190.1,252.8 191.1,257.2 190.9,259.1 190.1,260.6 189.5,259.5 188.6,255.5 188.8,253.5ZM223.1,252.2 223.4,252.4 223.8,254.1 224.5,260.5 224.4,263.4 223.4,266.0 222.2,256.8 222.4,254.2ZM229.1,252.6 229.1,257.7ZM216.5,254.1 217.2,256.5 217.8,262.1 217.6,265.1 216.8,267.1 216.2,264.7 215.5,258.5 215.6,256.2ZM182.9,255.0 183.5,255.8 184.4,259.8 184.2,261.8 183.5,262.9 183.2,262.9 182.9,262.3 181.9,258.1 182.1,256.2ZM209.6,256.3 209.9,256.2 210.2,257.2 211.1,263.4 211.0,266.4 210.2,268.3 209.9,268.1 209.6,266.7 208.8,260.8 208.9,258.1ZM43.6,257.5 44.1,260.8 43.6,266.5ZM142.9,257.2 143.6,257.5 144.9,259.8 144.5,261.1 143.3,262.1 142.3,261.7 140.9,259.8 141.3,258.5ZM176.3,257.6 177.2,260.0 177.8,262.8 177.6,264.4 176.6,266.2 175.6,263.2 175.1,260.5 175.4,259.1ZM203.0,258.3 203.6,259.6 204.5,265.4 204.3,268.0 203.6,269.6 203.3,269.6 202.0,261.8 202.3,259.5ZM196.4,260.4 197.0,262.1 197.8,267.1 197.5,270.0 196.7,270.8 196.1,269.1 195.3,263.8 195.5,261.8ZM169.7,260.6 170.6,263.0 171.1,265.7 170.6,267.8 169.7,269.0 168.4,263.4 168.7,261.9ZM189.8,262.8 190.4,264.7 191.1,269.0 190.8,271.3 190.1,272.0 189.2,270.0 188.6,266.1 188.8,263.9 189.5,262.8ZM142.6,264.0 143.3,264.0 143.9,264.6 144.8,266.4 144.6,267.6 143.3,268.9 141.9,268.1 140.8,266.4 141.3,265.1ZM182.9,265.0 183.5,266.0 184.4,270.4 184.2,272.7 183.5,273.5 182.5,271.7 181.9,268.4 182.0,266.4ZM176.3,266.7 176.9,268.4 177.7,272.7 177.6,274.5 176.9,275.5 175.9,273.9 175.1,270.4 175.3,268.7ZM223.1,267.7 223.7,270.0 224.5,279.3 224.4,284.7 223.8,287.3 223.4,287.0 222.8,283.9 222.3,276.3 222.4,270.4ZM216.5,269.2 217.8,280.6 217.8,284.5 217.2,287.6 216.8,287.5 216.2,284.9 215.6,277.0 215.7,272.0ZM229.1,269.1 229.1,275.8ZM169.7,269.5 171.1,275.6 170.8,277.3 170.0,278.6 169.3,277.2 168.4,272.7 168.7,270.9ZM141.9,270.3 142.9,270.2 144.1,270.7 144.1,331.7 142.3,332.5 141.8,332.4ZM209.6,271.6 210.6,275.7 211.1,281.2 211.0,286.2 210.6,288.0 210.2,288.1 209.3,283.7 208.8,278.3 208.9,274.0ZM102.7,273.3 103.0,273.1 104.0,274.0 104.6,276.0 103.3,282.1 102.3,284.3 101.7,284.0 101.2,283.2 100.9,281.2 101.3,278.1ZM203.0,273.6 204.0,277.1 204.4,281.9 204.3,286.7 203.6,288.7 202.7,284.9 202.1,278.6 202.2,275.0 202.7,273.7ZM196.1,275.0 196.5,275.3 197.0,276.9 197.7,282.2 197.7,286.5 197.0,289.5 196.1,286.0 195.4,280.3 195.4,276.6ZM109.6,275.8 110.8,276.6 111.3,277.9 110.4,282.6 110.6,282.9 110.4,320.2 111.3,324.5 110.9,325.9 109.6,326.8 108.3,323.4 107.5,319.2 107.6,318.2 108.4,316.6 108.5,286.2 107.7,284.5 107.5,283.2 108.3,279.2ZM189.1,276.5 189.8,276.5 190.1,277.2 190.9,281.9 191.1,286.5 190.4,290.5 189.8,288.7 188.8,282.9 188.6,278.6ZM44.1,282.6 43.7,301.4 44.1,319.5 43.6,325.2 43.6,277.4ZM182.9,277.6 183.6,278.9 184.3,284.9 184.2,289.9 183.5,292.1 181.8,281.2 182.0,278.6ZM175.9,279.1 176.6,279.5 176.9,280.5 177.6,285.9 177.6,290.5 176.9,293.5 175.1,282.9 175.3,280.3ZM169.7,280.2 170.6,284.5 171.1,289.2 170.9,292.8 170.0,295.8 168.3,283.9 168.7,281.4ZM82.9,281.9 84.0,283.6 84.4,285.9 84.0,301.4 84.4,315.9 84.2,318.5 82.9,320.8 82.5,320.1 81.7,313.3 81.3,301.4 81.8,289.2 82.5,282.5ZM89.8,283.5 90.8,284.8 91.2,286.9 90.6,301.4 91.2,314.9 90.9,317.5 89.8,319.1 89.5,319.0 89.1,317.9 88.5,312.8 88.0,301.4 88.5,289.8 89.1,284.7 89.5,283.6ZM96.4,285.0 97.4,285.7 97.9,287.8 97.4,301.4 97.9,314.2 97.5,316.6 96.4,317.6 95.7,315.9 95.1,311.0 94.6,301.4 95.1,291.6 95.7,286.7ZM103.3,286.5 104.4,287.5 104.7,289.5 104.1,301.4 104.7,313.6 104.3,315.3 103.3,316.1 102.7,315.3 102.0,311.9 101.3,301.4 102.0,290.7 102.7,287.3ZM170.0,307.7 170.3,307.8 170.9,309.6 171.1,313.6 170.3,319.4 169.7,321.9 169.3,322.0 168.5,320.5 168.4,318.5 169.3,310.3ZM176.6,309.0 176.9,308.7 177.4,310.0 177.8,314.2 177.2,319.4 176.3,323.8 175.4,322.5 175.1,320.5ZM183.5,309.2 184.3,311.9 184.4,316.2 183.8,322.5 182.9,325.5 182.1,324.1 181.8,321.8 182.9,311.9ZM223.4,309.4 224.0,312.3 224.5,322.5 224.1,328.6 223.1,333.2 222.5,331.9 222.2,327.8 222.5,322.5 223.4,316.2ZM190.1,309.7 190.9,312.3 191.0,317.9 190.4,324.2 189.9,326.8 189.5,327.0 188.7,325.5 188.6,322.8ZM216.8,309.7 217.3,312.3 217.8,322.5 217.2,329.3 216.5,331.6 216.2,331.7 215.6,329.8 215.5,327.1 216.6,315.9 216.5,312.3ZM196.7,310.0 197.0,310.2 197.5,312.3 197.7,318.9 197.3,324.8 196.4,328.3 195.6,327.4 195.3,324.5ZM203.6,310.1 204.1,312.6 204.4,321.5 203.8,327.4 203.0,329.4 202.2,328.1 202.0,325.1 203.0,315.9 203.1,312.3 203.3,310.4ZM210.2,310.0 210.7,312.6 211.1,322.2 210.6,327.9 210.1,329.8 209.6,330.5 208.9,329.3 208.7,326.1 209.8,316.2 209.9,310.9ZM102.0,318.4 102.7,318.6 103.0,319.4 104.5,326.1 104.3,328.1 103.0,329.5 102.7,329.3 102.0,327.2 100.9,321.8 101.0,319.7ZM95.4,319.7 96.1,320.0 96.4,321.1 97.8,328.8 97.5,330.4 96.2,332.4 97.8,339.3 97.6,340.6 96.5,343.0 97.7,348.6 96.6,351.9 97.7,357.1 96.6,360.4 97.6,365.1 96.7,368.4 97.6,372.7 96.7,376.3 97.6,380.2 96.8,383.9 97.6,387.5 94.6,387.5 94.5,386.5 95.3,383.2 94.5,378.3 95.4,375.3 94.5,370.7 95.4,367.7 94.5,362.8 95.5,359.5 94.4,354.5 95.5,351.2 94.4,345.3 95.7,342.0 94.3,335.4 94.7,333.7 96.0,332.1 94.7,326.5 94.2,322.5 94.5,320.8ZM89.1,320.6 89.5,321.3 91.1,330.7 90.9,332.4 89.6,334.7 91.0,342.0 90.8,343.3 89.8,345.6 91.0,351.5 89.9,355.2 91.0,360.4 90.0,363.7 90.9,368.7 90.0,372.0 90.9,376.6 90.1,379.9 90.9,384.5 90.1,387.5 88.6,387.5 87.8,382.9 88.7,379.3 87.8,374.3 88.7,371.3 87.8,366.1 88.7,362.8 87.7,357.5 88.8,354.2 87.7,348.2 88.9,344.6 87.6,337.3 89.1,333.7 87.8,327.2 87.6,323.8 87.9,322.2ZM82.5,321.4 84.4,332.7 84.2,334.2 83.0,336.7 84.3,344.3 84.2,345.5 83.1,348.2 84.3,354.2 83.2,358.1 84.3,363.4 83.3,367.0 84.2,372.0 83.3,375.6 84.2,379.9 83.4,383.9 84.1,387.5 81.2,387.5 81.1,386.5 81.9,382.9 81.1,377.9 82.0,374.6 81.1,369.4 82.0,366.1 81.0,360.4 82.1,356.8 81.0,350.5 82.2,346.9 81.0,339.7 81.2,338.1 82.3,335.7 80.9,325.5 81.2,323.4ZM170.0,323.7 171.0,325.5 171.1,327.4 170.3,330.9 169.7,332.2 169.3,332.3 168.5,331.1 168.4,329.4 169.3,324.9ZM229.1,325.5 229.1,332.3ZM176.6,326.3 176.9,326.3 177.5,327.4 177.7,329.4 177.2,332.2 176.3,334.7 175.5,334.0 175.2,332.4ZM108.9,328.0 109.6,328.2 109.9,329.0 111.2,333.7 110.9,334.9 109.7,336.7 111.1,342.0 109.9,345.3 111.1,349.6 110.0,352.9 111.1,357.1 110.1,360.4 111.0,364.4 110.1,367.7 111.0,371.7 110.2,375.0 111.0,378.6 110.2,382.2 110.9,385.5 110.7,387.5 108.5,387.5 107.9,385.2 108.7,381.6 107.9,377.6 108.7,374.6 107.9,370.3 108.8,367.4 107.9,363.1 108.8,359.8 107.8,355.5 108.9,352.2 107.8,347.6 109.0,344.6 107.7,339.3 107.9,338.3 109.2,336.4 107.7,330.4 107.9,329.1ZM183.5,328.6 184.2,329.8 184.3,332.1 183.5,336.6 182.9,337.6 182.1,336.4 181.9,334.4 182.9,329.8ZM102.7,330.2 103.0,330.8 104.5,336.7 104.3,337.7 103.1,340.0 104.4,345.3 104.3,346.3 103.2,348.6 104.4,353.5 103.3,356.8 104.4,361.4 103.4,364.4 104.3,368.7 103.4,372.0 104.3,376.3 103.5,379.3 104.3,383.5 103.5,386.5 103.6,387.5 101.7,387.5 102.0,385.9 101.2,382.2 102.0,378.9 101.2,374.6 102.1,371.3 101.2,367.0 102.1,363.7 101.1,359.1 102.2,356.2 101.1,351.2 102.3,347.9 101.1,342.6 101.3,341.3 102.4,339.3 101.0,332.7 101.3,331.4ZM190.1,330.8 190.8,331.5 191.1,333.7 190.7,336.7 189.8,339.9 189.5,339.8 188.8,338.7 188.6,336.7 189.1,333.4ZM196.7,332.6 197.0,332.5 197.5,333.4 197.8,335.7 197.0,340.5 196.4,342.2 195.5,340.6 195.3,338.7 195.7,335.3ZM143.3,333.7 144.4,334.7 144.8,336.0 144.2,337.5 142.9,338.7 141.4,337.7 140.8,336.4 141.9,334.5ZM203.3,333.9 204.0,334.1 204.3,335.0 204.5,337.3 203.6,342.9 203.0,344.3 202.3,343.0 202.0,340.6 202.7,335.7ZM169.7,334.6 170.0,334.5 170.6,335.0 171.1,336.7 170.0,342.3 171.1,345.6 170.2,350.2 171.1,353.5 170.3,358.1 171.1,361.4 170.3,365.7 171.1,369.0 170.3,373.0 171.1,376.3 170.3,380.2 171.1,383.9 170.3,387.5 169.1,387.5 168.4,384.9 169.1,380.9 168.4,377.3 169.2,373.6 168.4,370.0 169.2,366.4 168.4,362.8 169.2,358.8 168.4,355.2 169.2,350.9 168.4,347.2 169.5,342.6 168.6,340.6 168.3,339.0 168.8,336.7ZM209.9,335.0 210.2,334.8 210.8,335.7 211.2,338.3 210.9,341.6 209.9,346.4 209.1,345.3 208.7,343.0 209.3,337.9ZM216.8,335.6 217.6,337.3 217.8,340.3 217.2,346.1 216.5,348.5 215.7,346.6 215.5,344.3 216.2,337.9ZM44.1,342.0 43.6,345.1 43.6,336.1ZM223.4,336.6 224.3,339.0 224.5,342.0 223.8,348.5 223.4,350.2 223.1,350.4 222.4,348.6 222.2,345.9ZM176.6,336.9 177.6,338.2 177.8,340.0 177.2,342.8 176.3,344.7 175.4,343.6 175.1,342.0 175.9,338.1ZM183.2,339.7 183.5,339.7 184.2,340.7 184.4,342.6 183.5,346.8 182.9,347.6 182.1,346.6 181.9,344.9 182.2,342.6ZM142.9,340.5 144.2,341.2 144.9,342.6 144.2,344.3 142.9,345.5 141.6,344.6 140.9,343.3 141.6,341.6ZM189.8,342.2 190.1,342.0 190.8,342.9 191.1,344.9 190.7,347.6 189.8,350.3 188.8,349.2 188.6,347.6ZM196.7,344.1 197.6,345.6 197.8,347.6 197.0,351.6 196.4,353.1 195.6,351.9 195.3,349.9 196.1,345.7ZM229.1,344.9 229.1,350.0ZM203.3,346.2 204.2,347.6 204.4,349.9 203.6,354.5 203.3,355.5 203.0,355.6 202.2,354.2 202.0,352.2ZM176.6,346.3 177.2,346.9 177.8,348.6 176.6,353.8 177.7,357.1 176.7,362.1 177.7,365.1 176.7,369.7 177.7,373.0 176.7,377.3 177.7,380.2 176.8,384.9 177.7,387.5 175.5,387.5 176.1,385.2 175.3,382.9 175.2,381.6 176.1,377.6 175.3,375.5 175.1,374.3 176.1,370.0 175.3,368.0 175.1,366.7 176.2,362.4 175.1,359.1 176.2,354.2 175.3,352.2 175.1,350.9 175.6,348.3ZM142.9,347.2 144.2,348.0 144.9,349.6 144.2,351.1 142.9,352.3 141.6,351.3 141.0,349.9 141.6,348.3ZM209.9,348.2 210.2,348.1 210.9,349.6 211.1,351.5 210.9,354.2 209.9,358.1 209.1,356.8 208.8,354.8ZM183.2,349.4 184.2,350.5 184.4,352.2 183.5,355.9 182.9,356.6 182.1,355.5 181.9,353.8 182.5,350.8ZM216.8,349.9 217.6,351.5 217.8,353.8 217.2,358.6 216.5,360.6 215.7,358.8 215.5,356.8 216.2,351.7ZM223.4,351.4 224.3,353.5 224.5,355.8 223.8,361.2 223.4,362.8 223.1,362.8 222.4,361.1 222.2,358.8ZM190.1,352.1 190.8,353.2 191.1,355.2 190.4,358.3 189.8,359.7 188.8,358.5 188.6,356.8 189.5,353.0ZM43.6,352.5 44.1,356.8 43.6,359.3ZM142.9,353.8 144.2,354.8 144.9,356.2 144.2,357.8 142.9,359.1 141.6,358.0 141.1,356.5 141.6,355.1ZM196.7,354.7 197.5,355.8 197.8,357.8 197.0,361.5 196.4,362.8 195.6,361.4 195.3,359.8 196.1,356.0ZM203.3,357.1 204.2,358.5 204.4,360.4 203.6,364.6 203.3,365.6 203.0,365.6 202.3,364.4 202.1,362.4ZM183.2,358.2 184.2,359.4 184.4,360.8 183.5,364.4 183.2,365.0 182.9,365.0 182.2,364.1 181.9,362.4 182.5,359.5ZM229.1,358.8 229.1,363.0ZM149.5,359.0 149.9,358.9 150.8,360.3 151.4,361.8 150.8,363.6 149.5,365.3 148.2,363.7 147.8,362.4ZM209.9,359.5 210.2,359.5 210.9,360.9 211.1,362.8 209.9,368.6 209.0,367.0 208.8,365.4ZM142.9,360.4 144.4,361.8 144.9,363.1 144.2,364.5 142.9,366.0 141.9,365.1 141.1,363.4 141.6,361.8ZM189.8,361.4 190.4,361.7 191.1,363.7 190.8,365.9 189.8,368.5 188.9,367.4 188.6,365.7ZM216.8,361.6 217.6,363.4 217.8,365.4 217.2,369.4 216.5,371.3 215.7,369.7 215.5,367.7 216.2,363.2ZM223.4,363.5 224.1,364.9 224.5,367.0 223.5,374.0 224.5,377.3 224.4,379.6 223.5,383.9 224.5,387.5 222.5,387.5 223.3,384.2 222.5,382.3 222.2,380.6 223.4,374.0 222.5,372.2 222.2,369.7ZM196.7,364.1 197.5,365.4 197.8,367.0 197.0,370.6 196.4,371.8 195.5,370.3 195.3,368.7 196.1,365.4ZM43.6,365.4 44.0,369.0 43.6,371.2ZM149.9,366.0 151.2,367.7 151.4,369.0 150.5,371.0 149.5,372.0 148.2,370.6 147.8,369.4 148.5,367.4ZM183.2,366.4 184.2,367.7 184.4,369.0 184.1,370.7 183.2,373.2 182.2,372.1 181.9,370.7 182.2,368.8ZM142.9,367.0 144.2,368.3 144.8,369.7 144.4,371.0 142.9,373.0 141.6,371.3 141.2,370.0 141.6,368.5ZM203.3,366.8 204.2,368.4 204.4,370.0 203.6,374.0 203.3,374.9 203.0,374.9 202.2,373.3 202.1,371.7ZM209.9,369.5 210.9,371.0 211.1,372.7 209.9,378.2 209.0,376.6 208.8,375.0ZM189.8,369.9 190.4,370.3 191.1,372.3 190.8,374.4 189.8,376.8 189.0,376.0 188.6,374.3 188.9,372.3ZM229.1,370.5 229.1,374.2ZM216.5,372.2 216.8,372.0 217.5,373.3 217.8,375.3 217.5,377.9 216.5,381.2 215.7,379.3 215.5,377.6ZM149.5,372.9 149.9,372.9 150.8,374.0 151.4,375.6 150.8,377.3 149.5,378.8 148.2,377.3 147.8,376.0 148.2,374.8ZM196.4,373.2 196.7,373.0 197.0,373.4 197.8,375.6 197.4,378.1 196.4,380.4 195.7,379.3 195.3,377.6ZM142.9,373.4 144.2,375.0 144.8,376.3 144.6,377.3 143.1,379.9 144.7,382.9 144.6,383.9 143.3,386.5 143.7,387.5 142.2,387.5 142.5,386.5 141.3,383.5 141.5,382.2 142.7,379.9 141.4,377.6 141.3,376.3ZM183.2,374.4 184.1,375.6 184.4,376.9 184.1,378.6 183.2,381.1 182.2,379.9 181.9,378.6 182.2,376.7ZM203.3,376.0 204.1,377.3 204.4,378.9 203.3,383.8 203.0,383.7 202.3,382.4 202.1,380.9 202.3,378.9ZM43.6,376.6 44.0,379.9 43.6,382.0ZM189.8,378.1 190.4,378.5 191.1,380.6 190.8,382.6 189.8,384.9 188.9,383.5 188.6,382.2ZM209.9,378.8 210.9,380.4 211.1,381.9 209.9,387.4 208.9,385.3 208.8,383.9ZM149.5,379.7 150.8,380.8 151.4,382.2 150.8,384.1 149.5,385.6 148.2,384.0 147.8,382.9 148.2,381.6ZM229.1,381.1 229.1,384.5ZM196.7,381.4 197.6,383.2 197.7,385.2 197.1,387.5 195.7,387.5 195.4,384.9 196.1,382.5ZM216.5,381.7 216.8,381.6 217.7,383.5 217.6,386.5 217.4,387.5 215.5,387.5ZM183.2,382.1 184.2,383.6 184.2,385.9 183.7,387.5 182.2,387.5 182.0,385.2ZM203.3,384.6 204.1,385.9 204.4,387.5 202.3,387.5ZM189.8,386.0 190.1,386.1 190.9,387.5 189.2,387.5ZM149.5,386.4 150.8,387.5 148.7,387.5ZM43.6,386.8 43.7,387.5Z"/></g></g>
<circle cx="136.2" cy="301.4" r="34.4" fill="#1a0808"/>
<circle cx="136.2" cy="301.4" r="33.1" fill="none" stroke="#d8b0b0" stroke-width="0.8" stroke-dasharray="1.6 1.1"/>
<circle cx="136.2" cy="301.4" r="32.3" fill="#0a0a0a"/>
<circle cx="136.2" cy="300.8" r="28.4" fill="#fff"/>
<circle cx="136.2" cy="301.8" r="79.2" fill="none" stroke="#111" stroke-width="1.8" stroke-dasharray="2.6 1.5"/>
<path d="M181.4,231.2 L178.5,241.9" stroke="#111" stroke-width="1.3"/>
<rect x="238.6" y="217" width="8.4" height="168.7" fill="url(#cbar)" stroke="#555" stroke-width="0.5"/>
<line x1="238.6" y1="238.09" x2="240" y2="238.09" stroke="#666" stroke-width="0.6"/>
<line x1="245.6" y1="238.09" x2="247" y2="238.09" stroke="#666" stroke-width="0.6"/>
<line x1="238.6" y1="259.18" x2="240" y2="259.18" stroke="#666" stroke-width="0.6"/>
<line x1="245.6" y1="259.18" x2="247" y2="259.18" stroke="#666" stroke-width="0.6"/>
<line x1="238.6" y1="280.26" x2="240" y2="280.26" stroke="#666" stroke-width="0.6"/>
<line x1="245.6" y1="280.26" x2="247" y2="280.26" stroke="#666" stroke-width="0.6"/>
<line x1="238.6" y1="301.35" x2="240" y2="301.35" stroke="#666" stroke-width="0.6"/>
<line x1="245.6" y1="301.35" x2="247" y2="301.35" stroke="#666" stroke-width="0.6"/>
<line x1="238.6" y1="322.44" x2="240" y2="322.44" stroke="#666" stroke-width="0.6"/>
<line x1="245.6" y1="322.44" x2="247" y2="322.44" stroke="#666" stroke-width="0.6"/>
<line x1="238.6" y1="343.52" x2="240" y2="343.52" stroke="#666" stroke-width="0.6"/>
<line x1="245.6" y1="343.52" x2="247" y2="343.52" stroke="#666" stroke-width="0.6"/>
<line x1="238.6" y1="364.61" x2="240" y2="364.61" stroke="#666" stroke-width="0.6"/>
<line x1="245.6" y1="364.61" x2="247" y2="364.61" stroke="#666" stroke-width="0.6"/>
<g font-family="Liberation Serif, serif" font-size="17" fill="#222">
<text x="253.4" y="225.1" font-size="17.6">Max</text>
<text x="251.2" y="389.8" font-size="17.6">Min</text>
<text transform="translate(279.9,374.8) rotate(-90)" font-size="17.4">Normalized pressure</text>
<text transform="translate(300.6,319.6) rotate(-90)">(a.u.)</text>
<text x="-0.3" y="210">(c)</text>
</g>
<g font-family="Liberation Serif, serif" font-size="17" fill="#222">
<text x="318.6" y="210.2">(d)</text>
<text x="376.6" y="211.9" font-size="17.3">abs (pressure) (Pa)</text>
<text x="540.6" y="225.2">w HM</text>
<text x="542.4" y="241.5">w/o HM</text>
</g>
<line x1="496.4" y1="219.7" x2="534.2" y2="219.7" stroke="#e01818" stroke-width="1.5"/>
<line x1="496.4" y1="236.7" x2="534.2" y2="236.7" stroke="#1818d8" stroke-width="1.4" stroke-dasharray="2.6 1.5"/>
<path d="M324.7,233.1 H321.7 V310.5 H324.7" fill="none" stroke="#222" stroke-width="1.3"/>
<line x1="321.7" y1="252.45" x2="324.7" y2="252.45" stroke="#222" stroke-width="1.3"/>
<line x1="321.7" y1="271.8" x2="324.7" y2="271.8" stroke="#222" stroke-width="1.3"/>
<line x1="321.7" y1="291.15" x2="324.7" y2="291.15" stroke="#222" stroke-width="1.3"/>
<g font-family="Liberation Serif, serif" font-size="12.5" fill="#333"><text x="327.6" y="238.4">1</text><text x="326.6" y="314.6">0</text></g>
<circle cx="439.0" cy="310.8" r="19.05" fill="none" stroke="#858585" stroke-width="1.1" stroke-dasharray="4.4 4"/>
<circle cx="439.0" cy="310.8" r="38.1" fill="none" stroke="#858585" stroke-width="1.1" stroke-dasharray="4.4 4"/>
<circle cx="439.0" cy="310.8" r="57.15" fill="none" stroke="#858585" stroke-width="1.1" stroke-dasharray="4.4 4"/>
<line x1="439.0" y1="310.8" x2="515.2" y2="310.8" stroke="#858585" stroke-width="1.1" stroke-dasharray="4.4 4"/>
<line x1="439.0" y1="310.8" x2="492.88" y2="256.92" stroke="#858585" stroke-width="1.1" stroke-dasharray="4.4 4"/>
<line x1="439.0" y1="310.8" x2="439" y2="234.6" stroke="#858585" stroke-width="1.1" stroke-dasharray="4.4 4"/>
<line x1="439.0" y1="310.8" x2="385.12" y2="256.92" stroke="#858585" stroke-width="1.1" stroke-dasharray="4.4 4"/>
<line x1="439.0" y1="310.8" x2="362.8" y2="310.8" stroke="#858585" stroke-width="1.1" stroke-dasharray="4.4 4"/>
<line x1="439.0" y1="310.8" x2="385.12" y2="364.68" stroke="#858585" stroke-width="1.1" stroke-dasharray="4.4 4"/>
<line x1="439.0" y1="310.8" x2="439" y2="387" stroke="#858585" stroke-width="1.1" stroke-dasharray="4.4 4"/>
<line x1="439.0" y1="310.8" x2="492.88" y2="364.68" stroke="#858585" stroke-width="1.1" stroke-dasharray="4.4 4"/>
<circle cx="439.0" cy="310.8" r="76.2" fill="none" stroke="#111" stroke-width="2"/>
<line x1="515.2" y1="310.8" x2="512" y2="310.8" stroke="#111" stroke-width="1.3"/>
<line x1="492.88" y1="256.92" x2="490.62" y2="259.18" stroke="#111" stroke-width="1.3"/>
<line x1="439" y1="234.6" x2="439" y2="237.8" stroke="#111" stroke-width="1.3"/>
<line x1="385.12" y1="256.92" x2="387.38" y2="259.18" stroke="#111" stroke-width="1.3"/>
<line x1="362.8" y1="310.8" x2="366" y2="310.8" stroke="#111" stroke-width="1.3"/>
<line x1="385.12" y1="364.68" x2="387.38" y2="362.42" stroke="#111" stroke-width="1.3"/>
<line x1="439" y1="387" x2="439" y2="383.8" stroke="#111" stroke-width="1.3"/>
<line x1="492.88" y1="364.68" x2="490.62" y2="362.42" stroke="#111" stroke-width="1.3"/>
<g font-family="Liberation Sans, sans-serif" font-size="12" fill="#222" text-anchor="middle">
<text x="522.3" y="315">0</text>
<text x="502.6" y="251">45</text>
<text x="439" y="227.8">90</text>
<text x="372.1" y="251">135</text>
<text x="348.6" y="314.8">180</text>
<text x="371.8" y="378.7">225</text>
<text x="439" y="401.9">270</text>
<text x="506.2" y="378.7">315</text>
</g>
<path d="M429.2,310.8 429.3,311.6 429.4,312.4 429.6,313.2 429.8,313.9 430.2,314.6 430.6,315.3 431.1,316.0 431.6,316.6 432.2,317.1 432.8,317.6 433.5,318.0 434.3,318.3 435.0,318.6 435.8,318.8 436.6,318.9 437.4,319.0 438.2,318.9 439.0,318.8 439.8,318.6 440.6,318.3 441.5,317.9 442.4,317.3 442.8,317.2 442.9,317.1 443.1,317.0 443.2,316.9 443.2,316.7 443.3,316.7 443.7,316.8 443.9,316.8 443.9,316.7 443.9,316.4 444.0,316.4 444.0,316.2 444.2,316.2 444.3,316.1 444.9,316.3 445.1,316.5 445.0,316.3 444.9,316.0 444.6,315.6 444.6,315.5 444.6,315.4 445.0,315.5 445.2,315.5 445.2,315.5 445.2,315.3 445.5,315.4 445.6,315.4 445.6,315.2 445.4,314.9 446.8,315.7 447.3,315.9 446.9,315.5 445.5,314.6 445.7,314.6 445.9,314.6 445.9,314.5 445.7,314.3 446.0,314.3 446.0,314.2 445.8,313.9 445.3,313.5 445.3,313.5 446.1,313.6 446.4,313.6 446.4,313.4 446.0,313.2 446.2,313.2 447.4,313.5 447.9,313.5 447.4,313.3 446.0,312.8 445.8,312.7 445.9,312.6 445.9,312.5 446.4,312.5 446.7,312.5 446.8,312.4 446.6,312.3 497.0,312.3 497.0,310.8 497.0,309.3 446.7,309.3 446.3,309.2 446.4,309.1 446.4,309.0 445.7,308.9 445.7,308.9 447.3,308.3 447.9,308.1 447.6,308.1 446.4,308.4 446.5,308.2 446.5,308.2 446.3,308.1 445.9,308.2 445.9,308.0 445.9,308.0 445.6,308.0 445.6,307.8 445.6,307.7 446.0,307.3 446.1,307.2 446.1,307.1 445.9,307.1 445.3,307.2 445.3,307.1 446.7,306.2 447.3,305.7 446.8,305.9 445.4,306.7 445.4,306.6 445.3,306.6 445.5,306.2 445.6,306.1 445.5,306.0 445.2,306.1 444.5,306.4 444.5,306.3 444.8,305.9 445.0,305.6 444.9,305.5 444.7,305.5 445.1,305.1 444.7,305.4 444.6,305.3 444.5,305.3 443.8,305.6 443.8,305.6 444.0,305.1 444.0,304.9 444.0,304.9 443.9,304.9 443.6,304.9 443.5,304.8 443.2,304.9 443.1,304.7 443.0,304.6 443.0,304.4 442.6,304.4 442.3,304.3 441.2,303.6 440.0,303.1 438.7,302.7 437.4,302.6 436.6,302.7 435.8,302.8 435.0,303.0 434.3,303.3 433.5,303.6 432.8,304.0 432.2,304.5 431.6,305.0 431.1,305.6 430.6,306.3 430.2,307.0 429.8,307.7 429.6,308.4 429.4,309.2 429.3,310.0 429.2,310.8Z" fill="none" stroke="#1010e0" stroke-width="1.6" stroke-dasharray="2.4 1.6"/>
<path d="M437.3,310.8 437.7,310.9 437.7,311.0 437.4,311.2 437.7,311.3 437.8,311.3 437.8,311.4 437.5,311.7 437.9,311.6 437.9,311.6 436.0,313.5 435.6,314.0 435.4,314.2 435.6,314.1 436.2,313.7 438.2,311.9 438.2,311.9 438.1,312.3 438.4,312.1 437.9,313.5 437.8,313.9 438.5,312.4 438.5,312.3 438.6,312.4 438.8,312.1 438.9,312.1 438.9,315.6 438.9,316.5 439.0,316.8 439.1,316.5 439.1,315.6 439.1,312.1 439.2,312.1 439.4,312.4 439.5,312.4 439.5,312.4 440.2,313.9 440.1,313.5 439.6,312.1 439.9,312.3 439.8,311.9 439.8,311.9 441.4,313.4 441.8,313.7 441.9,313.7 441.5,313.1 440.1,311.7 440.1,311.6 440.1,311.6 442.4,312.7 443.4,313.1 443.6,313.1 443.3,312.8 445.2,313.3 445.7,313.4 445.7,313.3 445.6,313.2 444.6,312.6 444.4,312.5 444.7,312.5 446.2,312.7 446.4,312.7 446.5,312.6 446.2,312.5 445.0,312.0 444.8,311.9 445.0,311.8 446.4,311.8 446.7,311.8 446.7,311.7 446.4,311.6 445.1,311.2 444.8,311.1 445.1,311.1 446.5,310.9 446.8,310.8 446.5,310.7 445.1,310.5 444.8,310.5 445.1,310.4 446.4,310.0 446.7,309.9 446.7,309.8 446.4,309.8 445.0,309.8 444.8,309.7 445.0,309.6 446.2,309.1 446.5,309.0 446.4,308.9 446.2,308.9 444.7,309.1 444.4,309.1 444.6,309.0 445.6,308.4 445.7,308.3 445.7,308.2 445.2,308.3 443.3,308.8 443.6,308.5 443.4,308.5 442.4,308.9 440.1,310.0 440.1,310.0 440.1,309.9 441.5,308.5 441.9,307.9 441.8,307.9 441.4,308.2 439.8,309.7 439.8,309.7 439.9,309.3 439.6,309.5 440.1,308.1 440.2,307.7 439.5,309.2 439.5,309.2 439.4,309.2 439.2,309.5 439.1,309.5 439.1,306.0 439.1,305.1 439.0,304.8 438.9,305.1 438.9,306.0 438.9,309.5 438.8,309.5 438.6,309.2 438.5,309.3 438.5,309.2 437.8,307.7 437.9,308.1 438.4,309.5 438.1,309.3 438.2,309.7 438.2,309.7 436.2,307.9 435.6,307.5 435.4,307.4 435.6,307.6 436.0,308.1 437.9,310.0 437.9,310.0 437.5,309.9 437.8,310.2 437.8,310.3 437.7,310.3 437.4,310.4 437.7,310.6 437.7,310.7 437.3,310.8Z" fill="#f01010"/>
<path d="M432.9,310.8 433.0,310.9 433.3,311.0 434.5,311.0 436.0,311.1 437.7,311.0 437.7,311.0 437.4,311.2 437.7,311.3 437.8,311.3 437.8,311.4 437.5,311.7 437.9,311.6 437.9,311.7 436.0,313.5 435.6,314.0 435.4,314.2 435.6,314.1 436.2,313.7 438.2,311.9 438.2,311.9 438.1,312.3 438.4,312.1 437.9,313.5 437.8,313.9 438.5,312.4 438.5,312.3 438.6,312.4 438.8,312.1 438.9,312.1 438.9,315.6 438.9,316.5 439.0,316.8 439.1,316.5 439.1,315.6 439.1,312.1 439.2,312.1 439.4,312.4 439.5,312.4 439.5,312.4 440.2,313.9 440.1,313.5 439.6,312.1 439.9,312.3 439.8,311.9 439.8,311.9 441.4,313.4 441.8,313.7 441.9,313.7 441.5,313.1 440.1,311.7 440.1,311.6 440.1,311.6 441.3,312.2 443.9,313.6 445.4,314.3 445.0,314.0 443.4,313.1 443.6,313.1 443.3,312.8 443.6,312.8 446.4,313.9 447.4,314.2 447.4,314.1 447.1,313.9 445.8,313.3 445.6,313.1 444.6,312.6 444.4,312.5 444.7,312.5 446.1,312.7 446.8,312.7 444.9,312.0 444.8,311.9 445.0,311.8 446.5,311.8 448.7,311.9 450.7,311.9 452.5,311.9 454.1,311.8 455.8,311.6 457.1,311.4 457.9,311.1 458.0,310.9 458.1,310.8 458.0,310.7 457.9,310.5 457.1,310.2 455.8,310.0 454.1,309.8 452.5,309.7 450.7,309.7 448.7,309.7 446.5,309.8 445.0,309.8 444.8,309.7 444.9,309.6 446.8,308.9 446.1,308.9 444.7,309.1 444.4,309.1 444.6,309.0 445.6,308.5 445.8,308.3 447.1,307.7 447.4,307.5 447.4,307.4 446.4,307.7 443.6,308.8 443.3,308.8 443.6,308.5 443.4,308.5 445.0,307.6 445.4,307.3 443.9,308.0 441.3,309.4 440.1,310.0 440.1,310.0 440.1,309.9 441.5,308.5 441.9,307.9 441.8,307.9 441.4,308.2 439.8,309.7 439.8,309.7 439.9,309.3 439.6,309.5 440.1,308.1 440.2,307.7 439.5,309.2 439.5,309.2 439.4,309.2 439.2,309.5 439.1,309.5 439.1,306.0 439.1,305.1 439.0,304.8 438.9,305.1 438.9,306.0 438.9,309.5 438.8,309.5 438.6,309.2 438.5,309.3 438.5,309.2 437.8,307.7 437.9,308.1 438.4,309.5 438.1,309.3 438.2,309.7 438.2,309.7 436.2,307.9 435.6,307.5 435.4,307.4 435.6,307.6 436.0,308.1 437.9,309.9 437.9,310.0 437.5,309.9 437.8,310.2 437.8,310.3 437.7,310.3 437.4,310.4 437.7,310.6 437.7,310.6 436.0,310.5 434.5,310.6 433.3,310.6 433.0,310.7 432.9,310.8Z" fill="none" stroke="#f01010" stroke-width="1.1"/>
<rect x="428.5" y="300.6" width="31.1" height="20" fill="none" stroke="#c03a9c" stroke-width="1.4" stroke-dasharray="1.8 1.4"/>
<defs><clipPath id="clipPin"><rect x="529.4" y="305.6" width="125.8" height="73"/></clipPath></defs>
<g clip-path="url(#clipPin)">
<circle cx="573.6" cy="342.2" r="78.1" fill="none" stroke="#858585" stroke-width="1.3" stroke-dasharray="6 5"/>
<circle cx="573.6" cy="342.2" r="156.21" fill="none" stroke="#858585" stroke-width="1.3" stroke-dasharray="6 5"/>
<line x1="573.6" y1="342.2" x2="873.6" y2="342.2" stroke="#858585" stroke-width="1.3" stroke-dasharray="6 5"/>
<line x1="573.6" y1="342.2" x2="785.73" y2="130.07" stroke="#858585" stroke-width="1.3" stroke-dasharray="6 5"/>
<line x1="573.6" y1="342.2" x2="573.6" y2="42.2" stroke="#858585" stroke-width="1.3" stroke-dasharray="6 5"/>
<line x1="573.6" y1="342.2" x2="361.47" y2="130.07" stroke="#858585" stroke-width="1.3" stroke-dasharray="6 5"/>
<line x1="573.6" y1="342.2" x2="273.6" y2="342.2" stroke="#858585" stroke-width="1.3" stroke-dasharray="6 5"/>
<line x1="573.6" y1="342.2" x2="361.47" y2="554.33" stroke="#858585" stroke-width="1.3" stroke-dasharray="6 5"/>
<line x1="573.6" y1="342.2" x2="573.6" y2="642.2" stroke="#858585" stroke-width="1.3" stroke-dasharray="6 5"/>
<line x1="573.6" y1="342.2" x2="785.73" y2="554.33" stroke="#858585" stroke-width="1.3" stroke-dasharray="6 5"/>
<path d="M533.5,342.2 533.7,345.5 534.1,348.7 534.9,351.9 536.0,355.0 537.4,358.0 539.1,360.8 541.1,363.4 543.3,365.9 545.7,368.1 548.4,370.0 551.2,371.7 554.2,373.1 557.3,374.3 560.5,375.1 563.7,375.5 567.0,375.7 570.3,375.5 573.7,375.0 576.9,374.2 580.0,373.1 583.9,371.1 587.5,368.7 589.0,368.4 589.4,368.2 589.6,367.9 590.4,367.7 590.7,367.3 590.8,366.6 591.2,366.2 592.8,366.9 593.2,367.0 593.5,366.9 593.7,366.4 593.5,365.3 593.9,365.2 594.1,365.0 594.1,364.2 594.9,364.2 595.1,364.1 595.2,363.8 596.7,364.5 597.6,364.8 598.4,365.4 598.0,364.7 598.1,364.3 597.8,363.6 596.4,361.7 596.7,361.4 596.7,361.0 598.0,361.5 598.8,361.6 599.0,361.3 598.8,360.6 600.1,361.0 600.8,360.9 600.9,360.6 600.7,360.3 599.7,358.9 605.8,362.3 607.2,363.0 607.7,363.1 607.3,362.6 606.0,361.6 600.1,357.7 601.2,357.9 601.8,357.8 601.9,357.6 601.8,357.3 601.2,356.5 602.2,356.4 602.4,356.2 602.4,356.0 602.2,355.6 601.5,355.0 599.4,353.4 599.5,353.2 602.7,353.7 603.5,353.7 604.0,353.6 604.1,353.3 603.8,353.0 602.4,351.9 602.7,351.8 603.1,351.8 608.0,353.1 609.9,353.4 608.2,352.6 602.3,350.5 601.4,350.0 601.8,349.7 601.8,349.3 604.1,349.3 605.2,349.1 605.4,348.9 605.4,348.7 604.8,348.2 811.5,348.2 811.6,342.2 811.5,336.2 605.1,336.2 604.4,335.9 603.4,335.8 604.1,335.0 604.0,334.8 603.8,334.7 602.7,334.5 600.9,334.6 600.9,334.4 607.5,332.1 609.3,331.3 609.9,331.0 608.7,331.1 603.9,332.3 604.4,331.7 604.2,331.4 603.4,331.3 601.8,331.4 602.0,330.9 601.8,330.6 601.4,330.5 600.5,330.5 600.8,329.9 600.6,329.4 602.5,327.8 602.8,327.2 602.8,326.9 602.5,326.8 601.8,326.8 599.3,327.5 599.3,327.2 605.3,323.2 607.3,321.8 607.7,321.3 607.2,321.4 605.8,322.1 600.0,325.3 599.8,324.9 599.3,324.8 600.4,323.2 600.5,322.8 600.3,322.6 599.8,322.6 598.9,322.9 596.3,324.2 596.1,323.9 597.5,322.1 598.0,321.1 598.1,320.8 597.9,320.6 597.2,320.6 598.4,319.0 596.8,320.2 596.7,319.6 596.2,319.6 595.1,320.0 593.4,321.0 593.3,320.8 594.2,318.6 594.3,318.2 594.1,317.8 593.5,317.8 592.6,318.1 592.4,317.7 592.0,317.6 590.8,317.8 590.3,317.4 590.2,316.6 589.8,316.2 589.4,316.0 588.4,316.1 587.2,315.5 584.9,313.9 582.5,312.5 580.2,311.4 577.7,310.5 575.1,309.7 572.4,309.1 569.7,308.8 567.0,308.7 563.7,308.9 560.5,309.3 557.3,310.1 554.2,311.3 551.2,312.7 548.4,314.4 545.7,316.3 543.3,318.5 541.1,321.0 539.1,323.6 537.4,326.4 536.0,329.4 534.9,332.5 534.1,335.7 533.7,338.9 533.5,342.2Z" fill="none" stroke="#1010e0" stroke-width="2.4" stroke-dasharray="3.6 2.2"/>
<path d="M566.6,342.2 566.9,342.4 568.0,342.7 568.1,342.8 568.1,343.2 566.8,344.0 567.1,344.1 568.3,344.1 568.5,344.3 568.5,344.6 567.7,345.4 567.5,345.7 569.0,345.4 569.2,345.5 569.2,345.6 561.5,353.1 559.5,355.3 559.0,356.2 559.2,356.3 559.8,355.9 562.0,354.2 565.0,351.4 569.6,347.0 570.2,346.6 570.4,346.8 570.1,348.2 570.3,348.2 570.9,347.6 570.9,347.7 569.0,353.3 568.6,354.5 568.6,354.7 569.4,353.3 571.5,348.6 571.6,348.5 571.7,348.9 571.9,348.9 572.6,347.7 573.0,347.7 573.1,348.6 573.2,361.9 573.3,365.4 573.6,366.7 573.9,365.4 574.0,361.9 574.1,348.6 574.2,347.7 574.6,347.7 575.3,348.9 575.4,348.9 575.6,348.7 575.7,348.8 577.7,353.4 578.5,354.8 578.1,353.2 576.2,347.6 576.2,347.5 576.9,348.2 577.1,348.3 576.8,346.8 577.0,346.6 577.7,347.0 583.6,352.7 585.1,354.0 585.6,354.2 585.2,353.5 583.7,351.8 578.2,346.0 578.0,345.7 578.2,345.4 587.7,350.0 591.6,351.6 592.2,351.8 592.4,351.7 591.2,350.4 591.2,350.2 592.4,350.4 598.9,352.3 600.5,352.6 601.1,352.7 601.3,352.5 600.6,351.9 596.5,349.7 595.9,349.2 597.0,349.1 603.0,349.9 604.1,349.9 604.4,349.9 604.4,349.7 603.2,349.0 598.0,347.0 597.3,346.7 597.2,346.5 598.1,346.4 604.0,346.4 605.1,346.2 605.4,346.0 604.9,345.7 603.9,345.4 598.5,344.0 597.7,343.8 597.6,343.6 598.5,343.4 604.3,342.7 605.3,342.4 605.6,342.2 605.3,342.0 604.3,341.7 598.5,341.0 597.6,340.8 597.7,340.6 598.5,340.4 603.9,339.0 604.9,338.7 605.4,338.4 605.1,338.2 604.0,338.0 598.1,338.0 597.2,337.9 597.3,337.7 598.0,337.4 603.2,335.4 604.4,334.7 604.4,334.5 604.1,334.5 603.0,334.5 597.0,335.3 595.9,335.2 596.5,334.7 600.6,332.5 601.3,331.9 601.1,331.7 600.5,331.8 598.9,332.1 592.4,334.0 591.2,334.2 591.2,334.0 592.4,332.7 592.2,332.6 591.6,332.8 587.7,334.4 578.2,339.0 578.0,338.7 578.2,338.4 583.7,332.6 585.2,330.9 585.6,330.2 585.1,330.4 583.6,331.7 577.7,337.4 577.0,337.8 576.8,337.6 577.1,336.1 576.9,336.2 576.2,336.9 576.2,336.8 578.1,331.2 578.5,329.6 577.7,331.0 575.7,335.6 575.6,335.7 575.4,335.5 575.3,335.5 574.6,336.7 574.2,336.7 574.1,335.8 574.0,322.5 573.9,319.0 573.6,317.7 573.3,319.0 573.2,322.5 573.1,335.8 573.0,336.7 572.6,336.7 571.9,335.5 571.7,335.5 571.6,335.9 571.5,335.8 569.4,331.1 568.6,329.7 568.6,329.9 569.0,331.1 570.9,336.7 570.9,336.8 570.3,336.2 570.1,336.2 570.4,337.6 570.2,337.8 569.6,337.4 565.0,333.0 562.0,330.2 559.8,328.5 559.2,328.1 559.0,328.2 559.5,329.1 561.5,331.3 569.2,338.8 569.2,338.9 569.0,339.0 567.5,338.7 567.7,339.0 568.5,339.8 568.5,340.1 568.3,340.3 567.1,340.3 566.8,340.4 568.1,341.2 568.1,341.6 568.0,341.7 566.9,342.0 566.6,342.2Z" fill="#f01010"/>
<path d="M548.6,342.2 549.0,342.5 550.3,342.8 555.1,343.2 561.5,343.2 568.1,342.9 568.1,343.2 567.0,343.8 566.8,344.0 568.3,344.1 568.5,344.3 568.5,344.6 567.6,345.5 567.6,345.7 569.0,345.4 569.2,345.5 569.1,345.7 561.5,353.1 559.5,355.3 559.0,356.2 559.2,356.3 559.8,355.9 562.0,354.2 565.0,351.4 569.6,347.0 570.2,346.6 570.4,346.8 570.1,348.2 570.3,348.2 570.9,347.6 570.9,347.7 569.0,353.3 568.6,354.5 568.6,354.7 569.4,353.3 571.5,348.6 571.6,348.5 571.7,348.9 571.9,348.9 572.6,347.7 573.0,347.7 573.1,348.6 573.2,361.9 573.3,365.4 573.6,366.7 573.9,365.4 574.0,361.9 574.1,348.7 574.2,347.7 574.6,347.7 575.3,348.9 575.4,348.9 575.6,348.7 575.7,348.8 577.7,353.4 578.5,354.8 578.1,353.2 576.2,347.6 576.2,347.5 576.9,348.2 577.1,348.3 576.8,346.8 577.0,346.6 577.7,347.0 583.6,352.7 585.1,354.0 585.6,354.2 585.2,353.5 583.7,351.8 578.2,346.0 578.0,345.7 578.1,345.4 583.1,347.8 593.8,353.6 598.3,355.9 599.9,356.6 599.6,356.3 598.1,355.3 591.8,351.7 592.2,351.8 592.4,351.7 591.2,350.3 591.5,350.2 592.3,350.4 603.8,354.8 606.8,355.8 607.9,356.0 607.8,355.8 606.6,355.0 601.3,352.6 601.1,352.3 600.5,351.8 596.5,349.7 595.9,349.2 597.0,349.1 602.7,349.9 604.3,349.9 605.5,350.1 605.6,350.0 602.2,348.5 597.8,346.9 597.2,346.5 598.1,346.4 604.3,346.4 613.4,346.8 621.6,346.9 629.1,346.7 635.5,346.4 642.3,345.7 647.6,344.6 649.7,344.0 650.9,343.4 651.7,342.8 651.9,342.2 651.7,341.6 650.9,341.0 649.7,340.4 647.6,339.8 642.3,338.7 635.5,338.0 629.1,337.7 621.6,337.5 613.4,337.6 604.3,338.0 598.1,338.0 597.2,337.9 597.8,337.5 602.2,335.9 605.6,334.4 605.5,334.3 604.3,334.5 602.7,334.5 597.0,335.3 595.9,335.2 596.5,334.7 600.5,332.6 601.1,332.1 601.3,331.8 606.6,329.4 607.8,328.6 607.9,328.4 606.8,328.6 603.8,329.6 592.3,334.0 591.5,334.2 591.2,334.1 592.4,332.7 592.2,332.6 591.8,332.7 598.1,329.1 599.6,328.1 599.9,327.8 598.3,328.5 593.8,330.8 583.1,336.6 578.1,339.0 578.0,338.7 578.2,338.4 583.7,332.6 585.2,330.9 585.6,330.2 585.1,330.4 583.6,331.7 577.7,337.4 577.0,337.8 576.8,337.6 577.1,336.1 576.9,336.2 576.2,336.9 576.2,336.8 578.1,331.2 578.5,329.6 577.7,331.0 575.7,335.6 575.6,335.7 575.4,335.5 575.3,335.5 574.6,336.7 574.2,336.7 574.1,335.7 574.0,322.5 573.9,319.0 573.6,317.7 573.3,319.0 573.2,322.5 573.1,335.8 573.0,336.7 572.6,336.7 571.9,335.5 571.7,335.5 571.6,335.9 571.5,335.8 569.4,331.1 568.6,329.7 568.6,329.9 569.0,331.1 570.9,336.7 570.9,336.8 570.3,336.2 570.1,336.2 570.4,337.6 570.2,337.8 569.6,337.4 565.0,333.0 562.0,330.2 559.8,328.5 559.2,328.1 559.0,328.2 559.5,329.1 561.5,331.3 569.1,338.7 569.2,338.9 569.0,339.0 567.6,338.7 567.6,338.9 568.5,339.8 568.5,340.1 568.3,340.3 566.8,340.4 567.0,340.6 568.1,341.2 568.1,341.5 561.5,341.2 555.1,341.2 550.3,341.6 549.0,341.9 548.6,342.2Z" fill="none" stroke="#f01010" stroke-width="1.5"/>
</g>
<rect x="529.4" y="305.6" width="125.8" height="73" fill="none" stroke="#c03a9c" stroke-width="1.7" stroke-dasharray="2.6 1.7"/>
</svg>
</body></html>
